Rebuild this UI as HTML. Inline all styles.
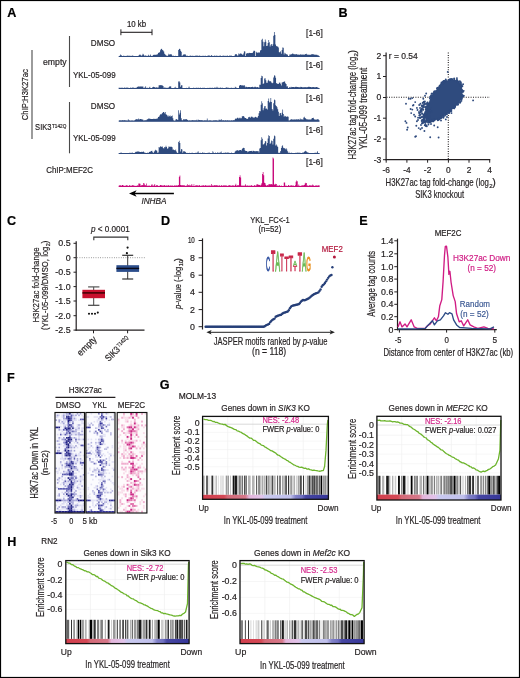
<!DOCTYPE html>
<html><head><meta charset="utf-8"><style>
html,body{margin:0;padding:0;background:#fff;}
svg{display:block;will-change:transform;font-family:"Liberation Sans", sans-serif;}
</style></head><body>
<svg width="520" height="678" viewBox="0 0 520 678" fill="#231f20">
<rect width="520" height="678" fill="#fff"/>
<text x="7.2" y="16.9" font-weight="bold" fill="#000" stroke="#000" stroke-width="0.2" font-size="12.6">A</text>
<text x="338.6" y="16.9" font-weight="bold" fill="#000" stroke="#000" stroke-width="0.2" font-size="12.6">B</text>
<text x="7" y="225.3" font-weight="bold" fill="#000" stroke="#000" stroke-width="0.2" font-size="12.6">C</text>
<text x="161" y="225.3" font-weight="bold" fill="#000" stroke="#000" stroke-width="0.2" font-size="12.6">D</text>
<text x="359.2" y="225.4" font-weight="bold" fill="#000" stroke="#000" stroke-width="0.2" font-size="12.6">E</text>
<text x="7" y="381.9" font-weight="bold" fill="#000" stroke="#000" stroke-width="0.2" font-size="12.6">F</text>
<text x="159.8" y="389.2" font-weight="bold" fill="#000" stroke="#000" stroke-width="0.2" font-size="12.6">G</text>
<text x="7.3" y="546.2" font-weight="bold" fill="#000" stroke="#000" stroke-width="0.2" font-size="12.6">H</text>
<text x="126.9" y="26.7" stroke="#231f20" stroke-width="0.2" textLength="19.2" lengthAdjust="spacingAndGlyphs" font-size="8.4">10 kb</text>
<line x1="120.9" y1="32.3" x2="152" y2="32.3" stroke="#231f20" stroke-width="1.1" />
<line x1="120.9" y1="29.3" x2="120.9" y2="35.2" stroke="#231f20" stroke-width="1" />
<line x1="152" y1="29.3" x2="152" y2="35.2" stroke="#231f20" stroke-width="1" />
<text x="90.8" y="45.8" stroke="#231f20" stroke-width="0.2" textLength="24.4" lengthAdjust="spacingAndGlyphs" font-size="9.3">DMSO</text>
<text x="43" y="64.5" stroke="#231f20" stroke-width="0.2" textLength="23.7" lengthAdjust="spacingAndGlyphs" font-size="9.4">empty</text>
<text x="72.9" y="77.5" stroke="#231f20" stroke-width="0.2" textLength="42.8" lengthAdjust="spacingAndGlyphs" font-size="9.4">YKL-05-099</text>
<text x="90.8" y="109.3" stroke="#231f20" stroke-width="0.2" textLength="24.4" lengthAdjust="spacingAndGlyphs" font-size="9.3">DMSO</text>
<text x="35.1" y="130.4" stroke="#231f20" stroke-width="0.2" textLength="16.4" lengthAdjust="spacingAndGlyphs" font-size="9.8">SIK3</text>
<text x="52" y="127.7" stroke="#231f20" stroke-width="0.2" textLength="14.3" lengthAdjust="spacingAndGlyphs" font-size="5.6">T142Q</text>
<text x="72.9" y="140.9" stroke="#231f20" stroke-width="0.2" textLength="42.8" lengthAdjust="spacingAndGlyphs" font-size="9.4">YKL-05-099</text>
<text transform="translate(27.6 120.2) rotate(-90)" stroke="#231f20" stroke-width="0.2" textLength="51" lengthAdjust="spacingAndGlyphs" font-size="9.6">ChIP:H3K27ac</text>
<text x="46.2" y="172.9" stroke="#231f20" stroke-width="0.2" textLength="46.8" lengthAdjust="spacingAndGlyphs" font-size="9.6">ChIP:MEF2C</text>
<text x="141.4" y="203.8" font-style="italic" stroke="#231f20" stroke-width="0.2" textLength="25.1" lengthAdjust="spacingAndGlyphs" font-size="9.2">INHBA</text>
<text x="306.1" y="36.1" stroke="#231f20" stroke-width="0.2" textLength="16.6" lengthAdjust="spacingAndGlyphs" font-size="8.4">[1-6]</text>
<text x="306.1" y="68.4" stroke="#231f20" stroke-width="0.2" textLength="16.6" lengthAdjust="spacingAndGlyphs" font-size="8.4">[1-6]</text>
<text x="306.1" y="101" stroke="#231f20" stroke-width="0.2" textLength="16.6" lengthAdjust="spacingAndGlyphs" font-size="8.4">[1-6]</text>
<text x="306.1" y="133.3" stroke="#231f20" stroke-width="0.2" textLength="16.6" lengthAdjust="spacingAndGlyphs" font-size="8.4">[1-6]</text>
<text x="306.1" y="165.3" stroke="#231f20" stroke-width="0.2" textLength="16.6" lengthAdjust="spacingAndGlyphs" font-size="8.4">[1-6]</text>
<line x1="32" y1="50" x2="32" y2="138.9" stroke="#4a4a4a" stroke-width="1.1" />
<line x1="69.5" y1="36" x2="69.5" y2="87" stroke="#4a4a4a" stroke-width="1.1" />
<line x1="69.5" y1="102" x2="69.5" y2="153.3" stroke="#4a4a4a" stroke-width="1.1" />
<line x1="134" y1="193.5" x2="173.9" y2="193.5" stroke="#000" stroke-width="1.3" />
<path d="M129 193.5 L136.6 190.2 L134.6 193.5 L136.6 196.8Z" fill="#000" stroke="none" stroke-width="1" />
<path d="M118.8 57 L118.8 56.19 L119.5 56.19 L119.5 55.78 L120.2 55.78 L120.2 54.61 L120.9 54.61 L120.9 55.07 L121.6 55.07 L121.6 56.28 L122.29 56.28 L122.29 56.12 L122.99 56.12 L122.99 55.79 L123.69 55.79 L123.69 55.72 L124.39 55.72 L124.39 56.06 L125.09 56.06 L125.09 56.27 L125.79 56.27 L125.79 55.74 L126.49 55.74 L126.49 55.88 L127.19 55.88 L127.19 55.51 L127.89 55.51 L127.89 55.68 L128.59 55.68 L128.59 55.84 L129.28 55.84 L129.28 55.67 L129.98 55.67 L129.98 55.85 L130.68 55.85 L130.68 55.9 L131.38 55.9 L131.38 55.81 L132.08 55.81 L132.08 55.61 L132.78 55.61 L132.78 55.76 L133.48 55.76 L133.48 56.21 L134.18 56.21 L134.18 56.17 L134.88 56.17 L134.88 56.28 L135.57 56.28 L135.57 55.89 L136.27 55.89 L136.27 56.18 L136.97 56.18 L136.97 56.12 L137.67 56.12 L137.67 55.98 L138.37 55.98 L138.37 55.53 L139.07 55.53 L139.07 54.86 L139.77 54.86 L139.77 54.5 L140.47 54.5 L140.47 55.32 L141.17 55.32 L141.17 55.77 L141.87 55.77 L141.87 55.19 L142.56 55.19 L142.56 53.83 L143.26 53.83 L143.26 54.6 L143.96 54.6 L143.96 55.69 L144.66 55.69 L144.66 55.61 L145.36 55.61 L145.36 55.62 L146.06 55.62 L146.06 55.81 L146.76 55.81 L146.76 56.09 L147.46 56.09 L147.46 55.67 L148.16 55.67 L148.16 54.78 L148.86 54.78 L148.86 56.11 L149.55 56.11 L149.55 55.57 L150.25 55.57 L150.25 54.49 L150.95 54.49 L150.95 56.25 L151.65 56.25 L151.65 55.81 L152.35 55.81 L152.35 55.87 L153.05 55.87 L153.05 55.03 L153.75 55.03 L153.75 54.41 L154.45 54.41 L154.45 55.03 L155.15 55.03 L155.15 54.84 L155.84 54.84 L155.84 54.83 L156.54 54.83 L156.54 54.52 L157.24 54.52 L157.24 54.36 L157.94 54.36 L157.94 53.01 L158.64 53.01 L158.64 52.49 L159.34 52.49 L159.34 52.19 L160.04 52.19 L160.04 50.23 L160.74 50.23 L160.74 48.95 L161.44 48.95 L161.44 48.72 L162.14 48.72 L162.14 50 L162.83 50 L162.83 50.41 L163.53 50.41 L163.53 51.61 L164.23 51.61 L164.23 53.84 L164.93 53.84 L164.93 54.53 L165.63 54.53 L165.63 55.16 L166.33 55.16 L166.33 55.77 L167.03 55.77 L167.03 55.89 L167.73 55.89 L167.73 55.16 L168.43 55.16 L168.43 53.84 L169.12 53.84 L169.12 54.54 L169.82 54.54 L169.82 54.39 L170.52 54.39 L170.52 54.1 L171.22 54.1 L171.22 54.61 L171.92 54.61 L171.92 55.65 L172.62 55.65 L172.62 55.84 L173.32 55.84 L173.32 55.7 L174.02 55.7 L174.02 55.9 L174.72 55.9 L174.72 56.3 L175.42 56.3 L175.42 55.75 L176.11 55.75 L176.11 56.08 L176.81 56.08 L176.81 55.93 L177.51 55.93 L177.51 56.16 L178.21 56.16 L178.21 49.92 L178.91 49.92 L178.91 48.64 L179.61 48.64 L179.61 49.04 L180.31 49.04 L180.31 50.69 L181.01 50.69 L181.01 51.8 L181.71 51.8 L181.71 56.26 L182.4 56.26 L182.4 55.33 L183.1 55.33 L183.1 54.41 L183.8 54.41 L183.8 54.5 L184.5 54.5 L184.5 54.16 L185.2 54.16 L185.2 54.48 L185.9 54.48 L185.9 55.8 L186.6 55.8 L186.6 55.8 L187.3 55.8 L187.3 55.81 L188 55.81 L188 56.01 L188.7 56.01 L188.7 56.21 L189.39 56.21 L189.39 55.82 L190.09 55.82 L190.09 55.53 L190.79 55.53 L190.79 56.22 L191.49 56.22 L191.49 55.64 L192.19 55.64 L192.19 55.83 L192.89 55.83 L192.89 56.04 L193.59 56.04 L193.59 55.69 L194.29 55.69 L194.29 56.25 L194.99 56.25 L194.99 56.27 L195.69 56.27 L195.69 54.9 L196.38 54.9 L196.38 55.99 L197.08 55.99 L197.08 55.55 L197.78 55.55 L197.78 56.25 L198.48 56.25 L198.48 55.77 L199.18 55.77 L199.18 55.52 L199.88 55.52 L199.88 56.23 L200.58 56.23 L200.58 55.87 L201.28 55.87 L201.28 56.28 L201.98 56.28 L201.98 55.99 L202.67 55.99 L202.67 55.62 L203.37 55.62 L203.37 56.03 L204.07 56.03 L204.07 55.94 L204.77 55.94 L204.77 55.58 L205.47 55.58 L205.47 56.22 L206.17 56.22 L206.17 56.05 L206.87 56.05 L206.87 55.88 L207.57 55.88 L207.57 55.52 L208.27 55.52 L208.27 55.56 L208.97 55.56 L208.97 55.51 L209.66 55.51 L209.66 55.79 L210.36 55.79 L210.36 56.18 L211.06 56.18 L211.06 55.09 L211.76 55.09 L211.76 55.79 L212.46 55.79 L212.46 56.16 L213.16 56.16 L213.16 56.07 L213.86 56.07 L213.86 55.76 L214.56 55.76 L214.56 55.5 L215.26 55.5 L215.26 55.91 L215.95 55.91 L215.95 55.62 L216.65 55.62 L216.65 56.2 L217.35 56.2 L217.35 55.84 L218.05 55.84 L218.05 55.97 L218.75 55.97 L218.75 55.86 L219.45 55.86 L219.45 55.85 L220.15 55.85 L220.15 55.58 L220.85 55.58 L220.85 56 L221.55 56 L221.55 56.02 L222.25 56.02 L222.25 55.83 L222.94 55.83 L222.94 55.75 L223.64 55.75 L223.64 55.52 L224.34 55.52 L224.34 56.28 L225.04 56.28 L225.04 55.63 L225.74 55.63 L225.74 56.02 L226.44 56.02 L226.44 55.76 L227.14 55.76 L227.14 55.61 L227.84 55.61 L227.84 56.06 L228.54 56.06 L228.54 55.99 L229.23 55.99 L229.23 55.51 L229.93 55.51 L229.93 55.69 L230.63 55.69 L230.63 55.56 L231.33 55.56 L231.33 55.63 L232.03 55.63 L232.03 56.14 L232.73 56.14 L232.73 56.18 L233.43 56.18 L233.43 56.01 L234.13 56.01 L234.13 55.74 L234.83 55.74 L234.83 54.51 L235.53 54.51 L235.53 54.08 L236.22 54.08 L236.22 54.36 L236.92 54.36 L236.92 55.4 L237.62 55.4 L237.62 55.51 L238.32 55.51 L238.32 53.54 L239.02 53.54 L239.02 54.21 L239.72 54.21 L239.72 53.54 L240.42 53.54 L240.42 53.58 L241.12 53.58 L241.12 53.7 L241.82 53.7 L241.82 54.2 L242.51 54.2 L242.51 55.12 L243.21 55.12 L243.21 53.52 L243.91 53.52 L243.91 51.34 L244.61 51.34 L244.61 51.51 L245.31 51.51 L245.31 55.99 L246.01 55.99 L246.01 53.68 L246.71 53.68 L246.71 52.91 L247.41 52.91 L247.41 53.29 L248.11 53.29 L248.11 53.24 L248.81 53.24 L248.81 52.86 L249.5 52.86 L249.5 52.91 L250.2 52.91 L250.2 52.92 L250.9 52.92 L250.9 53.01 L251.6 53.01 L251.6 53.08 L252.3 53.08 L252.3 52.84 L253 52.84 L253 51.58 L253.7 51.58 L253.7 50.53 L254.4 50.53 L254.4 51.12 L255.1 51.12 L255.1 56.24 L255.8 56.24 L255.8 51.65 L256.49 51.65 L256.49 52.47 L257.19 52.47 L257.19 52.71 L257.89 52.71 L257.89 52.41 L258.59 52.41 L258.59 52.6 L259.29 52.6 L259.29 52.61 L259.99 52.61 L259.99 50.45 L260.69 50.45 L260.69 50.03 L261.39 50.03 L261.39 39.7 L262.09 39.7 L262.09 38.66 L262.78 38.66 L262.78 41.83 L263.48 41.83 L263.48 46.36 L264.18 46.36 L264.18 42.3 L264.88 42.3 L264.88 39.39 L265.58 39.39 L265.58 41.73 L266.28 41.73 L266.28 46.09 L266.98 46.09 L266.98 45.64 L267.68 45.64 L267.68 42.89 L268.38 42.89 L268.38 40.1 L269.08 40.1 L269.08 42.3 L269.77 42.3 L269.77 46.56 L270.47 46.56 L270.47 44.72 L271.17 44.72 L271.17 43.91 L271.87 43.91 L271.87 45.93 L272.57 45.93 L272.57 44.31 L273.27 44.31 L273.27 35.85 L273.97 35.85 L273.97 32.05 L274.67 32.05 L274.67 34.95 L275.37 34.95 L275.37 44.51 L276.06 44.51 L276.06 45.94 L276.76 45.94 L276.76 46.41 L277.46 46.41 L277.46 46.59 L278.16 46.59 L278.16 47.58 L278.86 47.58 L278.86 52.18 L279.56 52.18 L279.56 52.32 L280.26 52.32 L280.26 51.3 L280.96 51.3 L280.96 53.7 L281.66 53.7 L281.66 50.04 L282.36 50.04 L282.36 47.4 L283.05 47.4 L283.05 47.81 L283.75 47.81 L283.75 54.46 L284.45 54.46 L284.45 52.84 L285.15 52.84 L285.15 53.41 L285.85 53.41 L285.85 54.36 L286.55 54.36 L286.55 54.31 L287.25 54.31 L287.25 54.77 L287.95 54.77 L287.95 56.22 L288.65 56.22 L288.65 56.03 L289.34 56.03 L289.34 54.44 L290.04 54.44 L290.04 54.45 L290.74 54.45 L290.74 54.53 L291.44 54.53 L291.44 53.94 L292.14 53.94 L292.14 53.39 L292.84 53.39 L292.84 53.76 L293.54 53.76 L293.54 54.35 L294.24 54.35 L294.24 54.29 L294.94 54.29 L294.94 54.53 L295.64 54.53 L295.64 54.11 L296.33 54.11 L296.33 54.2 L297.03 54.2 L297.03 54.6 L297.73 54.6 L297.73 54.66 L298.43 54.66 L298.43 54.5 L299.13 54.5 L299.13 54.71 L299.83 54.71 L299.83 54.83 L300.53 54.83 L300.53 53.96 L301.23 53.96 L301.23 54.64 L301.93 54.64 L301.93 54.63 L302.63 54.63 L302.63 54.18 L303.32 54.18 L303.32 54.85 L304.02 54.85 L304.02 54.79 L304.72 54.79 L304.72 54.27 L305.42 54.27 L305.42 54.06 L306.12 54.06 L306.12 53.64 L306.82 53.64 L306.82 54.77 L307.52 54.77 L307.52 54.6 L308.22 54.6 L308.22 54.75 L308.92 54.75 L308.92 54.78 L309.61 54.78 L309.61 54.64 L310.31 54.64 L310.31 54.83 L311.01 54.83 L311.01 54.14 L311.71 54.14 L311.71 54.55 L312.41 54.55 L312.41 53.89 L313.11 53.89 L313.11 54.15 L313.81 54.15 L313.81 54.71 L314.51 54.71 L314.51 54.55 L315.21 54.55 L315.21 54.83 L315.91 54.83 L315.91 54.85 L316.6 54.85 L316.6 54.73 L317.3 54.73 L317.3 55.15 L318 55.15 L318 55.35 L318.7 55.35 L318.7 56.04 L319.4 56.04 L319.4 57Z" fill="#2e4a7e" stroke="none" stroke-width="1" />
<rect x="118.8" y="56" width="200.6" height="1" fill="#2e4a7e" />
<path d="M118.8 89 L118.8 87.54 L119.5 87.54 L119.5 88.25 L120.2 88.25 L120.2 87.63 L120.9 87.63 L120.9 87.76 L121.6 87.76 L121.6 87.82 L122.29 87.82 L122.29 87.84 L122.99 87.84 L122.99 87.96 L123.69 87.96 L123.69 87.72 L124.39 87.72 L124.39 87.54 L125.09 87.54 L125.09 87.94 L125.79 87.94 L125.79 87.17 L126.49 87.17 L126.49 88.05 L127.19 88.05 L127.19 87.59 L127.89 87.59 L127.89 87.85 L128.59 87.85 L128.59 88.28 L129.28 88.28 L129.28 88.19 L129.98 88.19 L129.98 87.5 L130.68 87.5 L130.68 88.15 L131.38 88.15 L131.38 87.66 L132.08 87.66 L132.08 87.57 L132.78 87.57 L132.78 87.67 L133.48 87.67 L133.48 87.52 L134.18 87.52 L134.18 88.17 L134.88 88.17 L134.88 87.73 L135.57 87.73 L135.57 87.88 L136.27 87.88 L136.27 87.56 L136.97 87.56 L136.97 86.95 L137.67 86.95 L137.67 86.54 L138.37 86.54 L138.37 86.6 L139.07 86.6 L139.07 86.44 L139.77 86.44 L139.77 86.76 L140.47 86.76 L140.47 86.25 L141.17 86.25 L141.17 86.58 L141.87 86.58 L141.87 86.73 L142.56 86.73 L142.56 86.27 L143.26 86.27 L143.26 87.8 L143.96 87.8 L143.96 87.64 L144.66 87.64 L144.66 87.57 L145.36 87.57 L145.36 86.36 L146.06 86.36 L146.06 88.08 L146.76 88.08 L146.76 87.6 L147.46 87.6 L147.46 87.88 L148.16 87.88 L148.16 88.1 L148.86 88.1 L148.86 87.6 L149.55 87.6 L149.55 86.76 L150.25 86.76 L150.25 88.16 L150.95 88.16 L150.95 88.23 L151.65 88.23 L151.65 87.89 L152.35 87.89 L152.35 86.93 L153.05 86.93 L153.05 86.77 L153.75 86.77 L153.75 86.93 L154.45 86.93 L154.45 87.36 L155.15 87.36 L155.15 87.71 L155.84 87.71 L155.84 86.95 L156.54 86.95 L156.54 87.69 L157.24 87.69 L157.24 87.58 L157.94 87.58 L157.94 87.61 L158.64 87.61 L158.64 85.17 L159.34 85.17 L159.34 85.22 L160.04 85.22 L160.04 85.05 L160.74 85.05 L160.74 85.61 L161.44 85.61 L161.44 85.02 L162.14 85.02 L162.14 85.61 L162.83 85.61 L162.83 86.02 L163.53 86.02 L163.53 87.79 L164.23 87.79 L164.23 87.51 L164.93 87.51 L164.93 87.5 L165.63 87.5 L165.63 87.94 L166.33 87.94 L166.33 87.83 L167.03 87.83 L167.03 87.66 L167.73 87.66 L167.73 88.09 L168.43 88.09 L168.43 87.33 L169.12 87.33 L169.12 86.41 L169.82 86.41 L169.82 86.2 L170.52 86.2 L170.52 86.62 L171.22 86.62 L171.22 88.11 L171.92 88.11 L171.92 87.88 L172.62 87.88 L172.62 88.05 L173.32 88.05 L173.32 88.13 L174.02 88.13 L174.02 87.53 L174.72 87.53 L174.72 87.95 L175.42 87.95 L175.42 86.79 L176.11 86.79 L176.11 87.88 L176.81 87.88 L176.81 88.22 L177.51 88.22 L177.51 88.01 L178.21 88.01 L178.21 81.62 L178.91 81.62 L178.91 81.28 L179.61 81.28 L179.61 82.58 L180.31 82.58 L180.31 86.73 L181.01 86.73 L181.01 85.36 L181.71 85.36 L181.71 85.19 L182.4 85.19 L182.4 88.24 L183.1 88.24 L183.1 88 L183.8 88 L183.8 88.24 L184.5 88.24 L184.5 88.15 L185.2 88.15 L185.2 87.99 L185.9 87.99 L185.9 87.7 L186.6 87.7 L186.6 88.2 L187.3 88.2 L187.3 88.24 L188 88.24 L188 87.79 L188.7 87.79 L188.7 86.39 L189.39 86.39 L189.39 87.68 L190.09 87.68 L190.09 87.9 L190.79 87.9 L190.79 87.93 L191.49 87.93 L191.49 88.08 L192.19 88.08 L192.19 87.92 L192.89 87.92 L192.89 87.66 L193.59 87.66 L193.59 87.63 L194.29 87.63 L194.29 88.11 L194.99 88.11 L194.99 88.09 L195.69 88.09 L195.69 87.76 L196.38 87.76 L196.38 87.83 L197.08 87.83 L197.08 88.22 L197.78 88.22 L197.78 87.5 L198.48 87.5 L198.48 87.97 L199.18 87.97 L199.18 88.23 L199.88 88.23 L199.88 87.51 L200.58 87.51 L200.58 88.2 L201.28 88.2 L201.28 88.11 L201.98 88.11 L201.98 87.76 L202.67 87.76 L202.67 87.88 L203.37 87.88 L203.37 87.87 L204.07 87.87 L204.07 87.7 L204.77 87.7 L204.77 87.89 L205.47 87.89 L205.47 88.09 L206.17 88.09 L206.17 87.93 L206.87 87.93 L206.87 87.98 L207.57 87.98 L207.57 87.67 L208.27 87.67 L208.27 88.18 L208.97 88.18 L208.97 88.28 L209.66 88.28 L209.66 87.59 L210.36 87.59 L210.36 87.89 L211.06 87.89 L211.06 87.98 L211.76 87.98 L211.76 87.55 L212.46 87.55 L212.46 87.92 L213.16 87.92 L213.16 88.04 L213.86 88.04 L213.86 87.77 L214.56 87.77 L214.56 87.62 L215.26 87.62 L215.26 87.8 L215.95 87.8 L215.95 87.77 L216.65 87.77 L216.65 86.69 L217.35 86.69 L217.35 87.73 L218.05 87.73 L218.05 87.78 L218.75 87.78 L218.75 88.29 L219.45 88.29 L219.45 87.72 L220.15 87.72 L220.15 87.58 L220.85 87.58 L220.85 88.22 L221.55 88.22 L221.55 87.69 L222.25 87.69 L222.25 87.7 L222.94 87.7 L222.94 88.15 L223.64 88.15 L223.64 88.19 L224.34 88.19 L224.34 87.95 L225.04 87.95 L225.04 87.85 L225.74 87.85 L225.74 88.14 L226.44 88.14 L226.44 87.11 L227.14 87.11 L227.14 87.63 L227.84 87.63 L227.84 87.7 L228.54 87.7 L228.54 87.76 L229.23 87.76 L229.23 88.09 L229.93 88.09 L229.93 88.28 L230.63 88.28 L230.63 87.7 L231.33 87.7 L231.33 87.7 L232.03 87.7 L232.03 87.98 L232.73 87.98 L232.73 87.67 L233.43 87.67 L233.43 88.19 L234.13 88.19 L234.13 87.99 L234.83 87.99 L234.83 86.84 L235.53 86.84 L235.53 87.53 L236.22 87.53 L236.22 87.87 L236.92 87.87 L236.92 87.95 L237.62 87.95 L237.62 88.05 L238.32 88.05 L238.32 87.91 L239.02 87.91 L239.02 85.84 L239.72 85.84 L239.72 85 L240.42 85 L240.42 84.94 L241.12 84.94 L241.12 85.48 L241.82 85.48 L241.82 84.99 L242.51 84.99 L242.51 85.67 L243.21 85.67 L243.21 85.62 L243.91 85.62 L243.91 84.97 L244.61 84.97 L244.61 86.13 L245.31 86.13 L245.31 87.26 L246.01 87.26 L246.01 86.85 L246.71 86.85 L246.71 86.99 L247.41 86.99 L247.41 87.3 L248.11 87.3 L248.11 86.97 L248.81 86.97 L248.81 86.9 L249.5 86.9 L249.5 87 L250.2 87 L250.2 87.16 L250.9 87.16 L250.9 87.07 L251.6 87.07 L251.6 86.93 L252.3 86.93 L252.3 86.83 L253 86.83 L253 87.19 L253.7 87.19 L253.7 87.15 L254.4 87.15 L254.4 86.81 L255.1 86.81 L255.1 86.85 L255.8 86.85 L255.8 87.28 L256.49 87.28 L256.49 87.15 L257.19 87.15 L257.19 86.92 L257.89 86.92 L257.89 87.22 L258.59 87.22 L258.59 87.63 L259.29 87.63 L259.29 84.66 L259.99 84.66 L259.99 84.86 L260.69 84.86 L260.69 78.04 L261.39 78.04 L261.39 75.76 L262.09 75.76 L262.09 76.32 L262.78 76.32 L262.78 83.95 L263.48 83.95 L263.48 83.2 L264.18 83.2 L264.18 78.38 L264.88 78.38 L264.88 78.28 L265.58 78.28 L265.58 80.15 L266.28 80.15 L266.28 82.81 L266.98 82.81 L266.98 82.86 L267.68 82.86 L267.68 80.74 L268.38 80.74 L268.38 79.77 L269.08 79.77 L269.08 81.29 L269.77 81.29 L269.77 81.32 L270.47 81.32 L270.47 81.21 L271.17 81.21 L271.17 82.45 L271.87 82.45 L271.87 83.36 L272.57 83.36 L272.57 82.71 L273.27 82.71 L273.27 77.43 L273.97 77.43 L273.97 75.27 L274.67 75.27 L274.67 75.69 L275.37 75.69 L275.37 77.84 L276.06 77.84 L276.06 83.01 L276.76 83.01 L276.76 83.79 L277.46 83.79 L277.46 83.84 L278.16 83.84 L278.16 83.97 L278.86 83.97 L278.86 82.8 L279.56 82.8 L279.56 82.61 L280.26 82.61 L280.26 83.74 L280.96 83.74 L280.96 85.5 L281.66 85.5 L281.66 82.58 L282.36 82.58 L282.36 82.34 L283.05 82.34 L283.05 81.95 L283.75 81.95 L283.75 81.46 L284.45 81.46 L284.45 81.61 L285.15 81.61 L285.15 83.22 L285.85 83.22 L285.85 84.08 L286.55 84.08 L286.55 86.5 L287.25 86.5 L287.25 86.37 L287.95 86.37 L287.95 88.26 L288.65 88.26 L288.65 87.64 L289.34 87.64 L289.34 87.07 L290.04 87.07 L290.04 87.39 L290.74 87.39 L290.74 86.8 L291.44 86.8 L291.44 87.19 L292.14 87.19 L292.14 86.96 L292.84 86.96 L292.84 87.03 L293.54 87.03 L293.54 86.95 L294.24 86.95 L294.24 87.28 L294.94 87.28 L294.94 86.84 L295.64 86.84 L295.64 87.05 L296.33 87.05 L296.33 86.83 L297.03 86.83 L297.03 86.96 L297.73 86.96 L297.73 87.1 L298.43 87.1 L298.43 87.21 L299.13 87.21 L299.13 87.24 L299.83 87.24 L299.83 87.18 L300.53 87.18 L300.53 86.87 L301.23 86.87 L301.23 86.98 L301.93 86.98 L301.93 87.18 L302.63 87.18 L302.63 87.18 L303.32 87.18 L303.32 87.24 L304.02 87.24 L304.02 87.21 L304.72 87.21 L304.72 87.1 L305.42 87.1 L305.42 87.34 L306.12 87.34 L306.12 87.27 L306.82 87.27 L306.82 87.32 L307.52 87.32 L307.52 86.99 L308.22 86.99 L308.22 86.84 L308.92 86.84 L308.92 86.81 L309.61 86.81 L309.61 86.96 L310.31 86.96 L310.31 86.96 L311.01 86.96 L311.01 87.23 L311.71 87.23 L311.71 87.27 L312.41 87.27 L312.41 87.11 L313.11 87.11 L313.11 87.08 L313.81 87.08 L313.81 87.23 L314.51 87.23 L314.51 87.3 L315.21 87.3 L315.21 87.32 L315.91 87.32 L315.91 87.06 L316.6 87.06 L316.6 87.06 L317.3 87.06 L317.3 87.38 L318 87.38 L318 87.71 L318.7 87.71 L318.7 88.28 L319.4 88.28 L319.4 89Z" fill="#2e4a7e" stroke="none" stroke-width="1" />
<rect x="118.8" y="88" width="200.6" height="1" fill="#2e4a7e" />
<path d="M118.8 121.6 L118.8 120.71 L119.5 120.71 L119.5 120.23 L120.2 120.23 L120.2 120.39 L120.9 120.39 L120.9 120.85 L121.6 120.85 L121.6 120.32 L122.29 120.32 L122.29 120.15 L122.99 120.15 L122.99 120.4 L123.69 120.4 L123.69 120.18 L124.39 120.18 L124.39 120.21 L125.09 120.21 L125.09 120.44 L125.79 120.44 L125.79 120.57 L126.49 120.57 L126.49 120.86 L127.19 120.86 L127.19 120.65 L127.89 120.65 L127.89 119.15 L128.59 119.15 L128.59 120.48 L129.28 120.48 L129.28 120.56 L129.98 120.56 L129.98 120.89 L130.68 120.89 L130.68 120.4 L131.38 120.4 L131.38 120.85 L132.08 120.85 L132.08 120.61 L132.78 120.61 L132.78 120.88 L133.48 120.88 L133.48 120.75 L134.18 120.75 L134.18 120.55 L134.88 120.55 L134.88 119.97 L135.57 119.97 L135.57 119.07 L136.27 119.07 L136.27 119.34 L136.97 119.34 L136.97 119.33 L137.67 119.33 L137.67 119.44 L138.37 119.44 L138.37 118.58 L139.07 118.58 L139.07 119.43 L139.77 119.43 L139.77 119.03 L140.47 119.03 L140.47 119.08 L141.17 119.08 L141.17 119.36 L141.87 119.36 L141.87 119.55 L142.56 119.55 L142.56 119.39 L143.26 119.39 L143.26 120.8 L143.96 120.8 L143.96 120.42 L144.66 120.42 L144.66 120.5 L145.36 120.5 L145.36 120.34 L146.06 120.34 L146.06 120.18 L146.76 120.18 L146.76 119.2 L147.46 119.2 L147.46 119.21 L148.16 119.21 L148.16 118.51 L148.86 118.51 L148.86 118.8 L149.55 118.8 L149.55 118.52 L150.25 118.52 L150.25 118.9 L150.95 118.9 L150.95 119.11 L151.65 119.11 L151.65 119.12 L152.35 119.12 L152.35 119.01 L153.05 119.01 L153.05 118.63 L153.75 118.63 L153.75 118.91 L154.45 118.91 L154.45 118.72 L155.15 118.72 L155.15 118.9 L155.84 118.9 L155.84 118.41 L156.54 118.41 L156.54 119.04 L157.24 119.04 L157.24 118.14 L157.94 118.14 L157.94 116.93 L158.64 116.93 L158.64 116.76 L159.34 116.76 L159.34 115.39 L160.04 115.39 L160.04 114.32 L160.74 114.32 L160.74 114.44 L161.44 114.44 L161.44 113.72 L162.14 113.72 L162.14 113 L162.83 113 L162.83 111.99 L163.53 111.99 L163.53 111.94 L164.23 111.94 L164.23 113.25 L164.93 113.25 L164.93 112 L165.63 112 L165.63 114.35 L166.33 114.35 L166.33 114.63 L167.03 114.63 L167.03 115.57 L167.73 115.57 L167.73 116.84 L168.43 116.84 L168.43 115.38 L169.12 115.38 L169.12 116.28 L169.82 116.28 L169.82 115.48 L170.52 115.48 L170.52 116.7 L171.22 116.7 L171.22 116.09 L171.92 116.09 L171.92 115.52 L172.62 115.52 L172.62 118.27 L173.32 118.27 L173.32 120.58 L174.02 120.58 L174.02 120.88 L174.72 120.88 L174.72 120.88 L175.42 120.88 L175.42 119.46 L176.11 119.46 L176.11 119.07 L176.81 119.07 L176.81 119.62 L177.51 119.62 L177.51 119.93 L178.21 119.93 L178.21 110.17 L178.91 110.17 L178.91 114.56 L179.61 114.56 L179.61 112.77 L180.31 112.77 L180.31 110.25 L181.01 110.25 L181.01 118.23 L181.71 118.23 L181.71 120.2 L182.4 120.2 L182.4 120.39 L183.1 120.39 L183.1 119.23 L183.8 119.23 L183.8 119.21 L184.5 119.21 L184.5 119.62 L185.2 119.62 L185.2 119.21 L185.9 119.21 L185.9 119.05 L186.6 119.05 L186.6 119.4 L187.3 119.4 L187.3 119.93 L188 119.93 L188 120.83 L188.7 120.83 L188.7 120.41 L189.39 120.41 L189.39 120.51 L190.09 120.51 L190.09 120.75 L190.79 120.75 L190.79 120.3 L191.49 120.3 L191.49 120.82 L192.19 120.82 L192.19 120.12 L192.89 120.12 L192.89 120.48 L193.59 120.48 L193.59 120.25 L194.29 120.25 L194.29 120.47 L194.99 120.47 L194.99 120.27 L195.69 120.27 L195.69 120.86 L196.38 120.86 L196.38 119.63 L197.08 119.63 L197.08 120.79 L197.78 120.79 L197.78 119.43 L198.48 119.43 L198.48 120.25 L199.18 120.25 L199.18 120.11 L199.88 120.11 L199.88 120.13 L200.58 120.13 L200.58 120.15 L201.28 120.15 L201.28 120.33 L201.98 120.33 L201.98 120.13 L202.67 120.13 L202.67 120.65 L203.37 120.65 L203.37 120.79 L204.07 120.79 L204.07 120.48 L204.77 120.48 L204.77 120.13 L205.47 120.13 L205.47 120.71 L206.17 120.71 L206.17 120.38 L206.87 120.38 L206.87 118.45 L207.57 118.45 L207.57 120.68 L208.27 120.68 L208.27 120.75 L208.97 120.75 L208.97 120.51 L209.66 120.51 L209.66 120.44 L210.36 120.44 L210.36 120.42 L211.06 120.42 L211.06 120.69 L211.76 120.69 L211.76 120.89 L212.46 120.89 L212.46 120.83 L213.16 120.83 L213.16 120.6 L213.86 120.6 L213.86 120.23 L214.56 120.23 L214.56 120.63 L215.26 120.63 L215.26 120.2 L215.95 120.2 L215.95 120.22 L216.65 120.22 L216.65 120.73 L217.35 120.73 L217.35 120.66 L218.05 120.66 L218.05 120.78 L218.75 120.78 L218.75 119.47 L219.45 119.47 L219.45 120.17 L220.15 120.17 L220.15 120.19 L220.85 120.19 L220.85 119.04 L221.55 119.04 L221.55 120.4 L222.25 120.4 L222.25 120.55 L222.94 120.55 L222.94 120.18 L223.64 120.18 L223.64 120.59 L224.34 120.59 L224.34 120.83 L225.04 120.83 L225.04 120.37 L225.74 120.37 L225.74 120.4 L226.44 120.4 L226.44 120.85 L227.14 120.85 L227.14 120.15 L227.84 120.15 L227.84 120.5 L228.54 120.5 L228.54 120.76 L229.23 120.76 L229.23 120.55 L229.93 120.55 L229.93 120.76 L230.63 120.76 L230.63 120.86 L231.33 120.86 L231.33 120.35 L232.03 120.35 L232.03 120.76 L232.73 120.76 L232.73 120.22 L233.43 120.22 L233.43 120.24 L234.13 120.24 L234.13 120.19 L234.83 120.19 L234.83 118.88 L235.53 118.88 L235.53 118.34 L236.22 118.34 L236.22 118.64 L236.92 118.64 L236.92 117.73 L237.62 117.73 L237.62 117.64 L238.32 117.64 L238.32 118.48 L239.02 118.48 L239.02 117.86 L239.72 117.86 L239.72 118.4 L240.42 118.4 L240.42 117.8 L241.12 117.8 L241.12 118.13 L241.82 118.13 L241.82 116.34 L242.51 116.34 L242.51 116.19 L243.21 116.19 L243.21 116.08 L243.91 116.08 L243.91 116.75 L244.61 116.75 L244.61 118.12 L245.31 118.12 L245.31 117.95 L246.01 117.95 L246.01 118.6 L246.71 118.6 L246.71 118.98 L247.41 118.98 L247.41 118.72 L248.11 118.72 L248.11 117.28 L248.81 117.28 L248.81 117.21 L249.5 117.21 L249.5 116.64 L250.2 116.64 L250.2 117.73 L250.9 117.73 L250.9 116.82 L251.6 116.82 L251.6 116.5 L252.3 116.5 L252.3 117.35 L253 117.35 L253 117.54 L253.7 117.54 L253.7 117.84 L254.4 117.84 L254.4 117.18 L255.1 117.18 L255.1 116.81 L255.8 116.81 L255.8 116.97 L256.49 116.97 L256.49 117.63 L257.19 117.63 L257.19 117.6 L257.89 117.6 L257.89 116.02 L258.59 116.02 L258.59 113.18 L259.29 113.18 L259.29 111.09 L259.99 111.09 L259.99 111.33 L260.69 111.33 L260.69 104.75 L261.39 104.75 L261.39 101.31 L262.09 101.31 L262.09 103.14 L262.78 103.14 L262.78 110.33 L263.48 110.33 L263.48 108.13 L264.18 108.13 L264.18 106.15 L264.88 106.15 L264.88 106 L265.58 106 L265.58 108.75 L266.28 108.75 L266.28 108.61 L266.98 108.61 L266.98 109.61 L267.68 109.61 L267.68 101.08 L268.38 101.08 L268.38 98.6 L269.08 98.6 L269.08 102.48 L269.77 102.48 L269.77 101.65 L270.47 101.65 L270.47 98.03 L271.17 98.03 L271.17 101.91 L271.87 101.91 L271.87 109 L272.57 109 L272.57 110.48 L273.27 110.48 L273.27 103.35 L273.97 103.35 L273.97 99.47 L274.67 99.47 L274.67 100.21 L275.37 100.21 L275.37 105.35 L276.06 105.35 L276.06 105.88 L276.76 105.88 L276.76 107.13 L277.46 107.13 L277.46 109.22 L278.16 109.22 L278.16 111.67 L278.86 111.67 L278.86 115.98 L279.56 115.98 L279.56 113.33 L280.26 113.33 L280.26 112.99 L280.96 112.99 L280.96 115.2 L281.66 115.2 L281.66 112.77 L282.36 112.77 L282.36 109.42 L283.05 109.42 L283.05 114.12 L283.75 114.12 L283.75 116.69 L284.45 116.69 L284.45 115.83 L285.15 115.83 L285.15 116.29 L285.85 116.29 L285.85 116.53 L286.55 116.53 L286.55 116.96 L287.25 116.96 L287.25 116.26 L287.95 116.26 L287.95 116.8 L288.65 116.8 L288.65 120.87 L289.34 120.87 L289.34 120.48 L290.04 120.48 L290.04 119.87 L290.74 119.87 L290.74 119.28 L291.44 119.28 L291.44 119.31 L292.14 119.31 L292.14 119.43 L292.84 119.43 L292.84 119.65 L293.54 119.65 L293.54 119.23 L294.24 119.23 L294.24 119.44 L294.94 119.44 L294.94 119.48 L295.64 119.48 L295.64 119.4 L296.33 119.4 L296.33 119.3 L297.03 119.3 L297.03 119.53 L297.73 119.53 L297.73 119.33 L298.43 119.33 L298.43 119.23 L299.13 119.23 L299.13 119.74 L299.83 119.74 L299.83 118.4 L300.53 118.4 L300.53 119.6 L301.23 119.6 L301.23 119.25 L301.93 119.25 L301.93 119.33 L302.63 119.33 L302.63 119.65 L303.32 119.65 L303.32 117.55 L304.02 117.55 L304.02 116.79 L304.72 116.79 L304.72 117.95 L305.42 117.95 L305.42 118.5 L306.12 118.5 L306.12 119.18 L306.82 119.18 L306.82 119.25 L307.52 119.25 L307.52 119.43 L308.22 119.43 L308.22 119.47 L308.92 119.47 L308.92 119.54 L309.61 119.54 L309.61 119.38 L310.31 119.38 L310.31 119.42 L311.01 119.42 L311.01 119.17 L311.71 119.17 L311.71 118.08 L312.41 118.08 L312.41 118.02 L313.11 118.02 L313.11 117.79 L313.81 117.79 L313.81 118.98 L314.51 118.98 L314.51 119.68 L315.21 119.68 L315.21 119.54 L315.91 119.54 L315.91 119.69 L316.6 119.69 L316.6 119.17 L317.3 119.17 L317.3 119.21 L318 119.21 L318 119.18 L318.7 119.18 L318.7 120.22 L319.4 120.22 L319.4 121.6Z" fill="#2e4a7e" stroke="none" stroke-width="1" />
<rect x="118.8" y="120.6" width="200.6" height="1" fill="#2e4a7e" />
<path d="M118.8 154 L118.8 153.11 L119.5 153.11 L119.5 152.98 L120.2 152.98 L120.2 152.87 L120.9 152.87 L120.9 152.56 L121.6 152.56 L121.6 153.05 L122.29 153.05 L122.29 153.23 L122.99 153.23 L122.99 152.92 L123.69 152.92 L123.69 153.06 L124.39 153.06 L124.39 152.89 L125.09 152.89 L125.09 153.06 L125.79 153.06 L125.79 153.08 L126.49 153.08 L126.49 153.14 L127.19 153.14 L127.19 153.02 L127.89 153.02 L127.89 153.22 L128.59 153.22 L128.59 153.11 L129.28 153.11 L129.28 152.74 L129.98 152.74 L129.98 153.29 L130.68 153.29 L130.68 152.55 L131.38 152.55 L131.38 152.94 L132.08 152.94 L132.08 152.57 L132.78 152.57 L132.78 153.22 L133.48 153.22 L133.48 153.26 L134.18 153.26 L134.18 152.91 L134.88 152.91 L134.88 152.16 L135.57 152.16 L135.57 151.86 L136.27 151.86 L136.27 151.87 L136.97 151.87 L136.97 151.48 L137.67 151.48 L137.67 151.52 L138.37 151.52 L138.37 151.39 L139.07 151.39 L139.07 151.67 L139.77 151.67 L139.77 151.99 L140.47 151.99 L140.47 151.95 L141.17 151.95 L141.17 151.64 L141.87 151.64 L141.87 152.03 L142.56 152.03 L142.56 151.65 L143.26 151.65 L143.26 151.5 L143.96 151.5 L143.96 152.29 L144.66 152.29 L144.66 153.01 L145.36 153.01 L145.36 152.64 L146.06 152.64 L146.06 153.05 L146.76 153.05 L146.76 153.21 L147.46 153.21 L147.46 152.61 L148.16 152.61 L148.16 153.06 L148.86 153.06 L148.86 151.96 L149.55 151.96 L149.55 151.65 L150.25 151.65 L150.25 151.58 L150.95 151.58 L150.95 151.1 L151.65 151.1 L151.65 150.85 L152.35 150.85 L152.35 152.15 L153.05 152.15 L153.05 153.19 L153.75 153.19 L153.75 151.77 L154.45 151.77 L154.45 150.65 L155.15 150.65 L155.15 149.85 L155.84 149.85 L155.84 150.26 L156.54 150.26 L156.54 150.81 L157.24 150.81 L157.24 152.63 L157.94 152.63 L157.94 152.58 L158.64 152.58 L158.64 147.1 L159.34 147.1 L159.34 147.55 L160.04 147.55 L160.04 146.3 L160.74 146.3 L160.74 146.65 L161.44 146.65 L161.44 146.63 L162.14 146.63 L162.14 146.58 L162.83 146.58 L162.83 148.1 L163.53 148.1 L163.53 148.42 L164.23 148.42 L164.23 147.06 L164.93 147.06 L164.93 147.14 L165.63 147.14 L165.63 145.84 L166.33 145.84 L166.33 147.06 L167.03 147.06 L167.03 148.64 L167.73 148.64 L167.73 148.17 L168.43 148.17 L168.43 146.48 L169.12 146.48 L169.12 146.84 L169.82 146.84 L169.82 146.7 L170.52 146.7 L170.52 146.78 L171.22 146.78 L171.22 146.84 L171.92 146.84 L171.92 147.35 L172.62 147.35 L172.62 149.73 L173.32 149.73 L173.32 149.59 L174.02 149.59 L174.02 149.95 L174.72 149.95 L174.72 150.59 L175.42 150.59 L175.42 149.54 L176.11 149.54 L176.11 151.55 L176.81 151.55 L176.81 152.75 L177.51 152.75 L177.51 153.29 L178.21 153.29 L178.21 142.01 L178.91 142.01 L178.91 140.81 L179.61 140.81 L179.61 143.02 L180.31 143.02 L180.31 151.47 L181.01 151.47 L181.01 149.1 L181.71 149.1 L181.71 149.55 L182.4 149.55 L182.4 152.77 L183.1 152.77 L183.1 151.23 L183.8 151.23 L183.8 151.61 L184.5 151.61 L184.5 151.37 L185.2 151.37 L185.2 151.93 L185.9 151.93 L185.9 153.19 L186.6 153.19 L186.6 152.71 L187.3 152.71 L187.3 153.12 L188 153.12 L188 153.02 L188.7 153.02 L188.7 153.02 L189.39 153.02 L189.39 152.64 L190.09 152.64 L190.09 153.06 L190.79 153.06 L190.79 152.93 L191.49 152.93 L191.49 152.67 L192.19 152.67 L192.19 152.85 L192.89 152.85 L192.89 153.16 L193.59 153.16 L193.59 153.28 L194.29 153.28 L194.29 153.15 L194.99 153.15 L194.99 153.16 L195.69 153.16 L195.69 152.55 L196.38 152.55 L196.38 153.01 L197.08 153.01 L197.08 152.59 L197.78 152.59 L197.78 151.26 L198.48 151.26 L198.48 152.67 L199.18 152.67 L199.18 152.92 L199.88 152.92 L199.88 152.75 L200.58 152.75 L200.58 153.3 L201.28 153.3 L201.28 152.95 L201.98 152.95 L201.98 152.62 L202.67 152.62 L202.67 152.56 L203.37 152.56 L203.37 152.89 L204.07 152.89 L204.07 152.8 L204.77 152.8 L204.77 152.95 L205.47 152.95 L205.47 153.03 L206.17 153.03 L206.17 153.24 L206.87 153.24 L206.87 152.96 L207.57 152.96 L207.57 152.87 L208.27 152.87 L208.27 152.78 L208.97 152.78 L208.97 152.53 L209.66 152.53 L209.66 153.03 L210.36 153.03 L210.36 153.13 L211.06 153.13 L211.06 153.05 L211.76 153.05 L211.76 153.16 L212.46 153.16 L212.46 151.25 L213.16 151.25 L213.16 152.53 L213.86 152.53 L213.86 153.07 L214.56 153.07 L214.56 153.3 L215.26 153.3 L215.26 152.52 L215.95 152.52 L215.95 153.01 L216.65 153.01 L216.65 152.95 L217.35 152.95 L217.35 152.26 L218.05 152.26 L218.05 152.69 L218.75 152.69 L218.75 152.98 L219.45 152.98 L219.45 152.52 L220.15 152.52 L220.15 152.6 L220.85 152.6 L220.85 151.39 L221.55 151.39 L221.55 153.15 L222.25 153.15 L222.25 152.97 L222.94 152.97 L222.94 152.74 L223.64 152.74 L223.64 153.19 L224.34 153.19 L224.34 152.77 L225.04 152.77 L225.04 152.56 L225.74 152.56 L225.74 152.67 L226.44 152.67 L226.44 152.8 L227.14 152.8 L227.14 152.54 L227.84 152.54 L227.84 152.68 L228.54 152.68 L228.54 152.5 L229.23 152.5 L229.23 153.12 L229.93 153.12 L229.93 153.3 L230.63 153.3 L230.63 152.91 L231.33 152.91 L231.33 152.57 L232.03 152.57 L232.03 153.22 L232.73 153.22 L232.73 152.99 L233.43 152.99 L233.43 153.24 L234.13 153.24 L234.13 152.72 L234.83 152.72 L234.83 151.57 L235.53 151.57 L235.53 150.69 L236.22 150.69 L236.22 150.47 L236.92 150.47 L236.92 150.23 L237.62 150.23 L237.62 150.37 L238.32 150.37 L238.32 150.76 L239.02 150.76 L239.02 150.17 L239.72 150.17 L239.72 150.08 L240.42 150.08 L240.42 150.11 L241.12 150.11 L241.12 150.52 L241.82 150.52 L241.82 149.08 L242.51 149.08 L242.51 147.99 L243.21 147.99 L243.21 147.77 L243.91 147.77 L243.91 148.04 L244.61 148.04 L244.61 150.32 L245.31 150.32 L245.31 150.91 L246.01 150.91 L246.01 150.91 L246.71 150.91 L246.71 150.92 L247.41 150.92 L247.41 152.28 L248.11 152.28 L248.11 151.6 L248.81 151.6 L248.81 151.14 L249.5 151.14 L249.5 151.02 L250.2 151.02 L250.2 150.98 L250.9 150.98 L250.9 151.06 L251.6 151.06 L251.6 150.79 L252.3 150.79 L252.3 151.62 L253 151.62 L253 150.84 L253.7 150.84 L253.7 151.02 L254.4 151.02 L254.4 151.31 L255.1 151.31 L255.1 151.14 L255.8 151.14 L255.8 151.31 L256.49 151.31 L256.49 150.9 L257.19 150.9 L257.19 151.26 L257.89 151.26 L257.89 151.06 L258.59 151.06 L258.59 152.48 L259.29 152.48 L259.29 148.54 L259.99 148.54 L259.99 147.97 L260.69 147.97 L260.69 140.17 L261.39 140.17 L261.39 137.36 L262.09 137.36 L262.09 138.85 L262.78 138.85 L262.78 144.62 L263.48 144.62 L263.48 144.33 L264.18 144.33 L264.18 143.21 L264.88 143.21 L264.88 140.97 L265.58 140.97 L265.58 141.48 L266.28 141.48 L266.28 145.39 L266.98 145.39 L266.98 143.1 L267.68 143.1 L267.68 138.47 L268.38 138.47 L268.38 135.19 L269.08 135.19 L269.08 135.89 L269.77 135.89 L269.77 144.05 L270.47 144.05 L270.47 142.86 L271.17 142.86 L271.17 140.53 L271.87 140.53 L271.87 141 L272.57 141 L272.57 144.5 L273.27 144.5 L273.27 138.81 L273.97 138.81 L273.97 135.6 L274.67 135.6 L274.67 136.21 L275.37 136.21 L275.37 145.59 L276.06 145.59 L276.06 144.58 L276.76 144.58 L276.76 145.64 L277.46 145.64 L277.46 147.1 L278.16 147.1 L278.16 152.65 L278.86 152.65 L278.86 152.94 L279.56 152.94 L279.56 152.52 L280.26 152.52 L280.26 151.11 L280.96 151.11 L280.96 148.01 L281.66 148.01 L281.66 146.29 L282.36 146.29 L282.36 145.28 L283.05 145.28 L283.05 147.82 L283.75 147.82 L283.75 148.23 L284.45 148.23 L284.45 148.33 L285.15 148.33 L285.15 149.33 L285.85 149.33 L285.85 148.22 L286.55 148.22 L286.55 149.49 L287.25 149.49 L287.25 151.33 L287.95 151.33 L287.95 153.25 L288.65 153.25 L288.65 151.72 L289.34 151.72 L289.34 153.12 L290.04 153.12 L290.04 152.95 L290.74 152.95 L290.74 152.8 L291.44 152.8 L291.44 152.64 L292.14 152.64 L292.14 153.12 L292.84 153.12 L292.84 153.24 L293.54 153.24 L293.54 153.19 L294.24 153.19 L294.24 153.29 L294.94 153.29 L294.94 152.72 L295.64 152.72 L295.64 153 L296.33 153 L296.33 152.85 L297.03 152.85 L297.03 152.5 L297.73 152.5 L297.73 153.12 L298.43 153.12 L298.43 152.58 L299.13 152.58 L299.13 152.84 L299.83 152.84 L299.83 152.77 L300.53 152.77 L300.53 152.88 L301.23 152.88 L301.23 152.94 L301.93 152.94 L301.93 152.7 L302.63 152.7 L302.63 152.61 L303.32 152.61 L303.32 152.57 L304.02 152.57 L304.02 151.85 L304.72 151.85 L304.72 151.13 L305.42 151.13 L305.42 150.87 L306.12 150.87 L306.12 151.57 L306.82 151.57 L306.82 152.13 L307.52 152.13 L307.52 152.59 L308.22 152.59 L308.22 152.69 L308.92 152.69 L308.92 152.88 L309.61 152.88 L309.61 152.88 L310.31 152.88 L310.31 153.07 L311.01 153.07 L311.01 153.06 L311.71 153.06 L311.71 153.28 L312.41 153.28 L312.41 152.88 L313.11 152.88 L313.11 153.26 L313.81 153.26 L313.81 152.9 L314.51 152.9 L314.51 152.75 L315.21 152.75 L315.21 152.76 L315.91 152.76 L315.91 152.9 L316.6 152.9 L316.6 152.62 L317.3 152.62 L317.3 151.34 L318 151.34 L318 153.02 L318.7 153.02 L318.7 152.91 L319.4 152.91 L319.4 154Z" fill="#2e4a7e" stroke="none" stroke-width="1" />
<rect x="118.8" y="153" width="200.6" height="1" fill="#2e4a7e" />
<path d="M118.8 187 L118.8 185.38 L119.5 185.38 L119.5 185.2 L120.2 185.2 L120.2 185.26 L120.9 185.26 L120.9 185.97 L121.6 185.97 L121.6 185.06 L122.29 185.06 L122.29 185.1 L122.99 185.1 L122.99 185.53 L123.69 185.53 L123.69 185.46 L124.39 185.46 L124.39 185.99 L125.09 185.99 L125.09 185.72 L125.79 185.72 L125.79 185.23 L126.49 185.23 L126.49 185.2 L127.19 185.2 L127.19 185.38 L127.89 185.38 L127.89 186 L128.59 186 L128.59 185.79 L129.28 185.79 L129.28 185.02 L129.98 185.02 L129.98 185.71 L130.68 185.71 L130.68 185.46 L131.38 185.46 L131.38 185.8 L132.08 185.8 L132.08 185.31 L132.78 185.31 L132.78 185.11 L133.48 185.11 L133.48 185.64 L134.18 185.64 L134.18 185.85 L134.88 185.85 L134.88 185.7 L135.57 185.7 L135.57 186 L136.27 186 L136.27 185.66 L136.97 185.66 L136.97 185.18 L137.67 185.18 L137.67 185.68 L138.37 185.68 L138.37 183.39 L139.07 183.39 L139.07 183.53 L139.77 183.53 L139.77 183.63 L140.47 183.63 L140.47 185.63 L141.17 185.63 L141.17 185.26 L141.87 185.26 L141.87 185.04 L142.56 185.04 L142.56 185.24 L143.26 185.24 L143.26 183.1 L143.96 183.1 L143.96 183.46 L144.66 183.46 L144.66 185.22 L145.36 185.22 L145.36 185.25 L146.06 185.25 L146.06 183.41 L146.76 183.41 L146.76 185.91 L147.46 185.91 L147.46 185.39 L148.16 185.39 L148.16 185.66 L148.86 185.66 L148.86 185.45 L149.55 185.45 L149.55 185.68 L150.25 185.68 L150.25 185.92 L150.95 185.92 L150.95 185.31 L151.65 185.31 L151.65 184.06 L152.35 184.06 L152.35 185.47 L153.05 185.47 L153.05 185.76 L153.75 185.76 L153.75 185.17 L154.45 185.17 L154.45 183.89 L155.15 183.89 L155.15 185.97 L155.84 185.97 L155.84 185.16 L156.54 185.16 L156.54 185.27 L157.24 185.27 L157.24 185.37 L157.94 185.37 L157.94 185.89 L158.64 185.89 L158.64 185.85 L159.34 185.85 L159.34 185.71 L160.04 185.71 L160.04 185 L160.74 185 L160.74 185.02 L161.44 185.02 L161.44 185.51 L162.14 185.51 L162.14 185.52 L162.83 185.52 L162.83 185.6 L163.53 185.6 L163.53 185.62 L164.23 185.62 L164.23 185.04 L164.93 185.04 L164.93 185.5 L165.63 185.5 L165.63 185.91 L166.33 185.91 L166.33 185.22 L167.03 185.22 L167.03 185.64 L167.73 185.64 L167.73 185.23 L168.43 185.23 L168.43 185.34 L169.12 185.34 L169.12 185.64 L169.82 185.64 L169.82 185.72 L170.52 185.72 L170.52 185.23 L171.22 185.23 L171.22 185.71 L171.92 185.71 L171.92 185.35 L172.62 185.35 L172.62 185.99 L173.32 185.99 L173.32 185.75 L174.02 185.75 L174.02 185.54 L174.72 185.54 L174.72 185.35 L175.42 185.35 L175.42 185.65 L176.11 185.65 L176.11 185.26 L176.81 185.26 L176.81 185.65 L177.51 185.65 L177.51 185.13 L178.21 185.13 L178.21 185.02 L178.91 185.02 L178.91 176.76 L179.61 176.76 L179.61 175.45 L180.31 175.45 L180.31 185.06 L181.01 185.06 L181.01 185.31 L181.71 185.31 L181.71 185.27 L182.4 185.27 L182.4 185.22 L183.1 185.22 L183.1 185.33 L183.8 185.33 L183.8 185.38 L184.5 185.38 L184.5 185.36 L185.2 185.36 L185.2 185.97 L185.9 185.97 L185.9 185.56 L186.6 185.56 L186.6 185.78 L187.3 185.78 L187.3 184.26 L188 184.26 L188 185.1 L188.7 185.1 L188.7 185.68 L189.39 185.68 L189.39 184.7 L190.09 184.7 L190.09 185.62 L190.79 185.62 L190.79 185.41 L191.49 185.41 L191.49 184.07 L192.19 184.07 L192.19 185.72 L192.89 185.72 L192.89 185.88 L193.59 185.88 L193.59 184.33 L194.29 184.33 L194.29 185.91 L194.99 185.91 L194.99 185.66 L195.69 185.66 L195.69 185.04 L196.38 185.04 L196.38 185.58 L197.08 185.58 L197.08 185.36 L197.78 185.36 L197.78 185.86 L198.48 185.86 L198.48 185.44 L199.18 185.44 L199.18 185.03 L199.88 185.03 L199.88 185.65 L200.58 185.65 L200.58 186 L201.28 186 L201.28 185.43 L201.98 185.43 L201.98 185.86 L202.67 185.86 L202.67 185.11 L203.37 185.11 L203.37 185.57 L204.07 185.57 L204.07 185.71 L204.77 185.71 L204.77 185.62 L205.47 185.62 L205.47 185.09 L206.17 185.09 L206.17 185.74 L206.87 185.74 L206.87 185.5 L207.57 185.5 L207.57 185.68 L208.27 185.68 L208.27 185.51 L208.97 185.51 L208.97 185.52 L209.66 185.52 L209.66 185.38 L210.36 185.38 L210.36 185.71 L211.06 185.71 L211.06 183.98 L211.76 183.98 L211.76 185.73 L212.46 185.73 L212.46 185.22 L213.16 185.22 L213.16 185.73 L213.86 185.73 L213.86 185.01 L214.56 185.01 L214.56 185.39 L215.26 185.39 L215.26 185.36 L215.95 185.36 L215.95 185.26 L216.65 185.26 L216.65 185.24 L217.35 185.24 L217.35 185.47 L218.05 185.47 L218.05 185.7 L218.75 185.7 L218.75 185.54 L219.45 185.54 L219.45 185.25 L220.15 185.25 L220.15 185.96 L220.85 185.96 L220.85 185.54 L221.55 185.54 L221.55 185.11 L222.25 185.11 L222.25 185.99 L222.94 185.99 L222.94 185.57 L223.64 185.57 L223.64 185.29 L224.34 185.29 L224.34 185.52 L225.04 185.52 L225.04 185.61 L225.74 185.61 L225.74 185.15 L226.44 185.15 L226.44 185.7 L227.14 185.7 L227.14 185.93 L227.84 185.93 L227.84 185.31 L228.54 185.31 L228.54 185.71 L229.23 185.71 L229.23 185.09 L229.93 185.09 L229.93 185.52 L230.63 185.52 L230.63 185.5 L231.33 185.5 L231.33 185.85 L232.03 185.85 L232.03 185.19 L232.73 185.19 L232.73 185.77 L233.43 185.77 L233.43 185.21 L234.13 185.21 L234.13 185.97 L234.83 185.97 L234.83 185.02 L235.53 185.02 L235.53 183.7 L236.22 183.7 L236.22 185.78 L236.92 185.78 L236.92 185.05 L237.62 185.05 L237.62 185.87 L238.32 185.87 L238.32 185.08 L239.02 185.08 L239.02 177.07 L239.72 177.07 L239.72 175.14 L240.42 175.14 L240.42 177.54 L241.12 177.54 L241.12 185.62 L241.82 185.62 L241.82 185.94 L242.51 185.94 L242.51 185.26 L243.21 185.26 L243.21 185.87 L243.91 185.87 L243.91 185.69 L244.61 185.69 L244.61 185.51 L245.31 185.51 L245.31 184.22 L246.01 184.22 L246.01 185.85 L246.71 185.85 L246.71 185.49 L247.41 185.49 L247.41 185.45 L248.11 185.45 L248.11 185.74 L248.81 185.74 L248.81 185.75 L249.5 185.75 L249.5 185.48 L250.2 185.48 L250.2 185.77 L250.9 185.77 L250.9 185.26 L251.6 185.26 L251.6 185.29 L252.3 185.29 L252.3 185.91 L253 185.91 L253 185.91 L253.7 185.91 L253.7 185.41 L254.4 185.41 L254.4 185.12 L255.1 185.12 L255.1 185.68 L255.8 185.68 L255.8 185.6 L256.49 185.6 L256.49 184.36 L257.19 184.36 L257.19 184.13 L257.89 184.13 L257.89 184.78 L258.59 184.78 L258.59 184.7 L259.29 184.7 L259.29 185.11 L259.99 185.11 L259.99 185.61 L260.69 185.61 L260.69 184.81 L261.39 184.81 L261.39 183.23 L262.09 183.23 L262.09 173.93 L262.78 173.93 L262.78 172 L263.48 172 L263.48 175.13 L264.18 175.13 L264.18 182.77 L264.88 182.77 L264.88 183.3 L265.58 183.3 L265.58 185.11 L266.28 185.11 L266.28 185.63 L266.98 185.63 L266.98 185.12 L267.68 185.12 L267.68 185.61 L268.38 185.61 L268.38 184.23 L269.08 184.23 L269.08 184.33 L269.77 184.33 L269.77 184.06 L270.47 184.06 L270.47 184.55 L271.17 184.55 L271.17 184.06 L271.87 184.06 L271.87 184.47 L272.57 184.47 L272.57 157.43 L273.27 157.43 L273.27 158.57 L273.97 158.57 L273.97 184.4 L274.67 184.4 L274.67 184.51 L275.37 184.51 L275.37 183.82 L276.06 183.82 L276.06 183.97 L276.76 183.97 L276.76 185.99 L277.46 185.99 L277.46 185.22 L278.16 185.22 L278.16 185.96 L278.86 185.96 L278.86 185.01 L279.56 185.01 L279.56 185.65 L280.26 185.65 L280.26 185.93 L280.96 185.93 L280.96 185.51 L281.66 185.51 L281.66 185.95 L282.36 185.95 L282.36 185.95 L283.05 185.95 L283.05 185.94 L283.75 185.94 L283.75 182.57 L284.45 182.57 L284.45 182.46 L285.15 182.46 L285.15 185.82 L285.85 185.82 L285.85 185.6 L286.55 185.6 L286.55 185.92 L287.25 185.92 L287.25 185.89 L287.95 185.89 L287.95 185.08 L288.65 185.08 L288.65 185.14 L289.34 185.14 L289.34 185.98 L290.04 185.98 L290.04 185.51 L290.74 185.51 L290.74 185.62 L291.44 185.62 L291.44 185.27 L292.14 185.27 L292.14 185.69 L292.84 185.69 L292.84 185.17 L293.54 185.17 L293.54 185.88 L294.24 185.88 L294.24 185.91 L294.94 185.91 L294.94 185.18 L295.64 185.18 L295.64 181.65 L296.33 181.65 L296.33 180.49 L297.03 180.49 L297.03 181.27 L297.73 181.27 L297.73 185.75 L298.43 185.75 L298.43 184.54 L299.13 184.54 L299.13 185.71 L299.83 185.71 L299.83 185.9 L300.53 185.9 L300.53 185.69 L301.23 185.69 L301.23 185.44 L301.93 185.44 L301.93 185.35 L302.63 185.35 L302.63 185.43 L303.32 185.43 L303.32 185.18 L304.02 185.18 L304.02 185.05 L304.72 185.05 L304.72 183.43 L305.42 183.43 L305.42 182.65 L306.12 182.65 L306.12 182.92 L306.82 182.92 L306.82 185.83 L307.52 185.83 L307.52 185.32 L308.22 185.32 L308.22 185.94 L308.92 185.94 L308.92 184.88 L309.61 184.88 L309.61 185.87 L310.31 185.87 L310.31 185.14 L311.01 185.14 L311.01 185.39 L311.71 185.39 L311.71 185.57 L312.41 185.57 L312.41 184.41 L313.11 184.41 L313.11 185.17 L313.81 185.17 L313.81 185.9 L314.51 185.9 L314.51 185.83 L315.21 185.83 L315.21 185.55 L315.91 185.55 L315.91 185.21 L316.6 185.21 L316.6 185.68 L317.3 185.68 L317.3 185.54 L318 185.54 L318 185.56 L318.7 185.56 L318.7 185.06 L319.4 185.06 L319.4 187Z" fill="#c8077a" stroke="none" stroke-width="1" />
<rect x="118.8" y="186" width="200.6" height="1" fill="#c8077a" />
<line x1="386.6" y1="97.3" x2="490" y2="97.3" stroke="#231f20" stroke-width="1.1" stroke-dasharray="1 1.4"/>
<line x1="448.3" y1="52.5" x2="448.3" y2="159.5" stroke="#231f20" stroke-width="1.1" stroke-dasharray="1 1.4"/>
<path d="M443.85 81.95 Q446.2 80.4 450 79.9 Q453.8 79.4 456.5 80.5 Q459.2 81.6 460.75 84.05 Q462.3 86.5 462.55 91.15 Q462.8 95.8 461.8 98.5 Q460.8 101.2 458.1 103.85 Q455.4 106.5 452.3 109.2 Q449.2 111.9 446.35 113.65 Q443.5 115.4 440.6 117.45 Q437.7 119.5 433.85 120.25 Q430 121 427.75 121.25 Q425.5 121.5 425 117.75 Q424.5 114 426.5 109 Q428.5 104 429.75 99.75 Q431 95.5 433.95 92.55 Q436.9 89.6 439.2 86.55 Q441.5 83.5 443.85 81.95Z" fill="#2f4b7e"/>
<g fill="#2f4b7e"><circle cx="425.78" cy="121.42" r="0.95"/><circle cx="454.34" cy="79.27" r="0.95"/><circle cx="423.79" cy="118.14" r="0.95"/><circle cx="455.19" cy="106.72" r="0.95"/><circle cx="460.2" cy="82.5" r="0.95"/><circle cx="457.76" cy="81.88" r="0.95"/><circle cx="445.64" cy="114.39" r="0.95"/><circle cx="456.89" cy="80.72" r="0.95"/><circle cx="449.2" cy="112.7" r="0.95"/><circle cx="434.33" cy="120.43" r="0.95"/><circle cx="433.05" cy="120.99" r="0.95"/><circle cx="463.09" cy="91.69" r="0.95"/><circle cx="424.74" cy="121.51" r="0.95"/><circle cx="457.27" cy="80.58" r="0.95"/><circle cx="430.36" cy="97.38" r="0.95"/><circle cx="433.35" cy="93.5" r="0.95"/><circle cx="456.76" cy="104.8" r="0.95"/><circle cx="433.09" cy="121.4" r="0.95"/><circle cx="431.93" cy="93.38" r="0.95"/><circle cx="462" cy="91.52" r="0.95"/><circle cx="429.19" cy="121.26" r="0.95"/><circle cx="458.38" cy="82.27" r="0.95"/><circle cx="428.59" cy="121" r="0.95"/><circle cx="439.55" cy="86" r="0.95"/><circle cx="462.25" cy="86.13" r="0.95"/><circle cx="459.91" cy="81.28" r="0.95"/><circle cx="432.72" cy="93.84" r="0.95"/><circle cx="425.38" cy="121.45" r="0.95"/><circle cx="457.63" cy="104.48" r="0.95"/><circle cx="450.41" cy="110.28" r="0.95"/><circle cx="447.11" cy="114.09" r="0.95"/><circle cx="437.24" cy="89.07" r="0.95"/><circle cx="438.1" cy="119.94" r="0.95"/><circle cx="439.09" cy="119.55" r="0.95"/><circle cx="428.83" cy="104.28" r="0.95"/><circle cx="460.45" cy="102.06" r="0.95"/><circle cx="450.01" cy="79.5" r="0.95"/><circle cx="441.93" cy="116.02" r="0.95"/><circle cx="425.12" cy="116.73" r="0.95"/><circle cx="461.63" cy="99.52" r="0.95"/><circle cx="456.93" cy="79.34" r="0.95"/><circle cx="426.14" cy="109.99" r="0.95"/><circle cx="440" cy="86.34" r="0.95"/><circle cx="462.3" cy="86.39" r="0.95"/><circle cx="461.66" cy="90.11" r="0.95"/><circle cx="450.6" cy="79.54" r="0.95"/><circle cx="425.68" cy="116.19" r="0.95"/><circle cx="451.35" cy="109.5" r="0.95"/><circle cx="437.82" cy="119.75" r="0.95"/><circle cx="437.13" cy="88.27" r="0.95"/><circle cx="433.96" cy="92.76" r="0.95"/><circle cx="462.43" cy="96.38" r="0.95"/><circle cx="440.62" cy="117.94" r="0.95"/><circle cx="441.46" cy="82.37" r="0.95"/><circle cx="443.17" cy="81.8" r="0.95"/><circle cx="451.85" cy="79.93" r="0.95"/><circle cx="461.03" cy="85.29" r="0.95"/><circle cx="424.73" cy="114.58" r="0.95"/><circle cx="446.26" cy="114.36" r="0.95"/><circle cx="426.74" cy="121.82" r="0.95"/><circle cx="450.71" cy="111.38" r="0.95"/><circle cx="448.1" cy="112.71" r="0.95"/><circle cx="454.16" cy="78.49" r="0.95"/><circle cx="437.9" cy="87.62" r="0.95"/><circle cx="423.87" cy="119.28" r="0.95"/><circle cx="424.67" cy="114.25" r="0.95"/><circle cx="448.65" cy="112.34" r="0.95"/><circle cx="428.71" cy="121.63" r="0.95"/><circle cx="450.01" cy="79.35" r="0.95"/><circle cx="461.15" cy="86.2" r="0.95"/><circle cx="426.97" cy="106.42" r="0.95"/><circle cx="440.98" cy="84.14" r="0.95"/><circle cx="428.7" cy="122.38" r="0.95"/><circle cx="425.66" cy="109.74" r="0.95"/><circle cx="460.93" cy="85.59" r="0.95"/><circle cx="463.14" cy="95.86" r="0.95"/><circle cx="436.03" cy="91.04" r="0.95"/><circle cx="439.96" cy="85.71" r="0.95"/><circle cx="463.62" cy="95.73" r="0.95"/><circle cx="463.71" cy="90.86" r="0.95"/><circle cx="431.31" cy="95.73" r="0.95"/><circle cx="454.95" cy="106.49" r="0.95"/><circle cx="442.6" cy="82.4" r="0.95"/><circle cx="440.16" cy="118.52" r="0.95"/><circle cx="458.6" cy="81.54" r="0.95"/><circle cx="434.47" cy="91.19" r="0.95"/><circle cx="443.45" cy="81.13" r="0.95"/><circle cx="442.17" cy="83.63" r="0.95"/><circle cx="441.58" cy="83.4" r="0.95"/><circle cx="458.1" cy="104.62" r="0.95"/><circle cx="462.58" cy="96.71" r="0.95"/><circle cx="462.38" cy="91.77" r="0.95"/><circle cx="443.99" cy="81.71" r="0.95"/><circle cx="461.93" cy="94.94" r="0.95"/><circle cx="454.1" cy="108.34" r="0.95"/><circle cx="443.64" cy="82.93" r="0.95"/><circle cx="460.96" cy="83.39" r="0.95"/><circle cx="444.34" cy="82.1" r="0.95"/><circle cx="440.83" cy="117.5" r="0.95"/><circle cx="439.33" cy="86.78" r="0.95"/><circle cx="445.72" cy="79.57" r="0.95"/><circle cx="437.81" cy="120.28" r="0.95"/><circle cx="449.98" cy="110.67" r="0.95"/><circle cx="462.27" cy="90.27" r="0.95"/><circle cx="446.69" cy="113.07" r="0.95"/><circle cx="430.95" cy="121.87" r="0.95"/><circle cx="461.38" cy="100.9" r="0.95"/><circle cx="424.31" cy="121.57" r="0.95"/><circle cx="431.54" cy="93.83" r="0.95"/><circle cx="428.53" cy="104.99" r="0.95"/><circle cx="448.29" cy="112.49" r="0.95"/><circle cx="443.4" cy="82.24" r="0.95"/><circle cx="424.49" cy="119.81" r="0.95"/><circle cx="448.79" cy="79.96" r="0.95"/><circle cx="449.18" cy="79.77" r="0.95"/><circle cx="434.19" cy="119.41" r="0.95"/><circle cx="443.67" cy="114.73" r="0.95"/><circle cx="441.8" cy="117.48" r="0.95"/><circle cx="458.81" cy="102.54" r="0.95"/><circle cx="430.21" cy="96.68" r="0.95"/><circle cx="441.1" cy="117.31" r="0.95"/><circle cx="444.19" cy="81.11" r="0.95"/><circle cx="460.8" cy="82.18" r="0.95"/><circle cx="457.9" cy="103.31" r="0.95"/><circle cx="451.35" cy="78.83" r="0.95"/><circle cx="460.69" cy="84.94" r="0.95"/><circle cx="438.47" cy="119.02" r="0.95"/><circle cx="425.52" cy="121.5" r="0.95"/><circle cx="440.08" cy="117.14" r="0.95"/><circle cx="443.84" cy="116.19" r="0.95"/><circle cx="443.23" cy="115.2" r="0.95"/><circle cx="432.71" cy="120.72" r="0.95"/><circle cx="453.7" cy="108.15" r="0.95"/><circle cx="460.05" cy="102.76" r="0.95"/><circle cx="443.32" cy="114.81" r="0.95"/><circle cx="444.09" cy="82.29" r="0.95"/><circle cx="438.01" cy="88.06" r="0.95"/><circle cx="429.93" cy="98.4" r="0.95"/><circle cx="428.59" cy="104.24" r="0.95"/><circle cx="449.26" cy="111.7" r="0.95"/><circle cx="461.84" cy="98" r="0.95"/><circle cx="457.63" cy="82.15" r="0.95"/><circle cx="441.13" cy="116.42" r="0.95"/><circle cx="427.49" cy="105.46" r="0.95"/><circle cx="432.73" cy="121.07" r="0.95"/><circle cx="455.9" cy="81.02" r="0.95"/><circle cx="431.1" cy="95.51" r="0.95"/><circle cx="425.34" cy="121.82" r="0.95"/><circle cx="449.28" cy="112.69" r="0.95"/><circle cx="452.73" cy="108.01" r="0.95"/><circle cx="425.15" cy="112.94" r="0.95"/><circle cx="454.29" cy="108.18" r="0.95"/><circle cx="459.39" cy="83.57" r="0.95"/><circle cx="426.89" cy="108.11" r="0.95"/><circle cx="435.55" cy="119.52" r="0.95"/><circle cx="445.46" cy="81.46" r="0.95"/><circle cx="426.96" cy="106.59" r="0.95"/><circle cx="437.35" cy="88.27" r="0.95"/><circle cx="463.65" cy="95.84" r="0.95"/><circle cx="444.47" cy="80.85" r="0.95"/><circle cx="442.13" cy="82.85" r="0.95"/><circle cx="444.18" cy="80.87" r="0.95"/><circle cx="452.65" cy="79.16" r="0.95"/><circle cx="448.5" cy="111.65" r="0.95"/><circle cx="424.63" cy="114.23" r="0.95"/><circle cx="434.05" cy="92.01" r="0.95"/><circle cx="446.29" cy="112.94" r="0.95"/><circle cx="461.7" cy="85.11" r="0.95"/><circle cx="460.52" cy="85.47" r="0.95"/><circle cx="438.3" cy="88.55" r="0.95"/><circle cx="442.06" cy="117.03" r="0.95"/><circle cx="445.05" cy="115.46" r="0.95"/><circle cx="440.92" cy="85.08" r="0.95"/><circle cx="431.5" cy="121.15" r="0.95"/><circle cx="454.57" cy="106.69" r="0.95"/><circle cx="439.58" cy="118.67" r="0.95"/><circle cx="461.97" cy="96.04" r="0.95"/><circle cx="438.09" cy="118.65" r="0.95"/><circle cx="451.1" cy="110" r="0.95"/><circle cx="442.84" cy="82.51" r="0.95"/><circle cx="463.1" cy="95.67" r="0.95"/><circle cx="429.31" cy="122.27" r="0.95"/><circle cx="448.22" cy="80.92" r="0.95"/><circle cx="446.06" cy="80.42" r="0.95"/><circle cx="441.09" cy="118.01" r="0.95"/><circle cx="454.51" cy="106.63" r="0.95"/><circle cx="442.74" cy="82.81" r="0.95"/><circle cx="442.86" cy="83.27" r="0.95"/><circle cx="424.19" cy="120.91" r="0.95"/><circle cx="438.88" cy="87.59" r="0.95"/><circle cx="440.04" cy="85.46" r="0.95"/><circle cx="461.88" cy="98.06" r="0.95"/><circle cx="461.79" cy="94.6" r="0.95"/><circle cx="426.86" cy="120.66" r="0.95"/><circle cx="451.39" cy="110.95" r="0.95"/><circle cx="436.1" cy="119.04" r="0.95"/><circle cx="428.17" cy="104.1" r="0.95"/><circle cx="423.78" cy="115.15" r="0.95"/><circle cx="454.82" cy="80.89" r="0.95"/><circle cx="433.17" cy="119.8" r="0.95"/><circle cx="431.59" cy="111.09" r="0.95"/><circle cx="428.82" cy="121.55" r="0.95"/><circle cx="420.39" cy="110.45" r="0.95"/><circle cx="423.69" cy="105.16" r="0.95"/><circle cx="423.98" cy="114.43" r="0.95"/><circle cx="420.45" cy="114.68" r="0.95"/><circle cx="423.16" cy="122.28" r="0.95"/><circle cx="423.36" cy="120.38" r="0.95"/><circle cx="421.78" cy="120.56" r="0.95"/><circle cx="423.38" cy="117.37" r="0.95"/><circle cx="425.39" cy="112.04" r="0.95"/><circle cx="428.96" cy="104.71" r="0.95"/><circle cx="419.76" cy="115.08" r="0.95"/><circle cx="426.77" cy="113.85" r="0.95"/><circle cx="422.43" cy="123.18" r="0.95"/><circle cx="425.37" cy="114.41" r="0.95"/><circle cx="423.77" cy="117.49" r="0.95"/><circle cx="421.19" cy="110.73" r="0.95"/><circle cx="423.07" cy="109.89" r="0.95"/><circle cx="422.09" cy="123.35" r="0.95"/><circle cx="420.72" cy="111.95" r="0.95"/><circle cx="424.79" cy="125.31" r="0.95"/><circle cx="426.33" cy="125.66" r="0.95"/><circle cx="423.82" cy="119.3" r="0.95"/><circle cx="424.29" cy="119.36" r="0.95"/><circle cx="427.13" cy="113.74" r="0.95"/><circle cx="423.32" cy="121.06" r="0.95"/><circle cx="427.87" cy="103.87" r="0.95"/><circle cx="424.64" cy="116.95" r="0.95"/><circle cx="426.76" cy="110.14" r="0.95"/><circle cx="424.5" cy="122.1" r="0.95"/><circle cx="426.48" cy="108.89" r="0.95"/><circle cx="419.86" cy="112.9" r="0.95"/><circle cx="427.69" cy="102.54" r="0.95"/><circle cx="426.34" cy="113.36" r="0.95"/><circle cx="424.74" cy="114.34" r="0.95"/><circle cx="428.63" cy="121.39" r="0.95"/><circle cx="421.91" cy="106.03" r="0.95"/><circle cx="421.64" cy="111.18" r="0.95"/><circle cx="421.52" cy="105.38" r="0.95"/><circle cx="421.24" cy="111.45" r="0.95"/><circle cx="426.92" cy="119.29" r="0.95"/><circle cx="429.46" cy="110.27" r="0.95"/><circle cx="427.3" cy="102.64" r="0.95"/><circle cx="427.14" cy="109.93" r="0.95"/><circle cx="428.43" cy="124.51" r="0.95"/><circle cx="429.23" cy="117.33" r="0.95"/><circle cx="424.08" cy="102.7" r="0.95"/><circle cx="419.27" cy="115.33" r="0.95"/><circle cx="430.98" cy="120.12" r="0.95"/><circle cx="422.87" cy="102.85" r="0.95"/><circle cx="422.22" cy="123.12" r="0.95"/><circle cx="426.61" cy="103.88" r="0.95"/><circle cx="427.41" cy="118.04" r="0.95"/><circle cx="428.89" cy="117.47" r="0.95"/><circle cx="421.49" cy="109.68" r="0.95"/><circle cx="425.05" cy="103.36" r="0.95"/><circle cx="429.71" cy="122.32" r="0.95"/><circle cx="423.11" cy="122.07" r="0.95"/><circle cx="422.39" cy="119.61" r="0.95"/><circle cx="427.61" cy="119.63" r="0.95"/><circle cx="429.66" cy="116.31" r="0.95"/><circle cx="421.32" cy="109.17" r="0.95"/><circle cx="423.65" cy="117.1" r="0.95"/><circle cx="421.7" cy="121.05" r="0.95"/><circle cx="423.2" cy="109.27" r="0.95"/><circle cx="420.05" cy="107.92" r="0.95"/><circle cx="422.15" cy="113.48" r="0.95"/><circle cx="428.26" cy="120.41" r="0.95"/><circle cx="422.07" cy="116.77" r="0.95"/><circle cx="424.84" cy="116.38" r="0.95"/><circle cx="422.25" cy="113.69" r="0.95"/><circle cx="423.79" cy="107.03" r="0.95"/><circle cx="423.13" cy="122.85" r="0.95"/><circle cx="427.9" cy="111.53" r="0.95"/><circle cx="420.03" cy="117.96" r="0.95"/><circle cx="426.43" cy="113.53" r="0.95"/><circle cx="426.58" cy="117.7" r="0.95"/><circle cx="428.14" cy="112.34" r="0.95"/><circle cx="421.66" cy="117.32" r="0.95"/><circle cx="419.2" cy="113.22" r="0.95"/><circle cx="423.44" cy="116.04" r="0.95"/><circle cx="425.51" cy="112.16" r="0.95"/><circle cx="430.39" cy="121.68" r="0.95"/><circle cx="426.19" cy="114.96" r="0.95"/><circle cx="419.94" cy="117.31" r="0.95"/><circle cx="429.99" cy="120.85" r="0.95"/><circle cx="423.37" cy="105.4" r="0.95"/><circle cx="430.76" cy="120.61" r="0.95"/><circle cx="428.52" cy="116.97" r="0.95"/><circle cx="427.05" cy="106.83" r="0.95"/><circle cx="426.43" cy="112.28" r="0.95"/><circle cx="428.44" cy="121.67" r="0.95"/><circle cx="426.04" cy="106.61" r="0.95"/><circle cx="425.21" cy="115.34" r="0.95"/><circle cx="423.21" cy="107.09" r="0.95"/><circle cx="426.83" cy="126.32" r="0.95"/><circle cx="425.3" cy="124.04" r="0.95"/><circle cx="425.75" cy="107.7" r="0.95"/><circle cx="427.65" cy="105.72" r="0.95"/><circle cx="426.44" cy="108.46" r="0.95"/><circle cx="420.3" cy="117.74" r="0.95"/><circle cx="422.23" cy="106.92" r="0.95"/><circle cx="429.96" cy="111.1" r="0.95"/><circle cx="426.98" cy="115.51" r="0.95"/><circle cx="423.6" cy="119.38" r="0.95"/><circle cx="429.89" cy="112.48" r="0.95"/><circle cx="424.39" cy="104.15" r="0.95"/><circle cx="421.53" cy="109.46" r="0.95"/><circle cx="431.45" cy="111.86" r="0.95"/><circle cx="428.09" cy="122.44" r="0.95"/><circle cx="424.57" cy="121.51" r="0.95"/><circle cx="427.2" cy="104.29" r="0.95"/><circle cx="424.33" cy="121.55" r="0.95"/><circle cx="425.68" cy="117.1" r="0.95"/><circle cx="424.92" cy="104.39" r="0.95"/><circle cx="429.75" cy="118.14" r="0.95"/><circle cx="424.63" cy="114.72" r="0.95"/><circle cx="430.68" cy="119.01" r="0.95"/><circle cx="424.97" cy="106.9" r="0.95"/><circle cx="427.46" cy="103.42" r="0.95"/><circle cx="423.82" cy="101.81" r="0.95"/><circle cx="425.76" cy="125.37" r="0.95"/><circle cx="422.79" cy="105.55" r="0.95"/><circle cx="422.05" cy="108.66" r="0.95"/><circle cx="430.22" cy="108.34" r="0.95"/><circle cx="424.89" cy="101.54" r="0.95"/><circle cx="424.65" cy="120.98" r="0.95"/><circle cx="425.01" cy="114.31" r="0.95"/><circle cx="430.17" cy="110.65" r="0.95"/><circle cx="426.1" cy="125.41" r="0.95"/><circle cx="423.9" cy="118.87" r="0.95"/><circle cx="406" cy="103.8" r="0.95"/><circle cx="408.8" cy="98.7" r="0.95"/><circle cx="410.6" cy="98.7" r="0.95"/><circle cx="412.3" cy="98.1" r="0.95"/><circle cx="415.2" cy="102.1" r="0.95"/><circle cx="412.9" cy="105.6" r="0.95"/><circle cx="413.5" cy="105" r="0.95"/><circle cx="416.9" cy="107.9" r="0.95"/><circle cx="410.6" cy="109" r="0.95"/><circle cx="412.3" cy="109.6" r="0.95"/><circle cx="411.2" cy="113.1" r="0.95"/><circle cx="414" cy="114.8" r="0.95"/><circle cx="415.2" cy="116.5" r="0.95"/><circle cx="418.1" cy="117.7" r="0.95"/><circle cx="405.4" cy="121.2" r="0.95"/><circle cx="406.5" cy="122.9" r="0.95"/><circle cx="407.7" cy="127.5" r="0.95"/><circle cx="407.1" cy="129.8" r="0.95"/><circle cx="416.9" cy="121.2" r="0.95"/><circle cx="416.3" cy="125.8" r="0.95"/><circle cx="418.7" cy="128.1" r="0.95"/><circle cx="420.4" cy="129.2" r="0.95"/><circle cx="424.4" cy="131" r="0.95"/><circle cx="434.2" cy="125.5" r="0.95"/><circle cx="437.7" cy="127.2" r="0.95"/><circle cx="415.2" cy="136.7" r="0.95"/><circle cx="416" cy="136.2" r="0.95"/><circle cx="430.2" cy="137.3" r="0.95"/><circle cx="438.6" cy="137.5" r="0.95"/><circle cx="443.5" cy="117.7" r="0.95"/><circle cx="445.8" cy="119.4" r="0.95"/><circle cx="451.5" cy="113.1" r="0.95"/><circle cx="422.7" cy="102.7" r="0.95"/><circle cx="419.2" cy="105" r="0.95"/><circle cx="420.4" cy="103.8" r="0.95"/><circle cx="426.2" cy="93.5" r="0.95"/><circle cx="425" cy="95.8" r="0.95"/><circle cx="423.3" cy="98.7" r="0.95"/><circle cx="473.1" cy="100.4" r="0.95"/><circle cx="447.7" cy="71.9" r="0.95"/><circle cx="456.9" cy="78.1" r="0.95"/><circle cx="463.1" cy="84.2" r="0.95"/><circle cx="419" cy="112" r="0.95"/><circle cx="418" cy="120" r="0.95"/><circle cx="421" cy="125" r="0.95"/><circle cx="426" cy="126" r="0.95"/><circle cx="431" cy="124" r="0.95"/><circle cx="422" cy="128" r="0.95"/><circle cx="441" cy="120.5" r="0.95"/><circle cx="447" cy="117" r="0.95"/><circle cx="417.5" cy="110" r="0.95"/></g>
<line x1="386.1" y1="52.4" x2="386.1" y2="160.2" stroke="#231f20" stroke-width="1.2" />
<line x1="385.5" y1="159.7" x2="490.3" y2="159.7" stroke="#231f20" stroke-width="1.2" />
<line x1="383" y1="55.7" x2="386.1" y2="55.7" stroke="#231f20" stroke-width="1" />
<text x="381.4" y="58.65" text-anchor="end" stroke="#231f20" stroke-width="0.2" font-size="8.6">2</text>
<line x1="383" y1="76.5" x2="386.1" y2="76.5" stroke="#231f20" stroke-width="1" />
<text x="381.4" y="79.45" text-anchor="end" stroke="#231f20" stroke-width="0.2" font-size="8.6">1</text>
<line x1="383" y1="97.5" x2="386.1" y2="97.5" stroke="#231f20" stroke-width="1" />
<text x="381.4" y="100.45" text-anchor="end" stroke="#231f20" stroke-width="0.2" font-size="8.6">0</text>
<line x1="383" y1="118.2" x2="386.1" y2="118.2" stroke="#231f20" stroke-width="1" />
<text x="381.4" y="121.15" text-anchor="end" stroke="#231f20" stroke-width="0.2" font-size="8.6">-1</text>
<line x1="383" y1="139" x2="386.1" y2="139" stroke="#231f20" stroke-width="1" />
<text x="381.4" y="141.95" text-anchor="end" stroke="#231f20" stroke-width="0.2" font-size="8.6">-2</text>
<line x1="383" y1="159.7" x2="386.1" y2="159.7" stroke="#231f20" stroke-width="1" />
<text x="381.4" y="162.65" text-anchor="end" stroke="#231f20" stroke-width="0.2" font-size="8.6">-3</text>
<line x1="386.2" y1="159.7" x2="386.2" y2="162.7" stroke="#231f20" stroke-width="1" />
<text x="386.2" y="172.5" text-anchor="middle" stroke="#231f20" stroke-width="0.2" font-size="8.4">-6</text>
<line x1="406.9" y1="159.7" x2="406.9" y2="162.7" stroke="#231f20" stroke-width="1" />
<text x="406.9" y="172.5" text-anchor="middle" stroke="#231f20" stroke-width="0.2" font-size="8.4">-4</text>
<line x1="427.6" y1="159.7" x2="427.6" y2="162.7" stroke="#231f20" stroke-width="1" />
<text x="427.6" y="172.5" text-anchor="middle" stroke="#231f20" stroke-width="0.2" font-size="8.4">-2</text>
<line x1="448.4" y1="159.7" x2="448.4" y2="162.7" stroke="#231f20" stroke-width="1" />
<text x="448.4" y="172.5" text-anchor="middle" stroke="#231f20" stroke-width="0.2" font-size="8.4">0</text>
<line x1="469" y1="159.7" x2="469" y2="162.7" stroke="#231f20" stroke-width="1" />
<text x="469" y="172.5" text-anchor="middle" stroke="#231f20" stroke-width="0.2" font-size="8.4">2</text>
<line x1="489.7" y1="159.7" x2="489.7" y2="162.7" stroke="#231f20" stroke-width="1" />
<text x="489.7" y="172.5" text-anchor="middle" stroke="#231f20" stroke-width="0.2" font-size="8.4">4</text>
<text x="388.8" y="58.6" stroke="#231f20" stroke-width="0.2" textLength="29" lengthAdjust="spacingAndGlyphs" font-size="9">r = 0.54</text>
<text x="385.5" y="186" stroke="#231f20" stroke-width="0.2" textLength="103.4" lengthAdjust="spacingAndGlyphs" font-size="10.6">H3K27ac tag fold-change (log</text>
<text x="489.2" y="188.2" stroke="#231f20" stroke-width="0.2" font-size="6">2</text>
<text x="492.3" y="186" stroke="#231f20" stroke-width="0.2" font-size="10.6">)</text>
<text x="415.2" y="198" stroke="#231f20" stroke-width="0.2" textLength="49" lengthAdjust="spacingAndGlyphs" font-size="10.6">SIK3 knockout</text>
<text transform="translate(355.6 159.4) rotate(-90)" stroke="#231f20" stroke-width="0.2" textLength="102.6" lengthAdjust="spacingAndGlyphs" font-size="10.6">H3K27ac tag fold-change (log</text>
<text transform="translate(357.8 56.4) rotate(-90)" stroke="#231f20" stroke-width="0.2" font-size="6">2</text>
<text transform="translate(355.6 53.6) rotate(-90)" stroke="#231f20" stroke-width="0.2" font-size="10.6">)</text>
<text transform="translate(366.8 149.6) rotate(-90)" stroke="#231f20" stroke-width="0.2" textLength="82" lengthAdjust="spacingAndGlyphs" font-size="10.6">YKL-05-099 treatment</text>
<line x1="77.2" y1="257.7" x2="145" y2="257.7" stroke="#666" stroke-width="0.8" stroke-dasharray="0.8 1.5"/>
<line x1="76.2" y1="241.2" x2="76.2" y2="330.7" stroke="#231f20" stroke-width="1.2" />
<line x1="75.6" y1="330.1" x2="144.5" y2="330.1" stroke="#231f20" stroke-width="1.2" />
<line x1="73.5" y1="243.3" x2="76.2" y2="243.3" stroke="#231f20" stroke-width="1" />
<text x="70.6" y="246.25" text-anchor="end" stroke="#231f20" stroke-width="0.2" font-size="8.9">0.5</text>
<line x1="73.5" y1="257.7" x2="76.2" y2="257.7" stroke="#231f20" stroke-width="1" />
<text x="70.6" y="260.65" text-anchor="end" stroke="#231f20" stroke-width="0.2" font-size="8.9">0</text>
<line x1="73.5" y1="272.2" x2="76.2" y2="272.2" stroke="#231f20" stroke-width="1" />
<text x="70.6" y="275.15" text-anchor="end" stroke="#231f20" stroke-width="0.2" font-size="8.9">-0.5</text>
<line x1="73.5" y1="286.6" x2="76.2" y2="286.6" stroke="#231f20" stroke-width="1" />
<text x="70.6" y="289.55" text-anchor="end" stroke="#231f20" stroke-width="0.2" font-size="8.9">-1.0</text>
<line x1="73.5" y1="301" x2="76.2" y2="301" stroke="#231f20" stroke-width="1" />
<text x="70.6" y="303.95" text-anchor="end" stroke="#231f20" stroke-width="0.2" font-size="8.9">-1.5</text>
<line x1="73.5" y1="315.7" x2="76.2" y2="315.7" stroke="#231f20" stroke-width="1" />
<text x="70.6" y="318.65" text-anchor="end" stroke="#231f20" stroke-width="0.2" font-size="8.9">-2.0</text>
<line x1="73.5" y1="330.1" x2="76.2" y2="330.1" stroke="#231f20" stroke-width="1" />
<text x="70.6" y="333.05" text-anchor="end" stroke="#231f20" stroke-width="0.2" font-size="8.9">-2.5</text>
<line x1="93.5" y1="330.1" x2="93.5" y2="333.3" stroke="#231f20" stroke-width="1" />
<line x1="127.6" y1="330.1" x2="127.6" y2="333.3" stroke="#231f20" stroke-width="1" />
<path d="M93.8 240.3 L93.8 237.1 L127.8 237.1 L127.8 240.3" fill="none" stroke="#333" stroke-width="1.1" />
<text x="91" y="232" stroke="#231f20" stroke-width="0.2" textLength="38.7" lengthAdjust="spacingAndGlyphs" font-size="9"><tspan font-style="italic">p</tspan> &lt; 0.0001</text>
<line x1="93.7" y1="286.9" x2="93.7" y2="305.3" stroke="#444" stroke-width="1" />
<line x1="88.1" y1="286.9" x2="99.4" y2="286.9" stroke="#555" stroke-width="1.2" />
<line x1="88.1" y1="305.3" x2="99.4" y2="305.3" stroke="#444" stroke-width="1.2" />
<rect x="82.4" y="289.8" width="22.6" height="8.4" fill="#c8102e" />
<line x1="82.4" y1="292.9" x2="105" y2="292.9" stroke="#300" stroke-width="1.4" />
<circle cx="89" cy="313.8" r="1.05" fill="#111"/>
<circle cx="92" cy="313.8" r="1.05" fill="#111"/>
<circle cx="95" cy="313.8" r="1.05" fill="#111"/>
<circle cx="97.8" cy="312.6" r="1.05" fill="#111"/>
<line x1="127.7" y1="255.3" x2="127.7" y2="279" stroke="#333" stroke-width="1" />
<line x1="122.2" y1="255.3" x2="133.2" y2="255.3" stroke="#333" stroke-width="1.2" />
<line x1="122.2" y1="279" x2="133.2" y2="279" stroke="#333" stroke-width="1.2" />
<rect x="116.4" y="265.2" width="22.7" height="6.7" fill="#2c4e8c" />
<line x1="116.4" y1="268.4" x2="139.1" y2="268.4" stroke="#0a0a1a" stroke-width="1.4" />
<circle cx="127.6" cy="247.6" r="1.1" fill="#111"/>
<circle cx="126.9" cy="253.2" r="1.1" fill="#111"/>
<text transform="translate(39.3 322.6) rotate(-90)" stroke="#231f20" stroke-width="0.2" textLength="75.1" lengthAdjust="spacingAndGlyphs" font-size="9.6">H3K27ac fold-change</text>
<text transform="translate(47.7 330) rotate(-90)" stroke="#231f20" stroke-width="0.2" textLength="83.4" lengthAdjust="spacingAndGlyphs" font-size="8.9">(YKL-05-099/DMSO, log</text>
<text transform="translate(49.5 246.2) rotate(-90)" stroke="#231f20" stroke-width="0.2" font-size="5.4">2</text>
<text transform="translate(47.7 243.6) rotate(-90)" stroke="#231f20" stroke-width="0.2" font-size="8.9">)</text>
<text transform="translate(97.4 339.9) rotate(-45)" text-anchor="end" stroke="#231f20" stroke-width="0.2" textLength="23.5" lengthAdjust="spacingAndGlyphs" font-size="9.5">empty</text>
<text transform="translate(120.7 350.1) rotate(-45)" text-anchor="end" stroke="#231f20" stroke-width="0.2" textLength="17" lengthAdjust="spacingAndGlyphs" font-size="9.5">SIK3</text>
<text transform="translate(118.9 347.4) rotate(-45)" stroke="#231f20" stroke-width="0.2" textLength="13.5" lengthAdjust="spacingAndGlyphs" font-size="5.5">T142Q</text>
<line x1="202.5" y1="238.4" x2="202.5" y2="329.5" stroke="#231f20" stroke-width="1.2" />
<line x1="198.6" y1="240.5" x2="202.5" y2="240.5" stroke="#231f20" stroke-width="1" />
<text x="194.8" y="243.45" text-anchor="end" stroke="#231f20" stroke-width="0.2" textLength="6.9" lengthAdjust="spacingAndGlyphs" font-size="8.8">10</text>
<line x1="198.6" y1="257.8" x2="202.5" y2="257.8" stroke="#231f20" stroke-width="1" />
<text x="194.8" y="260.75" text-anchor="end" stroke="#231f20" stroke-width="0.2" font-size="8.8">8</text>
<line x1="198.6" y1="275.2" x2="202.5" y2="275.2" stroke="#231f20" stroke-width="1" />
<text x="194.8" y="278.15" text-anchor="end" stroke="#231f20" stroke-width="0.2" font-size="8.8">6</text>
<line x1="198.6" y1="292.3" x2="202.5" y2="292.3" stroke="#231f20" stroke-width="1" />
<text x="194.8" y="295.25" text-anchor="end" stroke="#231f20" stroke-width="0.2" font-size="8.8">4</text>
<line x1="198.6" y1="309.6" x2="202.5" y2="309.6" stroke="#231f20" stroke-width="1" />
<text x="194.8" y="312.55" text-anchor="end" stroke="#231f20" stroke-width="0.2" font-size="8.8">2</text>
<line x1="198.6" y1="326.7" x2="202.5" y2="326.7" stroke="#231f20" stroke-width="1" />
<text x="194.8" y="329.65" text-anchor="end" stroke="#231f20" stroke-width="0.2" font-size="8.8">0</text>
<line x1="209" y1="332.3" x2="332.5" y2="332.3" stroke="#222" stroke-width="1" />
<path d="M206.4 332.3 L211.6 330 L210.4 332.3 L211.6 334.6Z" fill="#222" stroke="none" stroke-width="1" />
<path d="M334.9 332.3 L329.7 330 L330.9 332.3 L329.7 334.6Z" fill="#222" stroke="none" stroke-width="1" />
<g fill="#263f78"><circle cx="205.6" cy="326.7" r="1.2"/><circle cx="206.69" cy="326.7" r="1.2"/><circle cx="207.79" cy="326.7" r="1.2"/><circle cx="208.88" cy="326.7" r="1.2"/><circle cx="209.98" cy="326.7" r="1.2"/><circle cx="211.07" cy="326.7" r="1.2"/><circle cx="212.17" cy="326.7" r="1.2"/><circle cx="213.26" cy="326.7" r="1.2"/><circle cx="214.36" cy="326.7" r="1.2"/><circle cx="215.45" cy="326.7" r="1.2"/><circle cx="216.55" cy="326.7" r="1.2"/><circle cx="217.64" cy="326.7" r="1.2"/><circle cx="218.74" cy="326.7" r="1.2"/><circle cx="219.83" cy="326.7" r="1.2"/><circle cx="220.93" cy="326.7" r="1.2"/><circle cx="222.02" cy="326.7" r="1.2"/><circle cx="223.12" cy="326.7" r="1.2"/><circle cx="224.21" cy="326.7" r="1.2"/><circle cx="225.31" cy="326.7" r="1.2"/><circle cx="226.4" cy="326.7" r="1.2"/><circle cx="227.5" cy="326.7" r="1.2"/><circle cx="228.59" cy="326.7" r="1.2"/><circle cx="229.69" cy="326.7" r="1.2"/><circle cx="230.78" cy="326.7" r="1.2"/><circle cx="231.87" cy="326.7" r="1.2"/><circle cx="232.97" cy="326.7" r="1.2"/><circle cx="234.06" cy="326.7" r="1.2"/><circle cx="235.16" cy="326.7" r="1.2"/><circle cx="236.25" cy="326.7" r="1.2"/><circle cx="237.35" cy="326.7" r="1.2"/><circle cx="238.44" cy="326.7" r="1.2"/><circle cx="239.54" cy="326.7" r="1.2"/><circle cx="240.63" cy="326.7" r="1.2"/><circle cx="241.73" cy="326.7" r="1.2"/><circle cx="242.82" cy="326.7" r="1.2"/><circle cx="243.92" cy="326.7" r="1.2"/><circle cx="245.01" cy="326.7" r="1.2"/><circle cx="246.11" cy="326.7" r="1.2"/><circle cx="247.2" cy="326.7" r="1.2"/><circle cx="248.3" cy="326.7" r="1.2"/><circle cx="249.39" cy="326.7" r="1.2"/><circle cx="250.49" cy="326.7" r="1.2"/><circle cx="251.58" cy="326.7" r="1.2"/><circle cx="252.68" cy="326.7" r="1.2"/><circle cx="253.77" cy="326.7" r="1.2"/><circle cx="254.87" cy="326.7" r="1.2"/><circle cx="255.96" cy="326.7" r="1.2"/><circle cx="257.05" cy="326.7" r="1.2"/><circle cx="258.15" cy="326.7" r="1.2"/><circle cx="259.24" cy="326.7" r="1.2"/><circle cx="260.34" cy="326.7" r="1.2"/><circle cx="261.43" cy="326.7" r="1.2"/><circle cx="262.53" cy="326.7" r="1.2"/><circle cx="263.62" cy="326.7" r="1.2"/><circle cx="264.72" cy="326.26" r="1.2"/><circle cx="265.81" cy="325.49" r="1.2"/><circle cx="266.91" cy="324.86" r="1.2"/><circle cx="268" cy="324.5" r="1.2"/><circle cx="269.1" cy="323.88" r="1.2"/><circle cx="270.19" cy="322.13" r="1.2"/><circle cx="271.29" cy="320.91" r="1.2"/><circle cx="272.38" cy="319.85" r="1.2"/><circle cx="273.48" cy="319.21" r="1.2"/><circle cx="274.57" cy="318.58" r="1.2"/><circle cx="275.67" cy="316.76" r="1.2"/><circle cx="276.76" cy="316.21" r="1.2"/><circle cx="277.86" cy="315.71" r="1.2"/><circle cx="278.95" cy="315.37" r="1.2"/><circle cx="280.05" cy="315.06" r="1.2"/><circle cx="281.14" cy="314.68" r="1.2"/><circle cx="282.23" cy="313.76" r="1.2"/><circle cx="283.33" cy="313.05" r="1.2"/><circle cx="284.42" cy="312.67" r="1.2"/><circle cx="285.52" cy="312.3" r="1.2"/><circle cx="286.61" cy="311.89" r="1.2"/><circle cx="287.71" cy="311.48" r="1.2"/><circle cx="288.8" cy="310.22" r="1.2"/><circle cx="289.9" cy="308.26" r="1.2"/><circle cx="290.99" cy="306.69" r="1.2"/><circle cx="292.09" cy="305.84" r="1.2"/><circle cx="293.18" cy="305.54" r="1.2"/><circle cx="294.28" cy="305.23" r="1.2"/><circle cx="295.37" cy="304.97" r="1.2"/><circle cx="296.47" cy="304.7" r="1.2"/><circle cx="297.56" cy="304.43" r="1.2"/><circle cx="298.66" cy="304.14" r="1.2"/><circle cx="299.75" cy="303.23" r="1.2"/><circle cx="300.85" cy="301.7" r="1.2"/><circle cx="301.94" cy="300.74" r="1.2"/><circle cx="303.04" cy="300.05" r="1.2"/><circle cx="304.13" cy="300.23" r="1.2"/><circle cx="305.23" cy="300.09" r="1.2"/><circle cx="306.32" cy="299.54" r="1.2"/><circle cx="307.41" cy="298.99" r="1.2"/><circle cx="308.51" cy="298.45" r="1.2"/><circle cx="309.6" cy="297.63" r="1.2"/><circle cx="310.7" cy="296.72" r="1.2"/><circle cx="311.79" cy="295.81" r="1.2"/><circle cx="312.89" cy="295.05" r="1.2"/><circle cx="313.98" cy="294.29" r="1.2"/><circle cx="315.08" cy="293.66" r="1.2"/><circle cx="316.17" cy="293.24" r="1.2"/><circle cx="317.27" cy="292.83" r="1.2"/><circle cx="318.36" cy="292.41" r="1.2"/><circle cx="319.46" cy="290.96" r="1.2"/><circle cx="320.55" cy="289.47" r="1.2"/><circle cx="321.65" cy="286.82" r="1.2"/><circle cx="322.74" cy="285.2" r="1.2"/><circle cx="323.84" cy="284.36" r="1.2"/><circle cx="324.93" cy="283.02" r="1.2"/><circle cx="326.03" cy="281.33" r="1.2"/><circle cx="327.12" cy="279.6" r="1.2"/><circle cx="328.22" cy="277.84" r="1.2"/><circle cx="329.31" cy="276.35" r="1.2"/><circle cx="330.41" cy="275.35" r="1.2"/><circle cx="331.5" cy="275.05" r="1.2"/><circle cx="332.4" cy="267.3" r="1.2"/></g>
<circle cx="334.4" cy="257" r="1.5" fill="#b3173c"/>
<text x="321.8" y="252.1" fill="#b3173c" stroke="#b3173c" stroke-width="0.2" textLength="21" lengthAdjust="spacingAndGlyphs" font-size="9.2">MEF2</text>
<text x="250.2" y="222.6" stroke="#231f20" stroke-width="0.2" textLength="39.6" lengthAdjust="spacingAndGlyphs" font-size="9.3">YKL_FC&lt;-1</text>
<text x="258.5" y="232.3" stroke="#231f20" stroke-width="0.2" textLength="22.8" lengthAdjust="spacingAndGlyphs" font-size="8.9">(n=52)</text>
<text x="213.8" y="344.5" stroke="#231f20" stroke-width="0.2" textLength="113.7" lengthAdjust="spacingAndGlyphs" font-size="10.6">JASPER motifs ranked by <tspan font-style="italic">p</tspan>-value</text>
<text x="252" y="355.3" stroke="#231f20" stroke-width="0.2" textLength="34.2" lengthAdjust="spacingAndGlyphs" font-size="10">(n = 118)</text>
<text transform="translate(181.4 308.9) rotate(-90)" stroke="#231f20" stroke-width="0.2" textLength="42" lengthAdjust="spacingAndGlyphs" font-size="9.4"><tspan font-style="italic">p</tspan>-value (-log</text>
<text transform="translate(183.2 266.3) rotate(-90)" stroke="#231f20" stroke-width="0.2" font-size="5.6">10</text>
<text transform="translate(181.4 261.2) rotate(-90)" stroke="#231f20" stroke-width="0.2" font-size="9.4">)</text>
<text transform="translate(266.1 270.5) scale(0.57 2.01)" font-size="10" fill="#3050a0" stroke="#3050a0" stroke-width="0.5">C</text>
<text transform="translate(271 270.5) scale(0.7 2.97)" font-size="10" fill="#c8284a" stroke="#c8284a" stroke-width="0.5">T</text>
<text transform="translate(275.3 270.5) scale(0.72 2.75)" font-size="10" fill="#6cba56" stroke="#6cba56" stroke-width="0.5">A</text>
<text transform="translate(280.1 270.5) scale(0.62 2.46)" font-size="10" fill="#c8284a" stroke="#c8284a" stroke-width="0.5">T</text>
<text transform="translate(284.4 270.5) scale(0.7 2.08)" font-size="10" fill="#c8284a" stroke="#c8284a" stroke-width="0.5">T</text>
<text transform="translate(288.7 270.5) scale(0.72 2.22)" font-size="10" fill="#c8284a" stroke="#c8284a" stroke-width="0.5">T</text>
<text transform="translate(297.7 270.5) scale(0.7 2.67)" font-size="10" fill="#c8284a" stroke="#c8284a" stroke-width="0.5">T</text>
<text transform="translate(302 270.5) scale(0.64 2.67)" font-size="10" fill="#6cba56" stroke="#6cba56" stroke-width="0.5">A</text>
<text transform="translate(306.3 270.5) scale(0.59 1.93)" font-size="10" fill="#e89020" stroke="#e89020" stroke-width="0.5">G</text>
<text transform="translate(293.1 265.9) scale(0.61 0.81)" font-size="10" fill="#6cba56" stroke="#6cba56" stroke-width="0.5">A</text>
<text transform="translate(293.1 270.5) scale(0.67 0.67)" font-size="10" fill="#c8284a" stroke="#c8284a" stroke-width="0.5">T</text>
<line x1="397.5" y1="238.6" x2="397.5" y2="330.2" stroke="#231f20" stroke-width="1.2" />
<line x1="396.9" y1="329.6" x2="496.8" y2="329.6" stroke="#231f20" stroke-width="1.2" />
<line x1="394.3" y1="240.8" x2="397.5" y2="240.8" stroke="#231f20" stroke-width="1" />
<text x="393.3" y="243.75" text-anchor="end" stroke="#231f20" stroke-width="0.2" font-size="8.8">1.4</text>
<line x1="394.3" y1="253.8" x2="397.5" y2="253.8" stroke="#231f20" stroke-width="1" />
<text x="393.3" y="256.75" text-anchor="end" stroke="#231f20" stroke-width="0.2" font-size="8.8">1.2</text>
<line x1="394.3" y1="266.7" x2="397.5" y2="266.7" stroke="#231f20" stroke-width="1" />
<text x="393.3" y="269.65" text-anchor="end" stroke="#231f20" stroke-width="0.2" font-size="8.8">1.0</text>
<line x1="394.3" y1="279.1" x2="397.5" y2="279.1" stroke="#231f20" stroke-width="1" />
<text x="393.3" y="282.05" text-anchor="end" stroke="#231f20" stroke-width="0.2" font-size="8.8">0.8</text>
<line x1="394.3" y1="291.9" x2="397.5" y2="291.9" stroke="#231f20" stroke-width="1" />
<text x="393.3" y="294.85" text-anchor="end" stroke="#231f20" stroke-width="0.2" font-size="8.8">0.6</text>
<line x1="394.3" y1="304.3" x2="397.5" y2="304.3" stroke="#231f20" stroke-width="1" />
<text x="393.3" y="307.25" text-anchor="end" stroke="#231f20" stroke-width="0.2" font-size="8.8">0.4</text>
<line x1="394.3" y1="316.7" x2="397.5" y2="316.7" stroke="#231f20" stroke-width="1" />
<text x="393.3" y="319.65" text-anchor="end" stroke="#231f20" stroke-width="0.2" font-size="8.8">0.2</text>
<line x1="394.3" y1="329.6" x2="397.5" y2="329.6" stroke="#231f20" stroke-width="1" />
<text x="393.3" y="332.55" text-anchor="end" stroke="#231f20" stroke-width="0.2" font-size="8.8">0</text>
<line x1="399.4" y1="329.6" x2="399.4" y2="332.6" stroke="#231f20" stroke-width="1" />
<line x1="446.6" y1="329.6" x2="446.6" y2="332.6" stroke="#231f20" stroke-width="1" />
<line x1="494.8" y1="329.6" x2="494.8" y2="332.6" stroke="#231f20" stroke-width="1" />
<text x="394.8" y="343" stroke="#231f20" stroke-width="0.2" textLength="6.7" lengthAdjust="spacingAndGlyphs" font-size="8.6">-5</text>
<text x="444.6" y="343" stroke="#231f20" stroke-width="0.2" textLength="4.4" lengthAdjust="spacingAndGlyphs" font-size="8.6">0</text>
<text x="492.5" y="343" stroke="#231f20" stroke-width="0.2" textLength="4.6" lengthAdjust="spacingAndGlyphs" font-size="8.6">5</text>
<text x="434.7" y="236.1" stroke="#231f20" stroke-width="0.2" textLength="26.8" lengthAdjust="spacingAndGlyphs" font-size="8.8">MEF2C</text>
<text x="383.4" y="356.4" stroke="#231f20" stroke-width="0.2" textLength="129.8" lengthAdjust="spacingAndGlyphs" font-size="10.6">Distance from center of H3K27ac (kb)</text>
<text transform="translate(375.4 316.7) rotate(-90)" stroke="#231f20" stroke-width="0.2" textLength="65.8" lengthAdjust="spacingAndGlyphs" font-size="10.4">Average tag counts</text>
<text x="453.1" y="261.3" fill="#d01c84" stroke="#d01c84" stroke-width="0.2" textLength="57.2" lengthAdjust="spacingAndGlyphs" font-size="9.5">H3K27ac Down</text>
<text x="467.5" y="271" fill="#d01c84" stroke="#d01c84" stroke-width="0.2" textLength="28.5" lengthAdjust="spacingAndGlyphs" font-size="9.3">(n = 52)</text>
<text x="459.8" y="306.9" fill="#3d5a94" stroke="#3d5a94" stroke-width="0.2" textLength="30.2" lengthAdjust="spacingAndGlyphs" font-size="9.5">Random</text>
<text x="460.3" y="316.8" fill="#3d5a94" stroke="#3d5a94" stroke-width="0.2" textLength="28.5" lengthAdjust="spacingAndGlyphs" font-size="9.3">(n = 52)</text>
<path d="M398 326.9 L400 321.8 L402 326.9 L405 323.9 L407 326.9 L411.2 319.8 L414.2 326.9 L417.2 328.3 L425.3 328.3 L427.3 325.9 L430.3 323.9 L434.4 317.8 L436.4 320.8 L438.4 316.8 L439.8 305.7 L441.8 299.6 L443.1 281.4 L444.5 255.2 L445.3 246.5 L446.5 246.1 L447.9 257.2 L448.9 274.4 L449.9 271.3 L451.1 282.5 L453.2 295.6 L455.2 301.6 L456.6 313.8 L459.2 321.8 L461.2 320.8 L463.7 325.9 L467.7 319.8 L470.1 324.9 L473.8 326.9 L477.8 328.3 L483.9 326.9 L487.9 328.3 L494 328.9" fill="none" stroke="#d01c84" stroke-width="1.35" stroke-linejoin="round"/>
<path d="M398 328.9 L415.2 328.9 L425.3 328.3 L429.3 323.9 L432.4 320.8 L434.4 324.9 L437.4 320.8 L440.4 319.8 L443.5 315.8 L445.5 312.7 L447.9 314.2 L449.5 312.7 L452 313.8 L453.6 319.8 L456.6 324.9 L459.6 327.5 L471.7 328.3 L489.9 328.9 L494 326.9" fill="none" stroke="#2d4b86" stroke-width="1.35" stroke-linejoin="round"/>
<text x="68.8" y="392.6" stroke="#231f20" stroke-width="0.2" textLength="33.1" lengthAdjust="spacingAndGlyphs" font-size="9.2">H3K27ac</text>
<line x1="55.4" y1="397.4" x2="115.4" y2="397.4" stroke="#231f20" stroke-width="1.1" />
<text x="55.8" y="408" stroke="#231f20" stroke-width="0.2" textLength="25" lengthAdjust="spacingAndGlyphs" font-size="9.6">DMSO</text>
<text x="92.3" y="408" stroke="#231f20" stroke-width="0.2" textLength="14.4" lengthAdjust="spacingAndGlyphs" font-size="9.6">YKL</text>
<text x="117.7" y="408" stroke="#231f20" stroke-width="0.2" textLength="27.5" lengthAdjust="spacingAndGlyphs" font-size="9.6">MEF2C</text>
<text x="51" y="523.5" stroke="#231f20" stroke-width="0.2" textLength="6.1" lengthAdjust="spacingAndGlyphs" font-size="9.2">-5</text>
<text x="69.2" y="523.5" stroke="#231f20" stroke-width="0.2" textLength="4.1" lengthAdjust="spacingAndGlyphs" font-size="9.2">0</text>
<text x="82.5" y="523.5" stroke="#231f20" stroke-width="0.2" textLength="15" lengthAdjust="spacingAndGlyphs" font-size="9.2">5 kb</text>
<text transform="translate(38.2 498.5) rotate(-90)" stroke="#231f20" stroke-width="0.2" textLength="71.5" lengthAdjust="spacingAndGlyphs" font-size="10.4">H3K7ac Down in YKL</text>
<text transform="translate(48.2 475.6) rotate(-90)" stroke="#231f20" stroke-width="0.2" textLength="25.6" lengthAdjust="spacingAndGlyphs" font-size="9">(n=52)</text>
<rect x="55.4" y="412.9" width="28.9" height="99.7" fill="#f7f7fc" />
<g fill="#dcdcf2"><rect x="63.01" y="412.9" width="1.57" height="1.66"/><rect x="64.53" y="412.9" width="1.57" height="1.66"/><rect x="70.61" y="412.9" width="1.57" height="1.66"/><rect x="72.13" y="412.9" width="1.57" height="1.66"/><rect x="55.4" y="414.51" width="1.57" height="1.66"/><rect x="58.44" y="414.51" width="1.57" height="1.66"/><rect x="61.48" y="414.51" width="1.57" height="1.66"/><rect x="64.53" y="414.51" width="1.57" height="1.66"/><rect x="69.09" y="414.51" width="1.57" height="1.66"/><rect x="73.65" y="414.51" width="1.57" height="1.66"/><rect x="81.26" y="414.51" width="1.57" height="1.66"/><rect x="55.4" y="416.12" width="1.57" height="1.66"/><rect x="56.92" y="416.12" width="1.57" height="1.66"/><rect x="61.48" y="416.12" width="1.57" height="1.66"/><rect x="72.13" y="416.12" width="1.57" height="1.66"/><rect x="73.65" y="416.12" width="1.57" height="1.66"/><rect x="82.78" y="416.12" width="1.57" height="1.66"/><rect x="72.13" y="417.72" width="1.57" height="1.66"/><rect x="75.17" y="417.72" width="1.57" height="1.66"/><rect x="59.96" y="419.33" width="1.57" height="1.66"/><rect x="63.01" y="419.33" width="1.57" height="1.66"/><rect x="64.53" y="419.33" width="1.57" height="1.66"/><rect x="66.05" y="419.33" width="1.57" height="1.66"/><rect x="72.13" y="419.33" width="1.57" height="1.66"/><rect x="73.65" y="419.33" width="1.57" height="1.66"/><rect x="75.17" y="419.33" width="1.57" height="1.66"/><rect x="78.22" y="419.33" width="1.57" height="1.66"/><rect x="63.01" y="420.94" width="1.57" height="1.66"/><rect x="64.53" y="420.94" width="1.57" height="1.66"/><rect x="70.61" y="420.94" width="1.57" height="1.66"/><rect x="81.26" y="420.94" width="1.57" height="1.66"/><rect x="59.96" y="422.55" width="1.57" height="1.66"/><rect x="61.48" y="422.55" width="1.57" height="1.66"/><rect x="69.09" y="422.55" width="1.57" height="1.66"/><rect x="81.26" y="422.55" width="1.57" height="1.66"/><rect x="82.78" y="422.55" width="1.57" height="1.66"/><rect x="63.01" y="424.16" width="1.57" height="1.66"/><rect x="64.53" y="424.16" width="1.57" height="1.66"/><rect x="66.05" y="424.16" width="1.57" height="1.66"/><rect x="72.13" y="424.16" width="1.57" height="1.66"/><rect x="76.69" y="424.16" width="1.57" height="1.66"/><rect x="79.74" y="424.16" width="1.57" height="1.66"/><rect x="59.96" y="425.76" width="1.57" height="1.66"/><rect x="63.01" y="425.76" width="1.57" height="1.66"/><rect x="76.69" y="425.76" width="1.57" height="1.66"/><rect x="78.22" y="425.76" width="1.57" height="1.66"/><rect x="63.01" y="427.37" width="1.57" height="1.66"/><rect x="70.61" y="427.37" width="1.57" height="1.66"/><rect x="73.65" y="427.37" width="1.57" height="1.66"/><rect x="75.17" y="427.37" width="1.57" height="1.66"/><rect x="76.69" y="427.37" width="1.57" height="1.66"/><rect x="81.26" y="427.37" width="1.57" height="1.66"/><rect x="82.78" y="427.37" width="1.57" height="1.66"/><rect x="59.96" y="428.98" width="1.57" height="1.66"/><rect x="61.48" y="428.98" width="1.57" height="1.66"/><rect x="72.13" y="428.98" width="1.57" height="1.66"/><rect x="76.69" y="428.98" width="1.57" height="1.66"/><rect x="78.22" y="428.98" width="1.57" height="1.66"/><rect x="81.26" y="428.98" width="1.57" height="1.66"/><rect x="61.48" y="430.59" width="1.57" height="1.66"/><rect x="59.96" y="432.2" width="1.57" height="1.66"/><rect x="63.01" y="432.2" width="1.57" height="1.66"/><rect x="64.53" y="432.2" width="1.57" height="1.66"/><rect x="70.61" y="432.2" width="1.57" height="1.66"/><rect x="72.13" y="432.2" width="1.57" height="1.66"/><rect x="73.65" y="432.2" width="1.57" height="1.66"/><rect x="75.17" y="432.2" width="1.57" height="1.66"/><rect x="76.69" y="432.2" width="1.57" height="1.66"/><rect x="56.92" y="433.8" width="1.57" height="1.66"/><rect x="61.48" y="433.8" width="1.57" height="1.66"/><rect x="63.01" y="433.8" width="1.57" height="1.66"/><rect x="67.57" y="433.8" width="1.57" height="1.66"/><rect x="72.13" y="433.8" width="1.57" height="1.66"/><rect x="73.65" y="433.8" width="1.57" height="1.66"/><rect x="76.69" y="433.8" width="1.57" height="1.66"/><rect x="82.78" y="433.8" width="1.57" height="1.66"/><rect x="67.57" y="435.41" width="1.57" height="1.66"/><rect x="78.22" y="435.41" width="1.57" height="1.66"/><rect x="59.96" y="437.02" width="1.57" height="1.66"/><rect x="72.13" y="437.02" width="1.57" height="1.66"/><rect x="75.17" y="437.02" width="1.57" height="1.66"/><rect x="78.22" y="437.02" width="1.57" height="1.66"/><rect x="58.44" y="438.63" width="1.57" height="1.66"/><rect x="66.05" y="438.63" width="1.57" height="1.66"/><rect x="76.69" y="438.63" width="1.57" height="1.66"/><rect x="79.74" y="438.63" width="1.57" height="1.66"/><rect x="81.26" y="438.63" width="1.57" height="1.66"/><rect x="55.4" y="440.24" width="1.57" height="1.66"/><rect x="58.44" y="440.24" width="1.57" height="1.66"/><rect x="63.01" y="440.24" width="1.57" height="1.66"/><rect x="72.13" y="440.24" width="1.57" height="1.66"/><rect x="67.57" y="441.85" width="1.57" height="1.66"/><rect x="73.65" y="441.85" width="1.57" height="1.66"/><rect x="56.92" y="443.45" width="1.57" height="1.66"/><rect x="59.96" y="443.45" width="1.57" height="1.66"/><rect x="69.09" y="443.45" width="1.57" height="1.66"/><rect x="70.61" y="443.45" width="1.57" height="1.66"/><rect x="78.22" y="443.45" width="1.57" height="1.66"/><rect x="63.01" y="445.06" width="1.57" height="1.66"/><rect x="64.53" y="445.06" width="1.57" height="1.66"/><rect x="70.61" y="445.06" width="1.57" height="1.66"/><rect x="72.13" y="445.06" width="1.57" height="1.66"/><rect x="82.78" y="445.06" width="1.57" height="1.66"/><rect x="55.4" y="446.67" width="1.57" height="1.66"/><rect x="64.53" y="446.67" width="1.57" height="1.66"/><rect x="72.13" y="446.67" width="1.57" height="1.66"/><rect x="76.69" y="446.67" width="1.57" height="1.66"/><rect x="67.57" y="448.28" width="1.57" height="1.66"/><rect x="70.61" y="448.28" width="1.57" height="1.66"/><rect x="63.01" y="449.89" width="1.57" height="1.66"/><rect x="61.48" y="451.49" width="1.57" height="1.66"/><rect x="64.53" y="451.49" width="1.57" height="1.66"/><rect x="70.61" y="451.49" width="1.57" height="1.66"/><rect x="61.48" y="453.1" width="1.57" height="1.66"/><rect x="72.13" y="453.1" width="1.57" height="1.66"/><rect x="75.17" y="453.1" width="1.57" height="1.66"/><rect x="78.22" y="453.1" width="1.57" height="1.66"/><rect x="61.48" y="454.71" width="1.57" height="1.66"/><rect x="70.61" y="454.71" width="1.57" height="1.66"/><rect x="72.13" y="454.71" width="1.57" height="1.66"/><rect x="73.65" y="454.71" width="1.57" height="1.66"/><rect x="76.69" y="454.71" width="1.57" height="1.66"/><rect x="78.22" y="454.71" width="1.57" height="1.66"/><rect x="79.74" y="454.71" width="1.57" height="1.66"/><rect x="82.78" y="454.71" width="1.57" height="1.66"/><rect x="61.48" y="456.32" width="1.57" height="1.66"/><rect x="64.53" y="456.32" width="1.57" height="1.66"/><rect x="66.05" y="456.32" width="1.57" height="1.66"/><rect x="67.57" y="456.32" width="1.57" height="1.66"/><rect x="72.13" y="456.32" width="1.57" height="1.66"/><rect x="59.96" y="457.93" width="1.57" height="1.66"/><rect x="61.48" y="457.93" width="1.57" height="1.66"/><rect x="63.01" y="457.93" width="1.57" height="1.66"/><rect x="66.05" y="457.93" width="1.57" height="1.66"/><rect x="63.01" y="459.53" width="1.57" height="1.66"/><rect x="67.57" y="459.53" width="1.57" height="1.66"/><rect x="73.65" y="459.53" width="1.57" height="1.66"/><rect x="79.74" y="459.53" width="1.57" height="1.66"/><rect x="81.26" y="459.53" width="1.57" height="1.66"/><rect x="67.57" y="461.14" width="1.57" height="1.66"/><rect x="73.65" y="461.14" width="1.57" height="1.66"/><rect x="75.17" y="461.14" width="1.57" height="1.66"/><rect x="76.69" y="461.14" width="1.57" height="1.66"/><rect x="82.78" y="461.14" width="1.57" height="1.66"/><rect x="59.96" y="462.75" width="1.57" height="1.66"/><rect x="73.65" y="462.75" width="1.57" height="1.66"/><rect x="82.78" y="462.75" width="1.57" height="1.66"/><rect x="64.53" y="464.36" width="1.57" height="1.66"/><rect x="61.48" y="465.97" width="1.57" height="1.66"/><rect x="58.44" y="467.57" width="1.57" height="1.66"/><rect x="61.48" y="467.57" width="1.57" height="1.66"/><rect x="64.53" y="467.57" width="1.57" height="1.66"/><rect x="67.57" y="467.57" width="1.57" height="1.66"/><rect x="69.09" y="467.57" width="1.57" height="1.66"/><rect x="76.69" y="467.57" width="1.57" height="1.66"/><rect x="81.26" y="467.57" width="1.57" height="1.66"/><rect x="58.44" y="469.18" width="1.57" height="1.66"/><rect x="72.13" y="469.18" width="1.57" height="1.66"/><rect x="73.65" y="469.18" width="1.57" height="1.66"/><rect x="75.17" y="469.18" width="1.57" height="1.66"/><rect x="55.4" y="470.79" width="1.57" height="1.66"/><rect x="56.92" y="470.79" width="1.57" height="1.66"/><rect x="64.53" y="470.79" width="1.57" height="1.66"/><rect x="66.05" y="470.79" width="1.57" height="1.66"/><rect x="70.61" y="470.79" width="1.57" height="1.66"/><rect x="78.22" y="470.79" width="1.57" height="1.66"/><rect x="56.92" y="472.4" width="1.57" height="1.66"/><rect x="59.96" y="472.4" width="1.57" height="1.66"/><rect x="64.53" y="472.4" width="1.57" height="1.66"/><rect x="73.65" y="472.4" width="1.57" height="1.66"/><rect x="75.17" y="472.4" width="1.57" height="1.66"/><rect x="66.05" y="474.01" width="1.57" height="1.66"/><rect x="67.57" y="474.01" width="1.57" height="1.66"/><rect x="69.09" y="475.61" width="1.57" height="1.66"/><rect x="81.26" y="475.61" width="1.57" height="1.66"/><rect x="59.96" y="477.22" width="1.57" height="1.66"/><rect x="64.53" y="477.22" width="1.57" height="1.66"/><rect x="76.69" y="477.22" width="1.57" height="1.66"/><rect x="79.74" y="477.22" width="1.57" height="1.66"/><rect x="81.26" y="477.22" width="1.57" height="1.66"/><rect x="58.44" y="478.83" width="1.57" height="1.66"/><rect x="61.48" y="478.83" width="1.57" height="1.66"/><rect x="64.53" y="478.83" width="1.57" height="1.66"/><rect x="67.57" y="478.83" width="1.57" height="1.66"/><rect x="75.17" y="478.83" width="1.57" height="1.66"/><rect x="78.22" y="478.83" width="1.57" height="1.66"/><rect x="79.74" y="478.83" width="1.57" height="1.66"/><rect x="81.26" y="478.83" width="1.57" height="1.66"/><rect x="82.78" y="478.83" width="1.57" height="1.66"/><rect x="58.44" y="480.44" width="1.57" height="1.66"/><rect x="63.01" y="480.44" width="1.57" height="1.66"/><rect x="66.05" y="480.44" width="1.57" height="1.66"/><rect x="69.09" y="480.44" width="1.57" height="1.66"/><rect x="75.17" y="480.44" width="1.57" height="1.66"/><rect x="61.48" y="482.05" width="1.57" height="1.66"/><rect x="64.53" y="482.05" width="1.57" height="1.66"/><rect x="66.05" y="482.05" width="1.57" height="1.66"/><rect x="67.57" y="482.05" width="1.57" height="1.66"/><rect x="69.09" y="482.05" width="1.57" height="1.66"/><rect x="75.17" y="482.05" width="1.57" height="1.66"/><rect x="79.74" y="482.05" width="1.57" height="1.66"/><rect x="59.96" y="483.65" width="1.57" height="1.66"/><rect x="66.05" y="483.65" width="1.57" height="1.66"/><rect x="67.57" y="483.65" width="1.57" height="1.66"/><rect x="73.65" y="483.65" width="1.57" height="1.66"/><rect x="78.22" y="483.65" width="1.57" height="1.66"/><rect x="79.74" y="483.65" width="1.57" height="1.66"/><rect x="66.05" y="485.26" width="1.57" height="1.66"/><rect x="73.65" y="485.26" width="1.57" height="1.66"/><rect x="76.69" y="485.26" width="1.57" height="1.66"/><rect x="55.4" y="486.87" width="1.57" height="1.66"/><rect x="56.92" y="486.87" width="1.57" height="1.66"/><rect x="63.01" y="486.87" width="1.57" height="1.66"/><rect x="66.05" y="486.87" width="1.57" height="1.66"/><rect x="78.22" y="486.87" width="1.57" height="1.66"/><rect x="58.44" y="488.48" width="1.57" height="1.66"/><rect x="63.01" y="488.48" width="1.57" height="1.66"/><rect x="72.13" y="488.48" width="1.57" height="1.66"/><rect x="73.65" y="488.48" width="1.57" height="1.66"/><rect x="78.22" y="488.48" width="1.57" height="1.66"/><rect x="79.74" y="488.48" width="1.57" height="1.66"/><rect x="82.78" y="488.48" width="1.57" height="1.66"/><rect x="61.48" y="491.7" width="1.57" height="1.66"/><rect x="66.05" y="491.7" width="1.57" height="1.66"/><rect x="69.09" y="491.7" width="1.57" height="1.66"/><rect x="79.74" y="491.7" width="1.57" height="1.66"/><rect x="56.92" y="494.91" width="1.57" height="1.66"/><rect x="64.53" y="494.91" width="1.57" height="1.66"/><rect x="66.05" y="494.91" width="1.57" height="1.66"/><rect x="72.13" y="494.91" width="1.57" height="1.66"/><rect x="76.69" y="494.91" width="1.57" height="1.66"/><rect x="78.22" y="494.91" width="1.57" height="1.66"/><rect x="81.26" y="494.91" width="1.57" height="1.66"/><rect x="63.01" y="496.52" width="1.57" height="1.66"/><rect x="67.57" y="496.52" width="1.57" height="1.66"/><rect x="56.92" y="498.13" width="1.57" height="1.66"/><rect x="58.44" y="498.13" width="1.57" height="1.66"/><rect x="59.96" y="498.13" width="1.57" height="1.66"/><rect x="72.13" y="498.13" width="1.57" height="1.66"/><rect x="75.17" y="498.13" width="1.57" height="1.66"/><rect x="56.92" y="499.74" width="1.57" height="1.66"/><rect x="64.53" y="499.74" width="1.57" height="1.66"/><rect x="76.69" y="499.74" width="1.57" height="1.66"/><rect x="82.78" y="499.74" width="1.57" height="1.66"/><rect x="56.92" y="501.34" width="1.57" height="1.66"/><rect x="63.01" y="501.34" width="1.57" height="1.66"/><rect x="64.53" y="501.34" width="1.57" height="1.66"/><rect x="78.22" y="501.34" width="1.57" height="1.66"/><rect x="61.48" y="502.95" width="1.57" height="1.66"/><rect x="63.01" y="502.95" width="1.57" height="1.66"/><rect x="66.05" y="502.95" width="1.57" height="1.66"/><rect x="70.61" y="502.95" width="1.57" height="1.66"/><rect x="76.69" y="502.95" width="1.57" height="1.66"/><rect x="82.78" y="502.95" width="1.57" height="1.66"/><rect x="55.4" y="504.56" width="1.57" height="1.66"/><rect x="59.96" y="504.56" width="1.57" height="1.66"/><rect x="66.05" y="504.56" width="1.57" height="1.66"/><rect x="72.13" y="504.56" width="1.57" height="1.66"/><rect x="73.65" y="504.56" width="1.57" height="1.66"/><rect x="78.22" y="504.56" width="1.57" height="1.66"/><rect x="79.74" y="504.56" width="1.57" height="1.66"/><rect x="81.26" y="504.56" width="1.57" height="1.66"/><rect x="82.78" y="504.56" width="1.57" height="1.66"/><rect x="73.65" y="506.17" width="1.57" height="1.66"/><rect x="81.26" y="506.17" width="1.57" height="1.66"/><rect x="61.48" y="507.78" width="1.57" height="1.66"/><rect x="63.01" y="507.78" width="1.57" height="1.66"/><rect x="64.53" y="507.78" width="1.57" height="1.66"/><rect x="72.13" y="507.78" width="1.57" height="1.66"/><rect x="73.65" y="507.78" width="1.57" height="1.66"/><rect x="81.26" y="507.78" width="1.57" height="1.66"/><rect x="58.44" y="509.38" width="1.57" height="1.66"/><rect x="59.96" y="509.38" width="1.57" height="1.66"/><rect x="75.17" y="509.38" width="1.57" height="1.66"/><rect x="76.69" y="509.38" width="1.57" height="1.66"/><rect x="79.74" y="509.38" width="1.57" height="1.66"/><rect x="55.4" y="510.99" width="1.57" height="1.66"/><rect x="58.44" y="510.99" width="1.57" height="1.66"/><rect x="66.05" y="510.99" width="1.57" height="1.66"/><rect x="73.65" y="510.99" width="1.57" height="1.66"/><rect x="79.74" y="510.99" width="1.57" height="1.66"/></g>
<g fill="#a4a4d6"><rect x="66.05" y="412.9" width="1.57" height="1.66"/><rect x="67.57" y="412.9" width="1.57" height="1.66"/><rect x="76.69" y="412.9" width="1.57" height="1.66"/><rect x="79.74" y="412.9" width="1.57" height="1.66"/><rect x="56.92" y="414.51" width="1.57" height="1.66"/><rect x="63.01" y="414.51" width="1.57" height="1.66"/><rect x="66.05" y="414.51" width="1.57" height="1.66"/><rect x="67.57" y="414.51" width="1.57" height="1.66"/><rect x="72.13" y="414.51" width="1.57" height="1.66"/><rect x="75.17" y="414.51" width="1.57" height="1.66"/><rect x="78.22" y="414.51" width="1.57" height="1.66"/><rect x="63.01" y="416.12" width="1.57" height="1.66"/><rect x="63.01" y="417.72" width="1.57" height="1.66"/><rect x="64.53" y="417.72" width="1.57" height="1.66"/><rect x="73.65" y="417.72" width="1.57" height="1.66"/><rect x="55.4" y="419.33" width="1.57" height="1.66"/><rect x="58.44" y="419.33" width="1.57" height="1.66"/><rect x="58.44" y="420.94" width="1.57" height="1.66"/><rect x="61.48" y="420.94" width="1.57" height="1.66"/><rect x="69.09" y="420.94" width="1.57" height="1.66"/><rect x="72.13" y="420.94" width="1.57" height="1.66"/><rect x="63.01" y="422.55" width="1.57" height="1.66"/><rect x="78.22" y="424.16" width="1.57" height="1.66"/><rect x="64.53" y="425.76" width="1.57" height="1.66"/><rect x="69.09" y="425.76" width="1.57" height="1.66"/><rect x="72.13" y="425.76" width="1.57" height="1.66"/><rect x="78.22" y="427.37" width="1.57" height="1.66"/><rect x="58.44" y="428.98" width="1.57" height="1.66"/><rect x="64.53" y="428.98" width="1.57" height="1.66"/><rect x="70.61" y="428.98" width="1.57" height="1.66"/><rect x="75.17" y="428.98" width="1.57" height="1.66"/><rect x="66.05" y="430.59" width="1.57" height="1.66"/><rect x="69.09" y="430.59" width="1.57" height="1.66"/><rect x="70.61" y="430.59" width="1.57" height="1.66"/><rect x="73.65" y="430.59" width="1.57" height="1.66"/><rect x="75.17" y="430.59" width="1.57" height="1.66"/><rect x="81.26" y="430.59" width="1.57" height="1.66"/><rect x="67.57" y="432.2" width="1.57" height="1.66"/><rect x="78.22" y="432.2" width="1.57" height="1.66"/><rect x="66.05" y="433.8" width="1.57" height="1.66"/><rect x="69.09" y="433.8" width="1.57" height="1.66"/><rect x="70.61" y="433.8" width="1.57" height="1.66"/><rect x="75.17" y="433.8" width="1.57" height="1.66"/><rect x="78.22" y="433.8" width="1.57" height="1.66"/><rect x="79.74" y="433.8" width="1.57" height="1.66"/><rect x="81.26" y="433.8" width="1.57" height="1.66"/><rect x="58.44" y="437.02" width="1.57" height="1.66"/><rect x="63.01" y="437.02" width="1.57" height="1.66"/><rect x="70.61" y="437.02" width="1.57" height="1.66"/><rect x="73.65" y="437.02" width="1.57" height="1.66"/><rect x="61.48" y="438.63" width="1.57" height="1.66"/><rect x="63.01" y="438.63" width="1.57" height="1.66"/><rect x="78.22" y="438.63" width="1.57" height="1.66"/><rect x="82.78" y="438.63" width="1.57" height="1.66"/><rect x="56.92" y="440.24" width="1.57" height="1.66"/><rect x="64.53" y="440.24" width="1.57" height="1.66"/><rect x="70.61" y="440.24" width="1.57" height="1.66"/><rect x="75.17" y="440.24" width="1.57" height="1.66"/><rect x="63.01" y="441.85" width="1.57" height="1.66"/><rect x="76.69" y="441.85" width="1.57" height="1.66"/><rect x="58.44" y="443.45" width="1.57" height="1.66"/><rect x="64.53" y="443.45" width="1.57" height="1.66"/><rect x="66.05" y="445.06" width="1.57" height="1.66"/><rect x="69.09" y="445.06" width="1.57" height="1.66"/><rect x="75.17" y="445.06" width="1.57" height="1.66"/><rect x="58.44" y="446.67" width="1.57" height="1.66"/><rect x="69.09" y="446.67" width="1.57" height="1.66"/><rect x="70.61" y="446.67" width="1.57" height="1.66"/><rect x="73.65" y="446.67" width="1.57" height="1.66"/><rect x="66.05" y="448.28" width="1.57" height="1.66"/><rect x="56.92" y="449.89" width="1.57" height="1.66"/><rect x="58.44" y="449.89" width="1.57" height="1.66"/><rect x="66.05" y="449.89" width="1.57" height="1.66"/><rect x="69.09" y="449.89" width="1.57" height="1.66"/><rect x="70.61" y="449.89" width="1.57" height="1.66"/><rect x="73.65" y="449.89" width="1.57" height="1.66"/><rect x="56.92" y="451.49" width="1.57" height="1.66"/><rect x="69.09" y="451.49" width="1.57" height="1.66"/><rect x="79.74" y="451.49" width="1.57" height="1.66"/><rect x="70.61" y="453.1" width="1.57" height="1.66"/><rect x="69.09" y="456.32" width="1.57" height="1.66"/><rect x="70.61" y="456.32" width="1.57" height="1.66"/><rect x="73.65" y="456.32" width="1.57" height="1.66"/><rect x="64.53" y="457.93" width="1.57" height="1.66"/><rect x="70.61" y="457.93" width="1.57" height="1.66"/><rect x="76.69" y="457.93" width="1.57" height="1.66"/><rect x="79.74" y="457.93" width="1.57" height="1.66"/><rect x="69.09" y="459.53" width="1.57" height="1.66"/><rect x="70.61" y="459.53" width="1.57" height="1.66"/><rect x="76.69" y="459.53" width="1.57" height="1.66"/><rect x="59.96" y="461.14" width="1.57" height="1.66"/><rect x="66.05" y="461.14" width="1.57" height="1.66"/><rect x="69.09" y="461.14" width="1.57" height="1.66"/><rect x="79.74" y="461.14" width="1.57" height="1.66"/><rect x="64.53" y="462.75" width="1.57" height="1.66"/><rect x="67.57" y="462.75" width="1.57" height="1.66"/><rect x="75.17" y="462.75" width="1.57" height="1.66"/><rect x="79.74" y="462.75" width="1.57" height="1.66"/><rect x="61.48" y="464.36" width="1.57" height="1.66"/><rect x="70.61" y="464.36" width="1.57" height="1.66"/><rect x="72.13" y="464.36" width="1.57" height="1.66"/><rect x="81.26" y="464.36" width="1.57" height="1.66"/><rect x="64.53" y="465.97" width="1.57" height="1.66"/><rect x="66.05" y="465.97" width="1.57" height="1.66"/><rect x="67.57" y="465.97" width="1.57" height="1.66"/><rect x="72.13" y="465.97" width="1.57" height="1.66"/><rect x="75.17" y="465.97" width="1.57" height="1.66"/><rect x="55.4" y="467.57" width="1.57" height="1.66"/><rect x="72.13" y="467.57" width="1.57" height="1.66"/><rect x="73.65" y="467.57" width="1.57" height="1.66"/><rect x="75.17" y="467.57" width="1.57" height="1.66"/><rect x="69.09" y="469.18" width="1.57" height="1.66"/><rect x="70.61" y="469.18" width="1.57" height="1.66"/><rect x="76.69" y="469.18" width="1.57" height="1.66"/><rect x="63.01" y="470.79" width="1.57" height="1.66"/><rect x="67.57" y="470.79" width="1.57" height="1.66"/><rect x="66.05" y="472.4" width="1.57" height="1.66"/><rect x="67.57" y="472.4" width="1.57" height="1.66"/><rect x="82.78" y="474.01" width="1.57" height="1.66"/><rect x="61.48" y="475.61" width="1.57" height="1.66"/><rect x="70.61" y="475.61" width="1.57" height="1.66"/><rect x="72.13" y="475.61" width="1.57" height="1.66"/><rect x="73.65" y="475.61" width="1.57" height="1.66"/><rect x="75.17" y="475.61" width="1.57" height="1.66"/><rect x="79.74" y="475.61" width="1.57" height="1.66"/><rect x="58.44" y="477.22" width="1.57" height="1.66"/><rect x="69.09" y="477.22" width="1.57" height="1.66"/><rect x="56.92" y="478.83" width="1.57" height="1.66"/><rect x="70.61" y="478.83" width="1.57" height="1.66"/><rect x="72.13" y="478.83" width="1.57" height="1.66"/><rect x="73.65" y="478.83" width="1.57" height="1.66"/><rect x="67.57" y="480.44" width="1.57" height="1.66"/><rect x="73.65" y="480.44" width="1.57" height="1.66"/><rect x="76.69" y="480.44" width="1.57" height="1.66"/><rect x="79.74" y="480.44" width="1.57" height="1.66"/><rect x="56.92" y="482.05" width="1.57" height="1.66"/><rect x="63.01" y="482.05" width="1.57" height="1.66"/><rect x="73.65" y="482.05" width="1.57" height="1.66"/><rect x="63.01" y="483.65" width="1.57" height="1.66"/><rect x="64.53" y="485.26" width="1.57" height="1.66"/><rect x="72.13" y="485.26" width="1.57" height="1.66"/><rect x="81.26" y="485.26" width="1.57" height="1.66"/><rect x="72.13" y="486.87" width="1.57" height="1.66"/><rect x="76.69" y="486.87" width="1.57" height="1.66"/><rect x="66.05" y="488.48" width="1.57" height="1.66"/><rect x="69.09" y="488.48" width="1.57" height="1.66"/><rect x="67.57" y="490.09" width="1.57" height="1.66"/><rect x="69.09" y="490.09" width="1.57" height="1.66"/><rect x="75.17" y="490.09" width="1.57" height="1.66"/><rect x="64.53" y="491.7" width="1.57" height="1.66"/><rect x="67.57" y="491.7" width="1.57" height="1.66"/><rect x="70.61" y="491.7" width="1.57" height="1.66"/><rect x="73.65" y="491.7" width="1.57" height="1.66"/><rect x="58.44" y="493.3" width="1.57" height="1.66"/><rect x="63.01" y="493.3" width="1.57" height="1.66"/><rect x="67.57" y="493.3" width="1.57" height="1.66"/><rect x="69.09" y="493.3" width="1.57" height="1.66"/><rect x="73.65" y="493.3" width="1.57" height="1.66"/><rect x="75.17" y="493.3" width="1.57" height="1.66"/><rect x="58.44" y="494.91" width="1.57" height="1.66"/><rect x="73.65" y="494.91" width="1.57" height="1.66"/><rect x="79.74" y="494.91" width="1.57" height="1.66"/><rect x="79.74" y="496.52" width="1.57" height="1.66"/><rect x="63.01" y="498.13" width="1.57" height="1.66"/><rect x="67.57" y="499.74" width="1.57" height="1.66"/><rect x="70.61" y="499.74" width="1.57" height="1.66"/><rect x="72.13" y="499.74" width="1.57" height="1.66"/><rect x="67.57" y="501.34" width="1.57" height="1.66"/><rect x="69.09" y="501.34" width="1.57" height="1.66"/><rect x="70.61" y="501.34" width="1.57" height="1.66"/><rect x="72.13" y="501.34" width="1.57" height="1.66"/><rect x="72.13" y="502.95" width="1.57" height="1.66"/><rect x="67.57" y="504.56" width="1.57" height="1.66"/><rect x="69.09" y="504.56" width="1.57" height="1.66"/><rect x="75.17" y="504.56" width="1.57" height="1.66"/><rect x="76.69" y="504.56" width="1.57" height="1.66"/><rect x="58.44" y="506.17" width="1.57" height="1.66"/><rect x="61.48" y="506.17" width="1.57" height="1.66"/><rect x="63.01" y="506.17" width="1.57" height="1.66"/><rect x="64.53" y="506.17" width="1.57" height="1.66"/><rect x="75.17" y="506.17" width="1.57" height="1.66"/><rect x="56.92" y="507.78" width="1.57" height="1.66"/><rect x="66.05" y="507.78" width="1.57" height="1.66"/><rect x="67.57" y="509.38" width="1.57" height="1.66"/><rect x="72.13" y="509.38" width="1.57" height="1.66"/><rect x="73.65" y="509.38" width="1.57" height="1.66"/><rect x="81.26" y="509.38" width="1.57" height="1.66"/><rect x="64.53" y="510.99" width="1.57" height="1.66"/><rect x="72.13" y="510.99" width="1.57" height="1.66"/><rect x="78.22" y="510.99" width="1.57" height="1.66"/><rect x="62" y="499.6" width="1.57" height="1.66"/><rect x="63.52" y="499.6" width="1.57" height="1.66"/><rect x="65.04" y="499.6" width="1.57" height="1.66"/><rect x="66.56" y="499.6" width="1.57" height="1.66"/><rect x="68.08" y="499.6" width="1.57" height="1.66"/><rect x="69.61" y="499.6" width="1.57" height="1.66"/><rect x="71.13" y="499.6" width="1.57" height="1.66"/><rect x="72.65" y="499.6" width="1.57" height="1.66"/><rect x="74.17" y="499.6" width="1.57" height="1.66"/><rect x="75.69" y="499.6" width="1.57" height="1.66"/><rect x="77.21" y="499.6" width="1.57" height="1.66"/></g>
<g fill="#5c5cb0"><rect x="70.61" y="414.51" width="1.57" height="1.66"/><rect x="69.09" y="416.12" width="1.57" height="1.66"/><rect x="70.61" y="416.12" width="1.57" height="1.66"/><rect x="66.05" y="417.72" width="1.57" height="1.66"/><rect x="70.61" y="417.72" width="1.57" height="1.66"/><rect x="70.61" y="419.33" width="1.57" height="1.66"/><rect x="67.57" y="422.55" width="1.57" height="1.66"/><rect x="72.13" y="422.55" width="1.57" height="1.66"/><rect x="67.57" y="424.16" width="1.57" height="1.66"/><rect x="70.61" y="424.16" width="1.57" height="1.66"/><rect x="67.57" y="425.76" width="1.57" height="1.66"/><rect x="70.61" y="425.76" width="1.57" height="1.66"/><rect x="66.05" y="427.37" width="1.57" height="1.66"/><rect x="63.01" y="428.98" width="1.57" height="1.66"/><rect x="67.57" y="428.98" width="1.57" height="1.66"/><rect x="69.09" y="428.98" width="1.57" height="1.66"/><rect x="67.57" y="430.59" width="1.57" height="1.66"/><rect x="72.13" y="430.59" width="1.57" height="1.66"/><rect x="66.05" y="432.2" width="1.57" height="1.66"/><rect x="59.96" y="433.8" width="1.57" height="1.66"/><rect x="64.53" y="433.8" width="1.57" height="1.66"/><rect x="69.09" y="435.41" width="1.57" height="1.66"/><rect x="64.53" y="438.63" width="1.57" height="1.66"/><rect x="75.17" y="438.63" width="1.57" height="1.66"/><rect x="69.09" y="440.24" width="1.57" height="1.66"/><rect x="64.53" y="441.85" width="1.57" height="1.66"/><rect x="66.05" y="446.67" width="1.57" height="1.66"/><rect x="64.53" y="448.28" width="1.57" height="1.66"/><rect x="67.57" y="451.49" width="1.57" height="1.66"/><rect x="64.53" y="453.1" width="1.57" height="1.66"/><rect x="66.05" y="453.1" width="1.57" height="1.66"/><rect x="64.53" y="454.71" width="1.57" height="1.66"/><rect x="67.57" y="454.71" width="1.57" height="1.66"/><rect x="75.17" y="454.71" width="1.57" height="1.66"/><rect x="67.57" y="457.93" width="1.57" height="1.66"/><rect x="69.09" y="457.93" width="1.57" height="1.66"/><rect x="73.65" y="457.93" width="1.57" height="1.66"/><rect x="72.13" y="461.14" width="1.57" height="1.66"/><rect x="66.05" y="462.75" width="1.57" height="1.66"/><rect x="69.09" y="462.75" width="1.57" height="1.66"/><rect x="70.61" y="462.75" width="1.57" height="1.66"/><rect x="66.05" y="464.36" width="1.57" height="1.66"/><rect x="69.09" y="465.97" width="1.57" height="1.66"/><rect x="70.61" y="465.97" width="1.57" height="1.66"/><rect x="73.65" y="465.97" width="1.57" height="1.66"/><rect x="67.57" y="469.18" width="1.57" height="1.66"/><rect x="69.09" y="470.79" width="1.57" height="1.66"/><rect x="72.13" y="472.4" width="1.57" height="1.66"/><rect x="72.13" y="474.01" width="1.57" height="1.66"/><rect x="70.61" y="477.22" width="1.57" height="1.66"/><rect x="72.13" y="477.22" width="1.57" height="1.66"/><rect x="75.17" y="477.22" width="1.57" height="1.66"/><rect x="64.53" y="480.44" width="1.57" height="1.66"/><rect x="72.13" y="482.05" width="1.57" height="1.66"/><rect x="70.61" y="483.65" width="1.57" height="1.66"/><rect x="67.57" y="485.26" width="1.57" height="1.66"/><rect x="69.09" y="485.26" width="1.57" height="1.66"/><rect x="67.57" y="486.87" width="1.57" height="1.66"/><rect x="69.09" y="486.87" width="1.57" height="1.66"/><rect x="67.57" y="488.48" width="1.57" height="1.66"/><rect x="66.05" y="490.09" width="1.57" height="1.66"/><rect x="72.13" y="493.3" width="1.57" height="1.66"/><rect x="69.09" y="494.91" width="1.57" height="1.66"/><rect x="69.09" y="496.52" width="1.57" height="1.66"/><rect x="70.61" y="496.52" width="1.57" height="1.66"/><rect x="67.57" y="498.13" width="1.57" height="1.66"/><rect x="69.09" y="498.13" width="1.57" height="1.66"/><rect x="70.61" y="498.13" width="1.57" height="1.66"/><rect x="76.69" y="498.13" width="1.57" height="1.66"/><rect x="67.57" y="506.17" width="1.57" height="1.66"/><rect x="69.09" y="506.17" width="1.57" height="1.66"/><rect x="72.13" y="506.17" width="1.57" height="1.66"/><rect x="69.09" y="507.78" width="1.57" height="1.66"/><rect x="80" y="418.6" width="1.57" height="1.66"/><rect x="81.52" y="418.6" width="1.57" height="1.66"/><rect x="83.04" y="418.6" width="1.57" height="1.66"/><rect x="80.5" y="444.6" width="1.57" height="1.66"/><rect x="82.02" y="444.6" width="1.57" height="1.66"/><rect x="62" y="473.6" width="1.57" height="1.66"/><rect x="63.52" y="473.6" width="1.57" height="1.66"/><rect x="65.04" y="473.6" width="1.57" height="1.66"/><rect x="66.56" y="473.6" width="1.57" height="1.66"/><rect x="68.08" y="473.6" width="1.57" height="1.66"/><rect x="69.61" y="473.6" width="1.57" height="1.66"/><rect x="71.13" y="473.6" width="1.57" height="1.66"/><rect x="58" y="488" width="1.57" height="1.66"/><rect x="59.52" y="488" width="1.57" height="1.66"/><rect x="61.04" y="488" width="1.57" height="1.66"/><rect x="62.56" y="488" width="1.57" height="1.66"/><rect x="64.08" y="488" width="1.57" height="1.66"/><rect x="65.61" y="488" width="1.57" height="1.66"/><rect x="67.13" y="488" width="1.57" height="1.66"/><rect x="68.65" y="488" width="1.57" height="1.66"/><rect x="80" y="462" width="1.57" height="1.66"/><rect x="81.52" y="462" width="1.57" height="1.66"/><rect x="83.04" y="462" width="1.57" height="1.66"/></g>
<g fill="#1e1e80"><rect x="69.09" y="412.9" width="1.57" height="1.66"/><rect x="66.05" y="416.12" width="1.57" height="1.66"/><rect x="67.57" y="416.12" width="1.57" height="1.66"/><rect x="67.57" y="417.72" width="1.57" height="1.66"/><rect x="69.09" y="417.72" width="1.57" height="1.66"/><rect x="67.57" y="419.33" width="1.57" height="1.66"/><rect x="69.09" y="419.33" width="1.57" height="1.66"/><rect x="67.57" y="420.94" width="1.57" height="1.66"/><rect x="69.09" y="424.16" width="1.57" height="1.66"/><rect x="64.53" y="427.37" width="1.57" height="1.66"/><rect x="67.57" y="427.37" width="1.57" height="1.66"/><rect x="69.09" y="427.37" width="1.57" height="1.66"/><rect x="72.13" y="427.37" width="1.57" height="1.66"/><rect x="66.05" y="428.98" width="1.57" height="1.66"/><rect x="69.09" y="432.2" width="1.57" height="1.66"/><rect x="66.05" y="437.02" width="1.57" height="1.66"/><rect x="67.57" y="437.02" width="1.57" height="1.66"/><rect x="69.09" y="437.02" width="1.57" height="1.66"/><rect x="67.57" y="438.63" width="1.57" height="1.66"/><rect x="69.09" y="438.63" width="1.57" height="1.66"/><rect x="70.61" y="438.63" width="1.57" height="1.66"/><rect x="66.05" y="440.24" width="1.57" height="1.66"/><rect x="67.57" y="440.24" width="1.57" height="1.66"/><rect x="66.05" y="441.85" width="1.57" height="1.66"/><rect x="69.09" y="441.85" width="1.57" height="1.66"/><rect x="66.05" y="443.45" width="1.57" height="1.66"/><rect x="67.57" y="443.45" width="1.57" height="1.66"/><rect x="67.57" y="445.06" width="1.57" height="1.66"/><rect x="67.57" y="446.67" width="1.57" height="1.66"/><rect x="64.53" y="449.89" width="1.57" height="1.66"/><rect x="67.57" y="449.89" width="1.57" height="1.66"/><rect x="66.05" y="451.49" width="1.57" height="1.66"/><rect x="67.57" y="453.1" width="1.57" height="1.66"/><rect x="69.09" y="453.1" width="1.57" height="1.66"/><rect x="66.05" y="454.71" width="1.57" height="1.66"/><rect x="69.09" y="454.71" width="1.57" height="1.66"/><rect x="70.61" y="461.14" width="1.57" height="1.66"/><rect x="72.13" y="462.75" width="1.57" height="1.66"/><rect x="67.57" y="464.36" width="1.57" height="1.66"/><rect x="69.09" y="464.36" width="1.57" height="1.66"/><rect x="70.61" y="467.57" width="1.57" height="1.66"/><rect x="72.13" y="470.79" width="1.57" height="1.66"/><rect x="69.09" y="472.4" width="1.57" height="1.66"/><rect x="70.61" y="472.4" width="1.57" height="1.66"/><rect x="69.09" y="474.01" width="1.57" height="1.66"/><rect x="70.61" y="474.01" width="1.57" height="1.66"/><rect x="67.57" y="477.22" width="1.57" height="1.66"/><rect x="69.09" y="478.83" width="1.57" height="1.66"/><rect x="70.61" y="480.44" width="1.57" height="1.66"/><rect x="70.61" y="482.05" width="1.57" height="1.66"/><rect x="69.09" y="483.65" width="1.57" height="1.66"/><rect x="72.13" y="483.65" width="1.57" height="1.66"/><rect x="70.61" y="485.26" width="1.57" height="1.66"/><rect x="70.61" y="486.87" width="1.57" height="1.66"/><rect x="70.61" y="488.48" width="1.57" height="1.66"/><rect x="70.61" y="490.09" width="1.57" height="1.66"/><rect x="66.05" y="493.3" width="1.57" height="1.66"/><rect x="70.61" y="493.3" width="1.57" height="1.66"/><rect x="67.57" y="494.91" width="1.57" height="1.66"/><rect x="70.61" y="494.91" width="1.57" height="1.66"/><rect x="72.13" y="496.52" width="1.57" height="1.66"/><rect x="69.09" y="499.74" width="1.57" height="1.66"/><rect x="69.09" y="502.95" width="1.57" height="1.66"/><rect x="70.61" y="504.56" width="1.57" height="1.66"/><rect x="70.61" y="506.17" width="1.57" height="1.66"/><rect x="67.57" y="507.78" width="1.57" height="1.66"/><rect x="70.61" y="507.78" width="1.57" height="1.66"/><rect x="69.09" y="509.38" width="1.57" height="1.66"/><rect x="70.61" y="509.38" width="1.57" height="1.66"/><rect x="67.57" y="510.99" width="1.57" height="1.66"/><rect x="69.09" y="510.99" width="1.57" height="1.66"/><rect x="70.61" y="510.99" width="1.57" height="1.66"/><rect x="55.4" y="426.6" width="1.57" height="1.66"/><rect x="56.92" y="426.6" width="1.57" height="1.66"/><rect x="58.44" y="426.6" width="1.57" height="1.66"/><rect x="55.4" y="452.4" width="1.57" height="1.66"/><rect x="56.92" y="452.4" width="1.57" height="1.66"/><rect x="58.44" y="452.4" width="1.57" height="1.66"/><rect x="59.96" y="452.4" width="1.57" height="1.66"/><rect x="55.4" y="499.6" width="1.57" height="1.66"/><rect x="56.92" y="499.6" width="1.57" height="1.66"/><rect x="58.44" y="499.6" width="1.57" height="1.66"/><rect x="59.96" y="499.6" width="1.57" height="1.66"/><rect x="78" y="499.6" width="1.57" height="1.66"/><rect x="79.52" y="499.6" width="1.57" height="1.66"/><rect x="81.04" y="499.6" width="1.57" height="1.66"/><rect x="82.56" y="499.6" width="1.57" height="1.66"/><rect x="55.4" y="511" width="1.57" height="1.66"/><rect x="56.92" y="511" width="1.57" height="1.66"/><rect x="58.44" y="511" width="1.57" height="1.66"/><rect x="59.96" y="511" width="1.57" height="1.66"/><rect x="61.48" y="511" width="1.57" height="1.66"/><rect x="63.01" y="511" width="1.57" height="1.66"/><rect x="64.53" y="511" width="1.57" height="1.66"/><rect x="66.05" y="511" width="1.57" height="1.66"/><rect x="67.57" y="511" width="1.57" height="1.66"/><rect x="69.09" y="511" width="1.57" height="1.66"/><rect x="70.61" y="511" width="1.57" height="1.66"/><rect x="72.13" y="511" width="1.57" height="1.66"/><rect x="73.65" y="511" width="1.57" height="1.66"/><rect x="75.17" y="511" width="1.57" height="1.66"/><rect x="76.69" y="511" width="1.57" height="1.66"/><rect x="78.22" y="511" width="1.57" height="1.66"/><rect x="79.74" y="511" width="1.57" height="1.66"/><rect x="81.26" y="511" width="1.57" height="1.66"/><rect x="82.78" y="511" width="1.57" height="1.66"/></g>
<rect x="86.1" y="412.9" width="28.5" height="99.7" fill="#fbfbfe" />
<g fill="#e2e2f4"><rect x="90.6" y="412.9" width="1.55" height="1.66"/><rect x="102.6" y="412.9" width="1.55" height="1.66"/><rect x="107.1" y="412.9" width="1.55" height="1.66"/><rect x="113.1" y="412.9" width="1.55" height="1.66"/><rect x="102.6" y="414.51" width="1.55" height="1.66"/><rect x="113.1" y="414.51" width="1.55" height="1.66"/><rect x="86.1" y="416.12" width="1.55" height="1.66"/><rect x="87.6" y="416.12" width="1.55" height="1.66"/><rect x="93.6" y="416.12" width="1.55" height="1.66"/><rect x="95.1" y="416.12" width="1.55" height="1.66"/><rect x="96.6" y="416.12" width="1.55" height="1.66"/><rect x="108.6" y="416.12" width="1.55" height="1.66"/><rect x="113.1" y="416.12" width="1.55" height="1.66"/><rect x="99.6" y="417.72" width="1.55" height="1.66"/><rect x="96.6" y="419.33" width="1.55" height="1.66"/><rect x="98.1" y="419.33" width="1.55" height="1.66"/><rect x="99.6" y="419.33" width="1.55" height="1.66"/><rect x="102.6" y="419.33" width="1.55" height="1.66"/><rect x="105.6" y="419.33" width="1.55" height="1.66"/><rect x="108.6" y="419.33" width="1.55" height="1.66"/><rect x="93.6" y="420.94" width="1.55" height="1.66"/><rect x="96.6" y="420.94" width="1.55" height="1.66"/><rect x="101.1" y="420.94" width="1.55" height="1.66"/><rect x="104.1" y="420.94" width="1.55" height="1.66"/><rect x="87.6" y="422.55" width="1.55" height="1.66"/><rect x="98.1" y="422.55" width="1.55" height="1.66"/><rect x="108.6" y="422.55" width="1.55" height="1.66"/><rect x="87.6" y="424.16" width="1.55" height="1.66"/><rect x="102.6" y="425.76" width="1.55" height="1.66"/><rect x="96.6" y="427.37" width="1.55" height="1.66"/><rect x="98.1" y="427.37" width="1.55" height="1.66"/><rect x="99.6" y="427.37" width="1.55" height="1.66"/><rect x="99.6" y="428.98" width="1.55" height="1.66"/><rect x="101.1" y="428.98" width="1.55" height="1.66"/><rect x="93.6" y="430.59" width="1.55" height="1.66"/><rect x="95.1" y="432.2" width="1.55" height="1.66"/><rect x="102.6" y="433.8" width="1.55" height="1.66"/><rect x="104.1" y="433.8" width="1.55" height="1.66"/><rect x="102.6" y="435.41" width="1.55" height="1.66"/><rect x="104.1" y="435.41" width="1.55" height="1.66"/><rect x="99.6" y="437.02" width="1.55" height="1.66"/><rect x="87.6" y="438.63" width="1.55" height="1.66"/><rect x="90.6" y="438.63" width="1.55" height="1.66"/><rect x="95.1" y="438.63" width="1.55" height="1.66"/><rect x="98.1" y="440.24" width="1.55" height="1.66"/><rect x="96.6" y="441.85" width="1.55" height="1.66"/><rect x="89.1" y="443.45" width="1.55" height="1.66"/><rect x="95.1" y="443.45" width="1.55" height="1.66"/><rect x="98.1" y="443.45" width="1.55" height="1.66"/><rect x="102.6" y="443.45" width="1.55" height="1.66"/><rect x="104.1" y="443.45" width="1.55" height="1.66"/><rect x="98.1" y="445.06" width="1.55" height="1.66"/><rect x="111.6" y="445.06" width="1.55" height="1.66"/><rect x="87.6" y="446.67" width="1.55" height="1.66"/><rect x="89.1" y="446.67" width="1.55" height="1.66"/><rect x="92.1" y="446.67" width="1.55" height="1.66"/><rect x="95.1" y="446.67" width="1.55" height="1.66"/><rect x="105.6" y="446.67" width="1.55" height="1.66"/><rect x="111.6" y="446.67" width="1.55" height="1.66"/><rect x="87.6" y="448.28" width="1.55" height="1.66"/><rect x="95.1" y="448.28" width="1.55" height="1.66"/><rect x="90.6" y="449.89" width="1.55" height="1.66"/><rect x="101.1" y="449.89" width="1.55" height="1.66"/><rect x="92.1" y="451.49" width="1.55" height="1.66"/><rect x="95.1" y="451.49" width="1.55" height="1.66"/><rect x="107.1" y="451.49" width="1.55" height="1.66"/><rect x="93.6" y="453.1" width="1.55" height="1.66"/><rect x="102.6" y="453.1" width="1.55" height="1.66"/><rect x="108.6" y="453.1" width="1.55" height="1.66"/><rect x="110.1" y="453.1" width="1.55" height="1.66"/><rect x="86.1" y="454.71" width="1.55" height="1.66"/><rect x="87.6" y="454.71" width="1.55" height="1.66"/><rect x="89.1" y="454.71" width="1.55" height="1.66"/><rect x="104.1" y="454.71" width="1.55" height="1.66"/><rect x="113.1" y="454.71" width="1.55" height="1.66"/><rect x="87.6" y="456.32" width="1.55" height="1.66"/><rect x="95.1" y="456.32" width="1.55" height="1.66"/><rect x="96.6" y="456.32" width="1.55" height="1.66"/><rect x="108.6" y="456.32" width="1.55" height="1.66"/><rect x="92.1" y="457.93" width="1.55" height="1.66"/><rect x="108.6" y="457.93" width="1.55" height="1.66"/><rect x="108.6" y="459.53" width="1.55" height="1.66"/><rect x="111.6" y="461.14" width="1.55" height="1.66"/><rect x="113.1" y="461.14" width="1.55" height="1.66"/><rect x="99.6" y="462.75" width="1.55" height="1.66"/><rect x="108.6" y="462.75" width="1.55" height="1.66"/><rect x="101.1" y="464.36" width="1.55" height="1.66"/><rect x="102.6" y="464.36" width="1.55" height="1.66"/><rect x="89.1" y="467.57" width="1.55" height="1.66"/><rect x="93.6" y="467.57" width="1.55" height="1.66"/><rect x="102.6" y="467.57" width="1.55" height="1.66"/><rect x="111.6" y="467.57" width="1.55" height="1.66"/><rect x="113.1" y="467.57" width="1.55" height="1.66"/><rect x="89.1" y="469.18" width="1.55" height="1.66"/><rect x="96.6" y="469.18" width="1.55" height="1.66"/><rect x="99.6" y="469.18" width="1.55" height="1.66"/><rect x="105.6" y="469.18" width="1.55" height="1.66"/><rect x="107.1" y="469.18" width="1.55" height="1.66"/><rect x="93.6" y="470.79" width="1.55" height="1.66"/><rect x="95.1" y="470.79" width="1.55" height="1.66"/><rect x="99.6" y="470.79" width="1.55" height="1.66"/><rect x="101.1" y="470.79" width="1.55" height="1.66"/><rect x="104.1" y="470.79" width="1.55" height="1.66"/><rect x="87.6" y="472.4" width="1.55" height="1.66"/><rect x="95.1" y="472.4" width="1.55" height="1.66"/><rect x="96.6" y="472.4" width="1.55" height="1.66"/><rect x="104.1" y="472.4" width="1.55" height="1.66"/><rect x="105.6" y="472.4" width="1.55" height="1.66"/><rect x="108.6" y="472.4" width="1.55" height="1.66"/><rect x="99.6" y="475.61" width="1.55" height="1.66"/><rect x="111.6" y="475.61" width="1.55" height="1.66"/><rect x="101.1" y="477.22" width="1.55" height="1.66"/><rect x="102.6" y="477.22" width="1.55" height="1.66"/><rect x="92.1" y="478.83" width="1.55" height="1.66"/><rect x="98.1" y="478.83" width="1.55" height="1.66"/><rect x="99.6" y="478.83" width="1.55" height="1.66"/><rect x="101.1" y="478.83" width="1.55" height="1.66"/><rect x="102.6" y="478.83" width="1.55" height="1.66"/><rect x="104.1" y="478.83" width="1.55" height="1.66"/><rect x="107.1" y="478.83" width="1.55" height="1.66"/><rect x="99.6" y="480.44" width="1.55" height="1.66"/><rect x="110.1" y="480.44" width="1.55" height="1.66"/><rect x="98.1" y="482.05" width="1.55" height="1.66"/><rect x="111.6" y="482.05" width="1.55" height="1.66"/><rect x="113.1" y="482.05" width="1.55" height="1.66"/><rect x="90.6" y="483.65" width="1.55" height="1.66"/><rect x="99.6" y="483.65" width="1.55" height="1.66"/><rect x="102.6" y="483.65" width="1.55" height="1.66"/><rect x="113.1" y="483.65" width="1.55" height="1.66"/><rect x="95.1" y="485.26" width="1.55" height="1.66"/><rect x="99.6" y="485.26" width="1.55" height="1.66"/><rect x="87.6" y="486.87" width="1.55" height="1.66"/><rect x="93.6" y="486.87" width="1.55" height="1.66"/><rect x="95.1" y="486.87" width="1.55" height="1.66"/><rect x="96.6" y="486.87" width="1.55" height="1.66"/><rect x="102.6" y="486.87" width="1.55" height="1.66"/><rect x="105.6" y="486.87" width="1.55" height="1.66"/><rect x="87.6" y="488.48" width="1.55" height="1.66"/><rect x="101.1" y="488.48" width="1.55" height="1.66"/><rect x="110.1" y="488.48" width="1.55" height="1.66"/><rect x="99.6" y="490.09" width="1.55" height="1.66"/><rect x="105.6" y="490.09" width="1.55" height="1.66"/><rect x="92.1" y="491.7" width="1.55" height="1.66"/><rect x="105.6" y="491.7" width="1.55" height="1.66"/><rect x="108.6" y="491.7" width="1.55" height="1.66"/><rect x="89.1" y="493.3" width="1.55" height="1.66"/><rect x="96.6" y="493.3" width="1.55" height="1.66"/><rect x="87.6" y="494.91" width="1.55" height="1.66"/><rect x="95.1" y="494.91" width="1.55" height="1.66"/><rect x="101.1" y="494.91" width="1.55" height="1.66"/><rect x="104.1" y="494.91" width="1.55" height="1.66"/><rect x="87.6" y="496.52" width="1.55" height="1.66"/><rect x="89.1" y="496.52" width="1.55" height="1.66"/><rect x="102.6" y="498.13" width="1.55" height="1.66"/><rect x="86.1" y="499.74" width="1.55" height="1.66"/><rect x="90.6" y="499.74" width="1.55" height="1.66"/><rect x="92.1" y="499.74" width="1.55" height="1.66"/><rect x="104.1" y="499.74" width="1.55" height="1.66"/><rect x="105.6" y="499.74" width="1.55" height="1.66"/><rect x="107.1" y="499.74" width="1.55" height="1.66"/><rect x="92.1" y="501.34" width="1.55" height="1.66"/><rect x="108.6" y="501.34" width="1.55" height="1.66"/><rect x="110.1" y="501.34" width="1.55" height="1.66"/><rect x="92.1" y="502.95" width="1.55" height="1.66"/><rect x="104.1" y="502.95" width="1.55" height="1.66"/><rect x="107.1" y="502.95" width="1.55" height="1.66"/><rect x="110.1" y="502.95" width="1.55" height="1.66"/><rect x="92.1" y="504.56" width="1.55" height="1.66"/><rect x="93.6" y="506.17" width="1.55" height="1.66"/><rect x="101.1" y="506.17" width="1.55" height="1.66"/><rect x="104.1" y="506.17" width="1.55" height="1.66"/><rect x="111.6" y="506.17" width="1.55" height="1.66"/><rect x="101.1" y="507.78" width="1.55" height="1.66"/><rect x="104.1" y="507.78" width="1.55" height="1.66"/><rect x="108.6" y="507.78" width="1.55" height="1.66"/><rect x="89.1" y="509.38" width="1.55" height="1.66"/><rect x="93.6" y="510.99" width="1.55" height="1.66"/><rect x="95.1" y="510.99" width="1.55" height="1.66"/><rect x="104.1" y="510.99" width="1.55" height="1.66"/><rect x="91" y="499.6" width="1.55" height="1.66"/><rect x="92.5" y="499.6" width="1.55" height="1.66"/><rect x="94" y="499.6" width="1.55" height="1.66"/><rect x="95.5" y="499.6" width="1.55" height="1.66"/><rect x="97" y="499.6" width="1.55" height="1.66"/><rect x="98.5" y="499.6" width="1.55" height="1.66"/><rect x="100" y="499.6" width="1.55" height="1.66"/><rect x="101.5" y="499.6" width="1.55" height="1.66"/><rect x="103" y="499.6" width="1.55" height="1.66"/><rect x="104.5" y="499.6" width="1.55" height="1.66"/><rect x="106" y="499.6" width="1.55" height="1.66"/><rect x="107.5" y="499.6" width="1.55" height="1.66"/></g>
<g fill="#b4b4de"><rect x="105.6" y="412.9" width="1.55" height="1.66"/><rect x="104.1" y="416.12" width="1.55" height="1.66"/><rect x="105.6" y="416.12" width="1.55" height="1.66"/><rect x="110.1" y="416.12" width="1.55" height="1.66"/><rect x="98.1" y="417.72" width="1.55" height="1.66"/><rect x="102.6" y="417.72" width="1.55" height="1.66"/><rect x="101.1" y="419.33" width="1.55" height="1.66"/><rect x="90.6" y="422.55" width="1.55" height="1.66"/><rect x="89.1" y="424.16" width="1.55" height="1.66"/><rect x="92.1" y="424.16" width="1.55" height="1.66"/><rect x="98.1" y="424.16" width="1.55" height="1.66"/><rect x="101.1" y="424.16" width="1.55" height="1.66"/><rect x="104.1" y="424.16" width="1.55" height="1.66"/><rect x="107.1" y="424.16" width="1.55" height="1.66"/><rect x="108.6" y="424.16" width="1.55" height="1.66"/><rect x="98.1" y="425.76" width="1.55" height="1.66"/><rect x="99.6" y="425.76" width="1.55" height="1.66"/><rect x="95.1" y="427.37" width="1.55" height="1.66"/><rect x="104.1" y="428.98" width="1.55" height="1.66"/><rect x="107.1" y="428.98" width="1.55" height="1.66"/><rect x="89.1" y="430.59" width="1.55" height="1.66"/><rect x="101.1" y="430.59" width="1.55" height="1.66"/><rect x="105.6" y="430.59" width="1.55" height="1.66"/><rect x="107.1" y="430.59" width="1.55" height="1.66"/><rect x="93.6" y="432.2" width="1.55" height="1.66"/><rect x="110.1" y="432.2" width="1.55" height="1.66"/><rect x="96.6" y="433.8" width="1.55" height="1.66"/><rect x="110.1" y="433.8" width="1.55" height="1.66"/><rect x="99.6" y="435.41" width="1.55" height="1.66"/><rect x="101.1" y="435.41" width="1.55" height="1.66"/><rect x="101.1" y="437.02" width="1.55" height="1.66"/><rect x="98.1" y="438.63" width="1.55" height="1.66"/><rect x="99.6" y="438.63" width="1.55" height="1.66"/><rect x="102.6" y="438.63" width="1.55" height="1.66"/><rect x="99.6" y="440.24" width="1.55" height="1.66"/><rect x="90.6" y="441.85" width="1.55" height="1.66"/><rect x="95.1" y="441.85" width="1.55" height="1.66"/><rect x="98.1" y="441.85" width="1.55" height="1.66"/><rect x="102.6" y="441.85" width="1.55" height="1.66"/><rect x="87.6" y="443.45" width="1.55" height="1.66"/><rect x="90.6" y="445.06" width="1.55" height="1.66"/><rect x="96.6" y="445.06" width="1.55" height="1.66"/><rect x="99.6" y="446.67" width="1.55" height="1.66"/><rect x="107.1" y="446.67" width="1.55" height="1.66"/><rect x="98.1" y="448.28" width="1.55" height="1.66"/><rect x="104.1" y="448.28" width="1.55" height="1.66"/><rect x="105.6" y="448.28" width="1.55" height="1.66"/><rect x="86.1" y="449.89" width="1.55" height="1.66"/><rect x="95.1" y="449.89" width="1.55" height="1.66"/><rect x="96.6" y="449.89" width="1.55" height="1.66"/><rect x="99.6" y="449.89" width="1.55" height="1.66"/><rect x="89.1" y="451.49" width="1.55" height="1.66"/><rect x="99.6" y="451.49" width="1.55" height="1.66"/><rect x="90.6" y="453.1" width="1.55" height="1.66"/><rect x="96.6" y="453.1" width="1.55" height="1.66"/><rect x="99.6" y="453.1" width="1.55" height="1.66"/><rect x="95.1" y="454.71" width="1.55" height="1.66"/><rect x="101.1" y="454.71" width="1.55" height="1.66"/><rect x="110.1" y="454.71" width="1.55" height="1.66"/><rect x="86.1" y="456.32" width="1.55" height="1.66"/><rect x="105.6" y="457.93" width="1.55" height="1.66"/><rect x="89.1" y="459.53" width="1.55" height="1.66"/><rect x="96.6" y="459.53" width="1.55" height="1.66"/><rect x="101.1" y="459.53" width="1.55" height="1.66"/><rect x="104.1" y="459.53" width="1.55" height="1.66"/><rect x="90.6" y="461.14" width="1.55" height="1.66"/><rect x="92.1" y="461.14" width="1.55" height="1.66"/><rect x="95.1" y="462.75" width="1.55" height="1.66"/><rect x="102.6" y="462.75" width="1.55" height="1.66"/><rect x="104.1" y="462.75" width="1.55" height="1.66"/><rect x="105.6" y="464.36" width="1.55" height="1.66"/><rect x="108.6" y="464.36" width="1.55" height="1.66"/><rect x="104.1" y="465.97" width="1.55" height="1.66"/><rect x="96.6" y="467.57" width="1.55" height="1.66"/><rect x="93.6" y="469.18" width="1.55" height="1.66"/><rect x="95.1" y="469.18" width="1.55" height="1.66"/><rect x="98.1" y="469.18" width="1.55" height="1.66"/><rect x="104.1" y="469.18" width="1.55" height="1.66"/><rect x="113.1" y="469.18" width="1.55" height="1.66"/><rect x="92.1" y="470.79" width="1.55" height="1.66"/><rect x="102.6" y="470.79" width="1.55" height="1.66"/><rect x="98.1" y="472.4" width="1.55" height="1.66"/><rect x="99.6" y="472.4" width="1.55" height="1.66"/><rect x="101.1" y="472.4" width="1.55" height="1.66"/><rect x="102.6" y="472.4" width="1.55" height="1.66"/><rect x="90.6" y="474.01" width="1.55" height="1.66"/><rect x="92.1" y="474.01" width="1.55" height="1.66"/><rect x="102.6" y="474.01" width="1.55" height="1.66"/><rect x="95.1" y="475.61" width="1.55" height="1.66"/><rect x="101.1" y="475.61" width="1.55" height="1.66"/><rect x="104.1" y="475.61" width="1.55" height="1.66"/><rect x="108.6" y="478.83" width="1.55" height="1.66"/><rect x="104.1" y="482.05" width="1.55" height="1.66"/><rect x="96.6" y="485.26" width="1.55" height="1.66"/><rect x="102.6" y="485.26" width="1.55" height="1.66"/><rect x="99.6" y="488.48" width="1.55" height="1.66"/><rect x="104.1" y="488.48" width="1.55" height="1.66"/><rect x="92.1" y="490.09" width="1.55" height="1.66"/><rect x="102.6" y="490.09" width="1.55" height="1.66"/><rect x="111.6" y="490.09" width="1.55" height="1.66"/><rect x="93.6" y="491.7" width="1.55" height="1.66"/><rect x="104.1" y="491.7" width="1.55" height="1.66"/><rect x="107.1" y="491.7" width="1.55" height="1.66"/><rect x="110.1" y="491.7" width="1.55" height="1.66"/><rect x="93.6" y="493.3" width="1.55" height="1.66"/><rect x="98.1" y="493.3" width="1.55" height="1.66"/><rect x="99.6" y="496.52" width="1.55" height="1.66"/><rect x="98.1" y="498.13" width="1.55" height="1.66"/><rect x="101.1" y="498.13" width="1.55" height="1.66"/><rect x="105.6" y="498.13" width="1.55" height="1.66"/><rect x="96.6" y="499.74" width="1.55" height="1.66"/><rect x="99.6" y="499.74" width="1.55" height="1.66"/><rect x="101.1" y="501.34" width="1.55" height="1.66"/><rect x="104.1" y="501.34" width="1.55" height="1.66"/><rect x="105.6" y="501.34" width="1.55" height="1.66"/><rect x="96.6" y="502.95" width="1.55" height="1.66"/><rect x="98.1" y="502.95" width="1.55" height="1.66"/><rect x="95.1" y="504.56" width="1.55" height="1.66"/><rect x="102.6" y="504.56" width="1.55" height="1.66"/><rect x="110.1" y="504.56" width="1.55" height="1.66"/><rect x="89.1" y="506.17" width="1.55" height="1.66"/><rect x="99.6" y="506.17" width="1.55" height="1.66"/><rect x="105.6" y="506.17" width="1.55" height="1.66"/><rect x="110.1" y="507.78" width="1.55" height="1.66"/><rect x="102.6" y="509.38" width="1.55" height="1.66"/><rect x="96.6" y="510.99" width="1.55" height="1.66"/><rect x="99.6" y="510.99" width="1.55" height="1.66"/><rect x="111" y="418.6" width="1.55" height="1.66"/><rect x="112.5" y="418.6" width="1.55" height="1.66"/></g>
<g fill="#7070ba"><rect x="98.1" y="412.9" width="1.55" height="1.66"/><rect x="101.1" y="412.9" width="1.55" height="1.66"/><rect x="99.6" y="416.12" width="1.55" height="1.66"/><rect x="101.1" y="416.12" width="1.55" height="1.66"/><rect x="99.6" y="420.94" width="1.55" height="1.66"/><rect x="99.6" y="424.16" width="1.55" height="1.66"/><rect x="102.6" y="424.16" width="1.55" height="1.66"/><rect x="101.1" y="425.76" width="1.55" height="1.66"/><rect x="105.6" y="425.76" width="1.55" height="1.66"/><rect x="102.6" y="427.37" width="1.55" height="1.66"/><rect x="95.1" y="430.59" width="1.55" height="1.66"/><rect x="96.6" y="432.2" width="1.55" height="1.66"/><rect x="101.1" y="432.2" width="1.55" height="1.66"/><rect x="102.6" y="440.24" width="1.55" height="1.66"/><rect x="101.1" y="443.45" width="1.55" height="1.66"/><rect x="98.1" y="446.67" width="1.55" height="1.66"/><rect x="96.6" y="448.28" width="1.55" height="1.66"/><rect x="98.1" y="449.89" width="1.55" height="1.66"/><rect x="96.6" y="451.49" width="1.55" height="1.66"/><rect x="98.1" y="451.49" width="1.55" height="1.66"/><rect x="98.1" y="453.1" width="1.55" height="1.66"/><rect x="99.6" y="456.32" width="1.55" height="1.66"/><rect x="89.1" y="457.93" width="1.55" height="1.66"/><rect x="102.6" y="459.53" width="1.55" height="1.66"/><rect x="105.6" y="461.14" width="1.55" height="1.66"/><rect x="93.6" y="462.75" width="1.55" height="1.66"/><rect x="101.1" y="462.75" width="1.55" height="1.66"/><rect x="105.6" y="462.75" width="1.55" height="1.66"/><rect x="102.6" y="465.97" width="1.55" height="1.66"/><rect x="102.6" y="469.18" width="1.55" height="1.66"/><rect x="98.1" y="470.79" width="1.55" height="1.66"/><rect x="99.6" y="474.01" width="1.55" height="1.66"/><rect x="101.1" y="474.01" width="1.55" height="1.66"/><rect x="102.6" y="480.44" width="1.55" height="1.66"/><rect x="104.1" y="480.44" width="1.55" height="1.66"/><rect x="101.1" y="482.05" width="1.55" height="1.66"/><rect x="101.1" y="485.26" width="1.55" height="1.66"/><rect x="99.6" y="486.87" width="1.55" height="1.66"/><rect x="101.1" y="486.87" width="1.55" height="1.66"/><rect x="96.6" y="488.48" width="1.55" height="1.66"/><rect x="102.6" y="488.48" width="1.55" height="1.66"/><rect x="99.6" y="491.7" width="1.55" height="1.66"/><rect x="101.1" y="491.7" width="1.55" height="1.66"/><rect x="99.6" y="493.3" width="1.55" height="1.66"/><rect x="101.1" y="493.3" width="1.55" height="1.66"/><rect x="96.6" y="496.52" width="1.55" height="1.66"/><rect x="98.1" y="501.34" width="1.55" height="1.66"/><rect x="102.6" y="502.95" width="1.55" height="1.66"/><rect x="99.6" y="504.56" width="1.55" height="1.66"/><rect x="98.1" y="506.17" width="1.55" height="1.66"/><rect x="99.6" y="507.78" width="1.55" height="1.66"/><rect x="90.6" y="509.38" width="1.55" height="1.66"/><rect x="98.1" y="510.99" width="1.55" height="1.66"/><rect x="86.1" y="452.4" width="1.55" height="1.66"/><rect x="87.6" y="452.4" width="1.55" height="1.66"/><rect x="89.1" y="452.4" width="1.55" height="1.66"/></g>
<g fill="#34349a"><rect x="101.1" y="414.51" width="1.55" height="1.66"/><rect x="102.6" y="416.12" width="1.55" height="1.66"/><rect x="101.1" y="417.72" width="1.55" height="1.66"/><rect x="105.6" y="417.72" width="1.55" height="1.66"/><rect x="99.6" y="422.55" width="1.55" height="1.66"/><rect x="101.1" y="422.55" width="1.55" height="1.66"/><rect x="101.1" y="427.37" width="1.55" height="1.66"/><rect x="98.1" y="428.98" width="1.55" height="1.66"/><rect x="99.6" y="430.59" width="1.55" height="1.66"/><rect x="101.1" y="438.63" width="1.55" height="1.66"/><rect x="101.1" y="440.24" width="1.55" height="1.66"/><rect x="99.6" y="441.85" width="1.55" height="1.66"/><rect x="99.6" y="443.45" width="1.55" height="1.66"/><rect x="96.6" y="446.67" width="1.55" height="1.66"/><rect x="98.1" y="454.71" width="1.55" height="1.66"/><rect x="99.6" y="459.53" width="1.55" height="1.66"/><rect x="98.1" y="461.14" width="1.55" height="1.66"/><rect x="99.6" y="461.14" width="1.55" height="1.66"/><rect x="101.1" y="461.14" width="1.55" height="1.66"/><rect x="99.6" y="464.36" width="1.55" height="1.66"/><rect x="101.1" y="467.57" width="1.55" height="1.66"/><rect x="101.1" y="469.18" width="1.55" height="1.66"/><rect x="98.1" y="474.01" width="1.55" height="1.66"/><rect x="101.1" y="483.65" width="1.55" height="1.66"/><rect x="98.1" y="490.09" width="1.55" height="1.66"/><rect x="98.1" y="491.7" width="1.55" height="1.66"/><rect x="96.6" y="494.91" width="1.55" height="1.66"/><rect x="98.1" y="494.91" width="1.55" height="1.66"/><rect x="99.6" y="494.91" width="1.55" height="1.66"/><rect x="98.1" y="496.52" width="1.55" height="1.66"/><rect x="99.6" y="498.13" width="1.55" height="1.66"/><rect x="98.1" y="504.56" width="1.55" height="1.66"/><rect x="101.1" y="504.56" width="1.55" height="1.66"/><rect x="98.1" y="507.78" width="1.55" height="1.66"/><rect x="99.6" y="509.38" width="1.55" height="1.66"/><rect x="101.1" y="509.38" width="1.55" height="1.66"/><rect x="86.1" y="426.6" width="1.55" height="1.66"/><rect x="87.6" y="426.6" width="1.55" height="1.66"/><rect x="89.1" y="426.6" width="1.55" height="1.66"/><rect x="86.1" y="499.6" width="1.55" height="1.66"/><rect x="87.6" y="499.6" width="1.55" height="1.66"/><rect x="89.1" y="499.6" width="1.55" height="1.66"/><rect x="109" y="499.6" width="1.55" height="1.66"/><rect x="110.5" y="499.6" width="1.55" height="1.66"/><rect x="112" y="499.6" width="1.55" height="1.66"/><rect x="113.5" y="499.6" width="1.55" height="1.66"/><rect x="86.1" y="511" width="1.55" height="1.66"/><rect x="87.6" y="511" width="1.55" height="1.66"/><rect x="89.1" y="511" width="1.55" height="1.66"/><rect x="90.6" y="511" width="1.55" height="1.66"/><rect x="92.1" y="511" width="1.55" height="1.66"/><rect x="93.6" y="511" width="1.55" height="1.66"/><rect x="95.1" y="511" width="1.55" height="1.66"/><rect x="96.6" y="511" width="1.55" height="1.66"/><rect x="98.1" y="511" width="1.55" height="1.66"/><rect x="99.6" y="511" width="1.55" height="1.66"/><rect x="101.1" y="511" width="1.55" height="1.66"/><rect x="102.6" y="511" width="1.55" height="1.66"/><rect x="104.1" y="511" width="1.55" height="1.66"/><rect x="105.6" y="511" width="1.55" height="1.66"/><rect x="107.1" y="511" width="1.55" height="1.66"/><rect x="108.6" y="511" width="1.55" height="1.66"/><rect x="110.1" y="511" width="1.55" height="1.66"/><rect x="111.6" y="511" width="1.55" height="1.66"/><rect x="113.1" y="511" width="1.55" height="1.66"/></g>
<rect x="117.6" y="412.9" width="28.9" height="99.7" fill="#fefbfc" />
<g fill="#f8dde9"><rect x="144.69" y="412.9" width="1.86" height="1.97"/><rect x="123.02" y="414.82" width="1.86" height="1.97"/><rect x="132.05" y="414.82" width="1.86" height="1.97"/><rect x="133.86" y="414.82" width="1.86" height="1.97"/><rect x="123.02" y="416.73" width="1.86" height="1.97"/><rect x="124.82" y="416.73" width="1.86" height="1.97"/><rect x="126.63" y="416.73" width="1.86" height="1.97"/><rect x="130.24" y="416.73" width="1.86" height="1.97"/><rect x="124.82" y="418.65" width="1.86" height="1.97"/><rect x="126.63" y="418.65" width="1.86" height="1.97"/><rect x="117.6" y="420.57" width="1.86" height="1.97"/><rect x="124.82" y="420.57" width="1.86" height="1.97"/><rect x="130.24" y="420.57" width="1.86" height="1.97"/><rect x="117.6" y="422.49" width="1.86" height="1.97"/><rect x="130.24" y="422.49" width="1.86" height="1.97"/><rect x="135.66" y="422.49" width="1.86" height="1.97"/><rect x="123.02" y="424.4" width="1.86" height="1.97"/><rect x="128.44" y="424.4" width="1.86" height="1.97"/><rect x="132.05" y="424.4" width="1.86" height="1.97"/><rect x="133.86" y="424.4" width="1.86" height="1.97"/><rect x="135.66" y="424.4" width="1.86" height="1.97"/><rect x="121.21" y="426.32" width="1.86" height="1.97"/><rect x="123.02" y="426.32" width="1.86" height="1.97"/><rect x="132.05" y="426.32" width="1.86" height="1.97"/><rect x="137.47" y="426.32" width="1.86" height="1.97"/><rect x="142.89" y="426.32" width="1.86" height="1.97"/><rect x="135.66" y="428.24" width="1.86" height="1.97"/><rect x="126.63" y="430.16" width="1.86" height="1.97"/><rect x="124.82" y="432.07" width="1.86" height="1.97"/><rect x="126.63" y="432.07" width="1.86" height="1.97"/><rect x="132.05" y="432.07" width="1.86" height="1.97"/><rect x="133.86" y="432.07" width="1.86" height="1.97"/><rect x="142.89" y="432.07" width="1.86" height="1.97"/><rect x="119.41" y="433.99" width="1.86" height="1.97"/><rect x="124.82" y="433.99" width="1.86" height="1.97"/><rect x="132.05" y="433.99" width="1.86" height="1.97"/><rect x="117.6" y="435.91" width="1.86" height="1.97"/><rect x="128.44" y="435.91" width="1.86" height="1.97"/><rect x="133.86" y="435.91" width="1.86" height="1.97"/><rect x="144.69" y="435.91" width="1.86" height="1.97"/><rect x="126.63" y="437.82" width="1.86" height="1.97"/><rect x="124.82" y="439.74" width="1.86" height="1.97"/><rect x="128.44" y="439.74" width="1.86" height="1.97"/><rect x="130.24" y="439.74" width="1.86" height="1.97"/><rect x="132.05" y="439.74" width="1.86" height="1.97"/><rect x="133.86" y="439.74" width="1.86" height="1.97"/><rect x="139.28" y="439.74" width="1.86" height="1.97"/><rect x="117.6" y="441.66" width="1.86" height="1.97"/><rect x="121.21" y="441.66" width="1.86" height="1.97"/><rect x="133.86" y="441.66" width="1.86" height="1.97"/><rect x="123.02" y="443.58" width="1.86" height="1.97"/><rect x="132.05" y="443.58" width="1.86" height="1.97"/><rect x="141.08" y="443.58" width="1.86" height="1.97"/><rect x="142.89" y="443.58" width="1.86" height="1.97"/><rect x="144.69" y="443.58" width="1.86" height="1.97"/><rect x="119.41" y="445.49" width="1.86" height="1.97"/><rect x="123.02" y="445.49" width="1.86" height="1.97"/><rect x="124.82" y="445.49" width="1.86" height="1.97"/><rect x="137.47" y="445.49" width="1.86" height="1.97"/><rect x="141.08" y="445.49" width="1.86" height="1.97"/><rect x="144.69" y="445.49" width="1.86" height="1.97"/><rect x="117.6" y="447.41" width="1.86" height="1.97"/><rect x="123.02" y="447.41" width="1.86" height="1.97"/><rect x="124.82" y="447.41" width="1.86" height="1.97"/><rect x="142.89" y="447.41" width="1.86" height="1.97"/><rect x="123.02" y="449.33" width="1.86" height="1.97"/><rect x="128.44" y="449.33" width="1.86" height="1.97"/><rect x="123.02" y="451.25" width="1.86" height="1.97"/><rect x="126.63" y="451.25" width="1.86" height="1.97"/><rect x="132.05" y="451.25" width="1.86" height="1.97"/><rect x="139.28" y="451.25" width="1.86" height="1.97"/><rect x="141.08" y="451.25" width="1.86" height="1.97"/><rect x="142.89" y="451.25" width="1.86" height="1.97"/><rect x="123.02" y="453.16" width="1.86" height="1.97"/><rect x="124.82" y="453.16" width="1.86" height="1.97"/><rect x="130.24" y="453.16" width="1.86" height="1.97"/><rect x="133.86" y="453.16" width="1.86" height="1.97"/><rect x="141.08" y="453.16" width="1.86" height="1.97"/><rect x="142.89" y="453.16" width="1.86" height="1.97"/><rect x="121.21" y="455.08" width="1.86" height="1.97"/><rect x="126.63" y="455.08" width="1.86" height="1.97"/><rect x="128.44" y="455.08" width="1.86" height="1.97"/><rect x="119.41" y="457" width="1.86" height="1.97"/><rect x="124.82" y="457" width="1.86" height="1.97"/><rect x="128.44" y="457" width="1.86" height="1.97"/><rect x="135.66" y="457" width="1.86" height="1.97"/><rect x="132.05" y="458.92" width="1.86" height="1.97"/><rect x="141.08" y="458.92" width="1.86" height="1.97"/><rect x="121.21" y="460.83" width="1.86" height="1.97"/><rect x="135.66" y="462.75" width="1.86" height="1.97"/><rect x="141.08" y="462.75" width="1.86" height="1.97"/><rect x="139.28" y="464.67" width="1.86" height="1.97"/><rect x="133.86" y="466.58" width="1.86" height="1.97"/><rect x="142.89" y="466.58" width="1.86" height="1.97"/><rect x="121.21" y="468.5" width="1.86" height="1.97"/><rect x="124.82" y="468.5" width="1.86" height="1.97"/><rect x="137.47" y="468.5" width="1.86" height="1.97"/><rect x="124.82" y="470.42" width="1.86" height="1.97"/><rect x="128.44" y="470.42" width="1.86" height="1.97"/><rect x="142.89" y="470.42" width="1.86" height="1.97"/><rect x="144.69" y="470.42" width="1.86" height="1.97"/><rect x="123.02" y="472.34" width="1.86" height="1.97"/><rect x="128.44" y="472.34" width="1.86" height="1.97"/><rect x="135.66" y="472.34" width="1.86" height="1.97"/><rect x="141.08" y="472.34" width="1.86" height="1.97"/><rect x="132.05" y="474.25" width="1.86" height="1.97"/><rect x="117.6" y="476.17" width="1.86" height="1.97"/><rect x="128.44" y="476.17" width="1.86" height="1.97"/><rect x="124.82" y="478.09" width="1.86" height="1.97"/><rect x="128.44" y="478.09" width="1.86" height="1.97"/><rect x="142.89" y="478.09" width="1.86" height="1.97"/><rect x="128.44" y="480.01" width="1.86" height="1.97"/><rect x="132.05" y="481.92" width="1.86" height="1.97"/><rect x="123.02" y="483.84" width="1.86" height="1.97"/><rect x="128.44" y="483.84" width="1.86" height="1.97"/><rect x="132.05" y="483.84" width="1.86" height="1.97"/><rect x="139.28" y="483.84" width="1.86" height="1.97"/><rect x="141.08" y="483.84" width="1.86" height="1.97"/><rect x="117.6" y="485.76" width="1.86" height="1.97"/><rect x="121.21" y="485.76" width="1.86" height="1.97"/><rect x="132.05" y="485.76" width="1.86" height="1.97"/><rect x="135.66" y="485.76" width="1.86" height="1.97"/><rect x="119.41" y="487.68" width="1.86" height="1.97"/><rect x="121.21" y="487.68" width="1.86" height="1.97"/><rect x="130.24" y="487.68" width="1.86" height="1.97"/><rect x="133.86" y="487.68" width="1.86" height="1.97"/><rect x="135.66" y="487.68" width="1.86" height="1.97"/><rect x="141.08" y="487.68" width="1.86" height="1.97"/><rect x="142.89" y="487.68" width="1.86" height="1.97"/><rect x="121.21" y="489.59" width="1.86" height="1.97"/><rect x="123.02" y="489.59" width="1.86" height="1.97"/><rect x="133.86" y="489.59" width="1.86" height="1.97"/><rect x="137.47" y="489.59" width="1.86" height="1.97"/><rect x="139.28" y="489.59" width="1.86" height="1.97"/><rect x="117.6" y="491.51" width="1.86" height="1.97"/><rect x="119.41" y="491.51" width="1.86" height="1.97"/><rect x="121.21" y="491.51" width="1.86" height="1.97"/><rect x="117.6" y="493.43" width="1.86" height="1.97"/><rect x="123.02" y="493.43" width="1.86" height="1.97"/><rect x="128.44" y="493.43" width="1.86" height="1.97"/><rect x="133.86" y="493.43" width="1.86" height="1.97"/><rect x="144.69" y="493.43" width="1.86" height="1.97"/><rect x="130.24" y="495.34" width="1.86" height="1.97"/><rect x="142.89" y="495.34" width="1.86" height="1.97"/><rect x="121.21" y="497.26" width="1.86" height="1.97"/><rect x="135.66" y="497.26" width="1.86" height="1.97"/><rect x="141.08" y="499.18" width="1.86" height="1.97"/><rect x="128.44" y="501.1" width="1.86" height="1.97"/><rect x="133.86" y="501.1" width="1.86" height="1.97"/><rect x="139.28" y="501.1" width="1.86" height="1.97"/><rect x="119.41" y="503.01" width="1.86" height="1.97"/><rect x="123.02" y="503.01" width="1.86" height="1.97"/><rect x="139.28" y="503.01" width="1.86" height="1.97"/><rect x="119.41" y="504.93" width="1.86" height="1.97"/><rect x="126.63" y="504.93" width="1.86" height="1.97"/><rect x="142.89" y="504.93" width="1.86" height="1.97"/><rect x="117.6" y="506.85" width="1.86" height="1.97"/><rect x="124.82" y="506.85" width="1.86" height="1.97"/><rect x="130.24" y="506.85" width="1.86" height="1.97"/><rect x="132.05" y="506.85" width="1.86" height="1.97"/><rect x="142.89" y="506.85" width="1.86" height="1.97"/><rect x="124.82" y="508.77" width="1.86" height="1.97"/><rect x="137.47" y="508.77" width="1.86" height="1.97"/><rect x="119.41" y="510.68" width="1.86" height="1.97"/><rect x="121.21" y="510.68" width="1.86" height="1.97"/><rect x="133.86" y="510.68" width="1.86" height="1.97"/><rect x="137.47" y="510.68" width="1.86" height="1.97"/></g>
<g fill="#f0b0d0"><rect x="123.02" y="412.9" width="1.86" height="1.97"/><rect x="132.05" y="412.9" width="1.86" height="1.97"/><rect x="141.08" y="412.9" width="1.86" height="1.97"/><rect x="130.24" y="414.82" width="1.86" height="1.97"/><rect x="121.21" y="416.73" width="1.86" height="1.97"/><rect x="128.44" y="416.73" width="1.86" height="1.97"/><rect x="137.47" y="416.73" width="1.86" height="1.97"/><rect x="117.6" y="418.65" width="1.86" height="1.97"/><rect x="133.86" y="418.65" width="1.86" height="1.97"/><rect x="126.63" y="420.57" width="1.86" height="1.97"/><rect x="133.86" y="420.57" width="1.86" height="1.97"/><rect x="141.08" y="420.57" width="1.86" height="1.97"/><rect x="121.21" y="424.4" width="1.86" height="1.97"/><rect x="130.24" y="424.4" width="1.86" height="1.97"/><rect x="137.47" y="424.4" width="1.86" height="1.97"/><rect x="141.08" y="424.4" width="1.86" height="1.97"/><rect x="144.69" y="424.4" width="1.86" height="1.97"/><rect x="135.66" y="426.32" width="1.86" height="1.97"/><rect x="117.6" y="428.24" width="1.86" height="1.97"/><rect x="123.02" y="428.24" width="1.86" height="1.97"/><rect x="128.44" y="428.24" width="1.86" height="1.97"/><rect x="130.24" y="428.24" width="1.86" height="1.97"/><rect x="137.47" y="428.24" width="1.86" height="1.97"/><rect x="121.21" y="430.16" width="1.86" height="1.97"/><rect x="135.66" y="430.16" width="1.86" height="1.97"/><rect x="123.02" y="432.07" width="1.86" height="1.97"/><rect x="128.44" y="432.07" width="1.86" height="1.97"/><rect x="135.66" y="432.07" width="1.86" height="1.97"/><rect x="137.47" y="435.91" width="1.86" height="1.97"/><rect x="121.21" y="439.74" width="1.86" height="1.97"/><rect x="135.66" y="439.74" width="1.86" height="1.97"/><rect x="126.63" y="441.66" width="1.86" height="1.97"/><rect x="130.24" y="443.58" width="1.86" height="1.97"/><rect x="128.44" y="445.49" width="1.86" height="1.97"/><rect x="130.24" y="445.49" width="1.86" height="1.97"/><rect x="135.66" y="447.41" width="1.86" height="1.97"/><rect x="139.28" y="447.41" width="1.86" height="1.97"/><rect x="124.82" y="449.33" width="1.86" height="1.97"/><rect x="117.6" y="451.25" width="1.86" height="1.97"/><rect x="121.21" y="453.16" width="1.86" height="1.97"/><rect x="128.44" y="453.16" width="1.86" height="1.97"/><rect x="132.05" y="453.16" width="1.86" height="1.97"/><rect x="123.02" y="455.08" width="1.86" height="1.97"/><rect x="132.05" y="455.08" width="1.86" height="1.97"/><rect x="123.02" y="457" width="1.86" height="1.97"/><rect x="126.63" y="457" width="1.86" height="1.97"/><rect x="139.28" y="457" width="1.86" height="1.97"/><rect x="137.47" y="458.92" width="1.86" height="1.97"/><rect x="132.05" y="460.83" width="1.86" height="1.97"/><rect x="121.21" y="462.75" width="1.86" height="1.97"/><rect x="123.02" y="462.75" width="1.86" height="1.97"/><rect x="124.82" y="462.75" width="1.86" height="1.97"/><rect x="126.63" y="462.75" width="1.86" height="1.97"/><rect x="133.86" y="464.67" width="1.86" height="1.97"/><rect x="121.21" y="466.58" width="1.86" height="1.97"/><rect x="124.82" y="466.58" width="1.86" height="1.97"/><rect x="128.44" y="466.58" width="1.86" height="1.97"/><rect x="130.24" y="466.58" width="1.86" height="1.97"/><rect x="139.28" y="466.58" width="1.86" height="1.97"/><rect x="123.02" y="468.5" width="1.86" height="1.97"/><rect x="144.69" y="468.5" width="1.86" height="1.97"/><rect x="133.86" y="470.42" width="1.86" height="1.97"/><rect x="137.47" y="470.42" width="1.86" height="1.97"/><rect x="139.28" y="470.42" width="1.86" height="1.97"/><rect x="141.08" y="470.42" width="1.86" height="1.97"/><rect x="132.05" y="472.34" width="1.86" height="1.97"/><rect x="133.86" y="472.34" width="1.86" height="1.97"/><rect x="137.47" y="472.34" width="1.86" height="1.97"/><rect x="126.63" y="474.25" width="1.86" height="1.97"/><rect x="135.66" y="474.25" width="1.86" height="1.97"/><rect x="137.47" y="474.25" width="1.86" height="1.97"/><rect x="121.21" y="476.17" width="1.86" height="1.97"/><rect x="126.63" y="476.17" width="1.86" height="1.97"/><rect x="126.63" y="480.01" width="1.86" height="1.97"/><rect x="137.47" y="480.01" width="1.86" height="1.97"/><rect x="130.24" y="481.92" width="1.86" height="1.97"/><rect x="133.86" y="481.92" width="1.86" height="1.97"/><rect x="139.28" y="481.92" width="1.86" height="1.97"/><rect x="123.02" y="485.76" width="1.86" height="1.97"/><rect x="128.44" y="485.76" width="1.86" height="1.97"/><rect x="137.47" y="485.76" width="1.86" height="1.97"/><rect x="132.05" y="487.68" width="1.86" height="1.97"/><rect x="137.47" y="487.68" width="1.86" height="1.97"/><rect x="126.63" y="489.59" width="1.86" height="1.97"/><rect x="133.86" y="491.51" width="1.86" height="1.97"/><rect x="124.82" y="493.43" width="1.86" height="1.97"/><rect x="124.82" y="495.34" width="1.86" height="1.97"/><rect x="133.86" y="495.34" width="1.86" height="1.97"/><rect x="128.44" y="497.26" width="1.86" height="1.97"/><rect x="119.41" y="499.18" width="1.86" height="1.97"/><rect x="132.05" y="499.18" width="1.86" height="1.97"/><rect x="119.41" y="501.1" width="1.86" height="1.97"/><rect x="126.63" y="501.1" width="1.86" height="1.97"/><rect x="142.89" y="501.1" width="1.86" height="1.97"/><rect x="121.21" y="503.01" width="1.86" height="1.97"/><rect x="135.66" y="504.93" width="1.86" height="1.97"/><rect x="123.02" y="508.77" width="1.86" height="1.97"/><rect x="132.05" y="508.77" width="1.86" height="1.97"/><rect x="133.86" y="508.77" width="1.86" height="1.97"/><rect x="124.82" y="510.68" width="1.86" height="1.97"/><rect x="130.24" y="510.68" width="1.86" height="1.97"/><rect x="132.05" y="510.68" width="1.86" height="1.97"/><rect x="135.66" y="510.68" width="1.86" height="1.97"/><rect x="141.08" y="510.68" width="1.86" height="1.97"/></g>
<g fill="#e274ae"><rect x="135.66" y="414.82" width="1.86" height="1.97"/><rect x="126.63" y="426.32" width="1.86" height="1.97"/><rect x="128.44" y="430.16" width="1.86" height="1.97"/><rect x="132.05" y="430.16" width="1.86" height="1.97"/><rect x="133.86" y="430.16" width="1.86" height="1.97"/><rect x="130.24" y="432.07" width="1.86" height="1.97"/><rect x="135.66" y="433.99" width="1.86" height="1.97"/><rect x="130.24" y="435.91" width="1.86" height="1.97"/><rect x="124.82" y="441.66" width="1.86" height="1.97"/><rect x="128.44" y="441.66" width="1.86" height="1.97"/><rect x="132.05" y="441.66" width="1.86" height="1.97"/><rect x="142.89" y="441.66" width="1.86" height="1.97"/><rect x="133.86" y="445.49" width="1.86" height="1.97"/><rect x="128.44" y="447.41" width="1.86" height="1.97"/><rect x="130.24" y="451.25" width="1.86" height="1.97"/><rect x="130.24" y="455.08" width="1.86" height="1.97"/><rect x="135.66" y="455.08" width="1.86" height="1.97"/><rect x="141.08" y="455.08" width="1.86" height="1.97"/><rect x="133.86" y="457" width="1.86" height="1.97"/><rect x="128.44" y="460.83" width="1.86" height="1.97"/><rect x="132.05" y="464.67" width="1.86" height="1.97"/><rect x="137.47" y="466.58" width="1.86" height="1.97"/><rect x="130.24" y="468.5" width="1.86" height="1.97"/><rect x="132.05" y="468.5" width="1.86" height="1.97"/><rect x="132.05" y="470.42" width="1.86" height="1.97"/><rect x="130.24" y="472.34" width="1.86" height="1.97"/><rect x="137.47" y="476.17" width="1.86" height="1.97"/><rect x="139.28" y="478.09" width="1.86" height="1.97"/><rect x="135.66" y="480.01" width="1.86" height="1.97"/><rect x="126.63" y="483.84" width="1.86" height="1.97"/><rect x="135.66" y="483.84" width="1.86" height="1.97"/><rect x="137.47" y="483.84" width="1.86" height="1.97"/><rect x="130.24" y="485.76" width="1.86" height="1.97"/><rect x="130.24" y="489.59" width="1.86" height="1.97"/><rect x="135.66" y="489.59" width="1.86" height="1.97"/><rect x="132.05" y="495.34" width="1.86" height="1.97"/><rect x="135.66" y="495.34" width="1.86" height="1.97"/><rect x="132.05" y="497.26" width="1.86" height="1.97"/><rect x="128.44" y="499.18" width="1.86" height="1.97"/><rect x="130.24" y="499.18" width="1.86" height="1.97"/><rect x="133.86" y="499.18" width="1.86" height="1.97"/><rect x="130.24" y="503.01" width="1.86" height="1.97"/><rect x="132.05" y="503.01" width="1.86" height="1.97"/><rect x="128.44" y="504.93" width="1.86" height="1.97"/><rect x="132.05" y="504.93" width="1.86" height="1.97"/><rect x="133.86" y="504.93" width="1.86" height="1.97"/></g>
<g fill="#cc2a86"><rect x="130.24" y="412.9" width="1.86" height="1.97"/><rect x="135.66" y="412.9" width="1.86" height="1.97"/><rect x="132.05" y="416.73" width="1.86" height="1.97"/><rect x="133.86" y="422.49" width="1.86" height="1.97"/><rect x="128.44" y="426.32" width="1.86" height="1.97"/><rect x="130.24" y="426.32" width="1.86" height="1.97"/><rect x="133.86" y="426.32" width="1.86" height="1.97"/><rect x="132.05" y="428.24" width="1.86" height="1.97"/><rect x="130.24" y="430.16" width="1.86" height="1.97"/><rect x="130.24" y="433.99" width="1.86" height="1.97"/><rect x="126.63" y="435.91" width="1.86" height="1.97"/><rect x="130.24" y="437.82" width="1.86" height="1.97"/><rect x="130.24" y="441.66" width="1.86" height="1.97"/><rect x="126.63" y="443.58" width="1.86" height="1.97"/><rect x="128.44" y="443.58" width="1.86" height="1.97"/><rect x="132.05" y="445.49" width="1.86" height="1.97"/><rect x="130.24" y="447.41" width="1.86" height="1.97"/><rect x="130.24" y="457" width="1.86" height="1.97"/><rect x="132.05" y="457" width="1.86" height="1.97"/><rect x="130.24" y="462.75" width="1.86" height="1.97"/><rect x="132.05" y="462.75" width="1.86" height="1.97"/><rect x="132.05" y="466.58" width="1.86" height="1.97"/><rect x="133.86" y="468.5" width="1.86" height="1.97"/><rect x="135.66" y="468.5" width="1.86" height="1.97"/><rect x="130.24" y="470.42" width="1.86" height="1.97"/><rect x="130.24" y="478.09" width="1.86" height="1.97"/><rect x="133.86" y="480.01" width="1.86" height="1.97"/><rect x="133.86" y="483.84" width="1.86" height="1.97"/><rect x="126.63" y="487.68" width="1.86" height="1.97"/><rect x="130.24" y="491.51" width="1.86" height="1.97"/><rect x="130.24" y="493.43" width="1.86" height="1.97"/><rect x="132.05" y="493.43" width="1.86" height="1.97"/><rect x="130.24" y="497.26" width="1.86" height="1.97"/><rect x="126.63" y="499.18" width="1.86" height="1.97"/><rect x="130.24" y="508.77" width="1.86" height="1.97"/><rect x="126.63" y="510.68" width="1.86" height="1.97"/><rect x="128.44" y="510.68" width="1.86" height="1.97"/></g>
<rect x="55" y="412.5" width="29.5" height="100.5" fill="none" stroke="#111" stroke-width="1.15"/>
<rect x="85.9" y="412.5" width="29.1" height="100.5" fill="none" stroke="#111" stroke-width="1.15"/>
<rect x="117.2" y="412.5" width="29.7" height="100.5" fill="none" stroke="#111" stroke-width="1.15"/>
<defs><linearGradient id="cbar" x1="0" x2="1"><stop offset="0" stop-color="#d23f4e"/><stop offset="0.17" stop-color="#d44855"/><stop offset="0.2" stop-color="#d46a78"/><stop offset="0.34" stop-color="#d6788a"/><stop offset="0.37" stop-color="#e4b6dc"/><stop offset="0.47" stop-color="#e2c4ea"/><stop offset="0.5" stop-color="#cacaf0"/><stop offset="0.7" stop-color="#c0c0ec"/><stop offset="0.74" stop-color="#8282c8"/><stop offset="0.79" stop-color="#7070c0"/><stop offset="0.82" stop-color="#4646a2"/><stop offset="1" stop-color="#36369a"/></linearGradient></defs>
<line x1="227.76" y1="416.4" x2="227.76" y2="475.6" stroke="#efefef" stroke-width="0.6" />
<line x1="252.92" y1="416.4" x2="252.92" y2="475.6" stroke="#efefef" stroke-width="0.6" />
<line x1="278.08" y1="416.4" x2="278.08" y2="475.6" stroke="#efefef" stroke-width="0.6" />
<line x1="303.24" y1="416.4" x2="303.24" y2="475.6" stroke="#efefef" stroke-width="0.6" />
<line x1="202.6" y1="432.3" x2="328.4" y2="432.3" stroke="#f0f0f0" stroke-width="0.6" />
<line x1="202.6" y1="441.1" x2="328.4" y2="441.1" stroke="#f0f0f0" stroke-width="0.6" />
<line x1="202.6" y1="449.6" x2="328.4" y2="449.6" stroke="#f0f0f0" stroke-width="0.6" />
<line x1="202.6" y1="458.3" x2="328.4" y2="458.3" stroke="#f0f0f0" stroke-width="0.6" />
<line x1="202.6" y1="466.8" x2="328.4" y2="466.8" stroke="#f0f0f0" stroke-width="0.6" />
<line x1="202.6" y1="424.2" x2="328.4" y2="424.2" stroke="#d0d0d0" stroke-width="0.8" />
<rect x="203.4" y="475.6" width="1" height="19.2" fill="#808080"/><rect x="205.98" y="475.6" width="2.2" height="19.2" fill="#666"/><rect x="209.33" y="475.6" width="1" height="19.2" fill="#e0e0e0"/><rect x="211.46" y="475.6" width="1.8" height="19.2" fill="#333"/><rect x="214.43" y="475.6" width="1" height="19.2" fill="#e0e0e0"/><rect x="215.65" y="475.6" width="1.2" height="19.2" fill="#b3b3b3"/><rect x="217.85" y="475.6" width="1" height="19.2" fill="#e0e0e0"/><rect x="220.45" y="475.6" width="1" height="19.2" fill="#ccc"/><rect x="221.73" y="475.6" width="2.2" height="19.2" fill="#e0e0e0"/><rect x="225.72" y="475.6" width="1.8" height="19.2" fill="#999"/><rect x="227.78" y="475.6" width="1.2" height="19.2" fill="#999"/><rect x="230.05" y="475.6" width="0.8" height="19.2" fill="#b3b3b3"/><rect x="232.71" y="475.6" width="1.2" height="19.2" fill="#000"/><rect x="234.36" y="475.6" width="2.6" height="19.2" fill="#1a1a1a"/><rect x="237.37" y="475.6" width="0.8" height="19.2" fill="#999"/><rect x="238.62" y="475.6" width="2.2" height="19.2" fill="#808080"/><rect x="241.68" y="475.6" width="1" height="19.2" fill="#333"/><rect x="243.96" y="475.6" width="1.5" height="19.2" fill="#4d4d4d"/><rect x="245.76" y="475.6" width="1" height="19.2" fill="#4d4d4d"/><rect x="248.02" y="475.6" width="2.6" height="19.2" fill="#b3b3b3"/><rect x="252" y="475.6" width="2.6" height="19.2" fill="#b3b3b3"/><rect x="256.31" y="475.6" width="0.8" height="19.2" fill="#1a1a1a"/><rect x="258.13" y="475.6" width="1.8" height="19.2" fill="#808080"/><rect x="260.4" y="475.6" width="1" height="19.2" fill="#999"/><rect x="262.17" y="475.6" width="1.2" height="19.2" fill="#999"/><rect x="264.27" y="475.6" width="1.2" height="19.2" fill="#999"/><rect x="266.19" y="475.6" width="0.8" height="19.2" fill="#1a1a1a"/><rect x="267.38" y="475.6" width="2.2" height="19.2" fill="#999"/><rect x="269.74" y="475.6" width="0.8" height="19.2" fill="#999"/><rect x="271.54" y="475.6" width="1.8" height="19.2" fill="#4d4d4d"/><rect x="274.29" y="475.6" width="1.2" height="19.2" fill="#999"/><rect x="276.98" y="475.6" width="0.8" height="19.2" fill="#333"/><rect x="278.82" y="475.6" width="2.2" height="19.2" fill="#808080"/><rect x="282.28" y="475.6" width="1.2" height="19.2" fill="#808080"/><rect x="284.61" y="475.6" width="1.2" height="19.2" fill="#4d4d4d"/><rect x="286.08" y="475.6" width="0.8" height="19.2" fill="#333"/><rect x="288" y="475.6" width="1.2" height="19.2" fill="#333"/><rect x="290.19" y="475.6" width="2.2" height="19.2" fill="#999"/><rect x="293.63" y="475.6" width="1" height="19.2" fill="#808080"/><rect x="295.87" y="475.6" width="1" height="19.2" fill="#ccc"/><rect x="297.69" y="475.6" width="1.2" height="19.2" fill="#999"/><rect x="299.61" y="475.6" width="2.2" height="19.2" fill="#4d4d4d"/><rect x="303.01" y="475.6" width="1" height="19.2" fill="#333"/><rect x="304.77" y="475.6" width="1.5" height="19.2" fill="#e0e0e0"/><rect x="306.84" y="475.6" width="2.2" height="19.2" fill="#999"/><rect x="309.22" y="475.6" width="1.2" height="19.2" fill="#000"/><rect x="311.45" y="475.6" width="2.2" height="19.2" fill="#4d4d4d"/><rect x="313.8" y="475.6" width="1" height="19.2" fill="#1a1a1a"/><rect x="315.32" y="475.6" width="2.6" height="19.2" fill="#666"/><rect x="318.68" y="475.6" width="1" height="19.2" fill="#1a1a1a"/><rect x="320.53" y="475.6" width="1.5" height="19.2" fill="#000"/><rect x="322.38" y="475.6" width="2.2" height="19.2" fill="#999"/><rect x="324.71" y="475.6" width="1" height="19.2" fill="#666"/><rect x="326.56" y="475.6" width="1.04" height="19.2" fill="#808080"/>
<rect x="202.6" y="494.8" width="125.8" height="4.5" fill="url(#cbar)" />
<path d="M203.5 419.03 L205.25 419.68 L207 419.71 L208.6 420.37 L210.2 420.3 L211.55 420.7 L212.9 421.54 L214.25 421.43 L215.6 422.41 L216.94 422.42 L218.29 423.03 L219.63 423.68 L220.97 423.92 L222.31 424.12 L223.66 424.69 L225 424.37 L226.34 425.39 L227.69 426.44 L229.03 427 L230.37 427.38 L231.71 427.84 L233.06 428.61 L234.4 429.34 L235.77 429.59 L237.13 430.86 L238.5 431.13 L239.75 431.78 L241.01 432.22 L242.26 433.1 L243.51 433.93 L244.77 434.45 L246.02 435.37 L247.27 436.15 L248.53 437.24 L249.78 438.15 L251.03 438.09 L252.29 438.96 L253.54 440.36 L254.79 440.35 L256.05 441.33 L257.3 442.36 L258.53 443.07 L259.75 443.52 L260.98 444.74 L262.21 445.44 L263.44 445.54 L264.66 446.91 L265.89 447.34 L267.12 448.18 L268.35 449 L269.57 449.8 L270.8 450.67 L272.02 450.85 L273.24 451.59 L274.45 452.34 L275.67 453.06 L276.89 454.34 L278.11 455.14 L279.33 455.43 L280.55 456.46 L281.76 457.29 L282.98 458.09 L284.2 458.74 L285.4 459.37 L286.6 460.37 L287.8 460.74 L289 461.78 L290.2 462.29 L291.4 463.21 L292.6 463.99 L293.8 464.9 L295 465.25 L296.35 466.01 L297.7 466.43 L299.05 467.17 L300.4 467.36 L301.75 467.22 L303.1 467.8 L304.45 468.45 L305.8 468.16 L307.15 469.18 L308.5 468.76 L309.85 469.64 L311.2 469.86 L312.53 470.48 L313.87 470.22 L315.2 470.43 L316.53 470.58 L317.87 470.93 L319.2 471.24 L320.57 471.2 L321.93 470.67 L323.3 470.6 L324.6 466.5 L326 450.4 L327.3 424.8 L327.9 419.8" fill="none" stroke="#6cb42c" stroke-width="1.3" stroke-linejoin="round"/>
<rect x="202.6" y="416.4" width="125.8" height="82.9" fill="none" stroke="#111" stroke-width="1.3"/>
<text x="199.6" y="426.4" text-anchor="end" stroke="#231f20" stroke-width="0.2" font-size="8.8">0</text>
<text x="199.6" y="435.2" text-anchor="end" stroke="#231f20" stroke-width="0.2" font-size="8.8">-0.1</text>
<text x="199.6" y="444" text-anchor="end" stroke="#231f20" stroke-width="0.2" font-size="8.8">-0.2</text>
<text x="199.6" y="452.5" text-anchor="end" stroke="#231f20" stroke-width="0.2" font-size="8.8">-0.3</text>
<text x="199.6" y="461.2" text-anchor="end" stroke="#231f20" stroke-width="0.2" font-size="8.8">-0.4</text>
<text x="199.6" y="469.7" text-anchor="end" stroke="#231f20" stroke-width="0.2" font-size="8.8">-0.5</text>
<text transform="translate(180.3 475.2) rotate(-90)" stroke="#231f20" stroke-width="0.2" textLength="59.5" lengthAdjust="spacingAndGlyphs" font-size="10">Enrichment score</text>
<text x="178.7" y="398.8" stroke="#231f20" stroke-width="0.2" textLength="37.4" lengthAdjust="spacingAndGlyphs" font-size="9">MOLM-13</text>
<text x="221.3" y="411" stroke="#231f20" stroke-width="0.2" textLength="88.6" lengthAdjust="spacingAndGlyphs" font-size="9.8">Genes down in <tspan font-style="italic">SIK3</tspan> KO</text>
<text x="262.4" y="423.4" fill="#d4298c" stroke="#d4298c" stroke-width="0.2" textLength="36.7" lengthAdjust="spacingAndGlyphs" font-size="8.6">NES: -2.48</text>
<text x="262.4" y="432.4" stroke="#231f20" stroke-width="0.2" textLength="56.9" lengthAdjust="spacingAndGlyphs" font-size="8.4">FWER <tspan font-style="italic">p</tspan>-value: 0</text>
<text x="198.5" y="510.9" stroke="#231f20" stroke-width="0.2" textLength="10.3" lengthAdjust="spacingAndGlyphs" font-size="9.2">Up</text>
<text x="317.6" y="510.9" stroke="#231f20" stroke-width="0.2" textLength="21" lengthAdjust="spacingAndGlyphs" font-size="9.2">Down</text>
<text x="223.8" y="523.8" stroke="#231f20" stroke-width="0.2" textLength="83.7" lengthAdjust="spacingAndGlyphs" font-size="10.8">In YKL-05-099 treatment</text>
<line x1="401.72" y1="416.3" x2="401.72" y2="475.8" stroke="#efefef" stroke-width="0.6" />
<line x1="426.54" y1="416.3" x2="426.54" y2="475.8" stroke="#efefef" stroke-width="0.6" />
<line x1="451.36" y1="416.3" x2="451.36" y2="475.8" stroke="#efefef" stroke-width="0.6" />
<line x1="476.18" y1="416.3" x2="476.18" y2="475.8" stroke="#efefef" stroke-width="0.6" />
<line x1="376.9" y1="435.2" x2="501" y2="435.2" stroke="#f0f0f0" stroke-width="0.6" />
<line x1="376.9" y1="444.6" x2="501" y2="444.6" stroke="#f0f0f0" stroke-width="0.6" />
<line x1="376.9" y1="454.1" x2="501" y2="454.1" stroke="#f0f0f0" stroke-width="0.6" />
<line x1="376.9" y1="463.8" x2="501" y2="463.8" stroke="#f0f0f0" stroke-width="0.6" />
<line x1="376.9" y1="472.9" x2="501" y2="472.9" stroke="#f0f0f0" stroke-width="0.6" />
<line x1="376.9" y1="425" x2="501" y2="425" stroke="#d0d0d0" stroke-width="0.8" />
<rect x="377.7" y="475.8" width="1" height="18.8" fill="#4d4d4d"/><rect x="378.97" y="475.8" width="1.5" height="18.8" fill="#333"/><rect x="382.06" y="475.8" width="2.2" height="18.8" fill="#b3b3b3"/><rect x="386.18" y="475.8" width="2.6" height="18.8" fill="#1a1a1a"/><rect x="389.43" y="475.8" width="0.8" height="18.8" fill="#808080"/><rect x="392.26" y="475.8" width="1" height="18.8" fill="#999"/><rect x="394.73" y="475.8" width="1.5" height="18.8" fill="#ccc"/><rect x="398.05" y="475.8" width="1.8" height="18.8" fill="#000"/><rect x="401.11" y="475.8" width="1.2" height="18.8" fill="#808080"/><rect x="402.84" y="475.8" width="2.6" height="18.8" fill="#1a1a1a"/><rect x="406.66" y="475.8" width="2.2" height="18.8" fill="#e0e0e0"/><rect x="410.74" y="475.8" width="1.8" height="18.8" fill="#000"/><rect x="413.9" y="475.8" width="1.8" height="18.8" fill="#808080"/><rect x="416.32" y="475.8" width="1.5" height="18.8" fill="#666"/><rect x="419.47" y="475.8" width="2.6" height="18.8" fill="#b3b3b3"/><rect x="423.08" y="475.8" width="1.2" height="18.8" fill="#666"/><rect x="425.51" y="475.8" width="1" height="18.8" fill="#808080"/><rect x="426.76" y="475.8" width="1.8" height="18.8" fill="#000"/><rect x="429.38" y="475.8" width="1.2" height="18.8" fill="#999"/><rect x="431.18" y="475.8" width="1.5" height="18.8" fill="#808080"/><rect x="433.85" y="475.8" width="1" height="18.8" fill="#666"/><rect x="435.85" y="475.8" width="1.5" height="18.8" fill="#b3b3b3"/><rect x="437.55" y="475.8" width="1.8" height="18.8" fill="#b3b3b3"/><rect x="440.32" y="475.8" width="1.8" height="18.8" fill="#808080"/><rect x="443.36" y="475.8" width="1.8" height="18.8" fill="#808080"/><rect x="445.44" y="475.8" width="1.5" height="18.8" fill="#808080"/><rect x="447.23" y="475.8" width="2.6" height="18.8" fill="#808080"/><rect x="450.06" y="475.8" width="2.6" height="18.8" fill="#4d4d4d"/><rect x="453.5" y="475.8" width="1.5" height="18.8" fill="#000"/><rect x="455.27" y="475.8" width="1" height="18.8" fill="#333"/><rect x="456.46" y="475.8" width="1.5" height="18.8" fill="#808080"/><rect x="458.33" y="475.8" width="1.2" height="18.8" fill="#b3b3b3"/><rect x="459.91" y="475.8" width="0.8" height="18.8" fill="#1a1a1a"/><rect x="461.53" y="475.8" width="2.6" height="18.8" fill="#e0e0e0"/><rect x="465.07" y="475.8" width="1" height="18.8" fill="#b3b3b3"/><rect x="467.05" y="475.8" width="0.8" height="18.8" fill="#4d4d4d"/><rect x="468.47" y="475.8" width="2.6" height="18.8" fill="#333"/><rect x="472.29" y="475.8" width="1.5" height="18.8" fill="#000"/><rect x="474.89" y="475.8" width="1.5" height="18.8" fill="#ccc"/><rect x="477.11" y="475.8" width="1.8" height="18.8" fill="#666"/><rect x="480.13" y="475.8" width="2.2" height="18.8" fill="#999"/><rect x="482.97" y="475.8" width="0.8" height="18.8" fill="#666"/><rect x="484.89" y="475.8" width="0.8" height="18.8" fill="#4d4d4d"/><rect x="486.79" y="475.8" width="0.8" height="18.8" fill="#1a1a1a"/><rect x="488.21" y="475.8" width="2.2" height="18.8" fill="#000"/><rect x="490.87" y="475.8" width="1" height="18.8" fill="#808080"/><rect x="492.67" y="475.8" width="1" height="18.8" fill="#000"/><rect x="493.85" y="475.8" width="1" height="18.8" fill="#666"/><rect x="495.61" y="475.8" width="1" height="18.8" fill="#4d4d4d"/><rect x="497.18" y="475.8" width="0.8" height="18.8" fill="#1a1a1a"/><rect x="498.11" y="475.8" width="2.09" height="18.8" fill="#000"/>
<rect x="376.9" y="494.6" width="124.1" height="5.4" fill="url(#cbar)" />
<path d="M377.2 420.11 L378.4 420.31 L379.6 420.17 L380.8 420.86 L382 420.81 L383.36 420.91 L384.72 420.72 L386.08 421.14 L387.44 421.13 L388.8 421.08 L390.04 420.8 L391.29 421.27 L392.53 421.89 L393.77 421.68 L395.01 421.68 L396.26 422.06 L397.5 421.78 L398.76 422.31 L400.02 423.08 L401.29 423.16 L402.55 423.45 L403.81 424.34 L405.08 424.29 L406.34 424.59 L407.6 424.62 L408.86 425.91 L410.12 426.64 L411.39 427.28 L412.65 428.69 L413.91 429.24 L415.18 429.99 L416.44 431.1 L417.7 431.51 L418.9 433 L420.1 433.7 L421.3 434.39 L422.5 435.43 L423.7 436.85 L424.9 437.5 L426.1 437.93 L427.3 439.65 L428.5 440.22 L429.7 441.09 L430.9 442.22 L432.1 442.93 L433.41 444.27 L434.72 445.14 L436.03 445.92 L437.34 446.86 L438.65 447.64 L439.95 448.88 L441.26 449.93 L442.57 450.14 L443.88 451.58 L445.19 452.66 L446.5 453.74 L447.71 454.27 L448.92 455.14 L450.12 455.57 L451.33 456.48 L452.54 457.1 L453.75 457.38 L454.96 458.51 L456.17 459.14 L457.38 459.78 L458.58 460.23 L459.79 461.58 L461 462.18 L462.28 462.8 L463.56 462.96 L464.83 463.54 L466.11 464.19 L467.39 465.01 L468.67 465.62 L469.94 466.63 L471.22 466.96 L472.5 468.15 L473.73 467.91 L474.96 468.84 L476.19 469.88 L477.41 470.16 L478.64 470.93 L479.87 471.7 L481.1 472.12 L482.33 471.45 L483.55 471.1 L484.77 471.68 L486 470.92 L487.27 470.38 L488.53 469.38 L489.8 469.1 L491.25 467.89 L492.7 466.65 L494.15 466.04 L495.6 464.96 L497 462 L498.4 459 L499.9 450.4 L500.6 427.3 L500.8 420" fill="none" stroke="#6cb42c" stroke-width="1.3" stroke-linejoin="round"/>
<rect x="376.9" y="416.3" width="124.1" height="83.7" fill="none" stroke="#111" stroke-width="1.3"/>
<text x="373.9" y="427.9" text-anchor="end" stroke="#231f20" stroke-width="0.2" font-size="8.8">0</text>
<text x="373.9" y="438.1" text-anchor="end" stroke="#231f20" stroke-width="0.2" font-size="8.8">-0.1</text>
<text x="373.9" y="447.5" text-anchor="end" stroke="#231f20" stroke-width="0.2" font-size="8.8">-0.2</text>
<text x="373.9" y="457" text-anchor="end" stroke="#231f20" stroke-width="0.2" font-size="8.8">-0.3</text>
<text x="373.9" y="466.7" text-anchor="end" stroke="#231f20" stroke-width="0.2" font-size="8.8">-0.4</text>
<text x="373.9" y="475.8" text-anchor="end" stroke="#231f20" stroke-width="0.2" font-size="8.8">-0.5</text>
<text transform="translate(355.6 479.1) rotate(-90)" stroke="#231f20" stroke-width="0.2" textLength="60.3" lengthAdjust="spacingAndGlyphs" font-size="10">Enrichment score</text>
<text x="388.5" y="411" stroke="#231f20" stroke-width="0.2" textLength="99.3" lengthAdjust="spacingAndGlyphs" font-size="9.8">Genes down in <tspan font-style="italic">MEF2C</tspan> KO</text>
<text x="424.9" y="424.2" fill="#d4298c" stroke="#d4298c" stroke-width="0.2" textLength="36.6" lengthAdjust="spacingAndGlyphs" font-size="8.6">NES: -2.16</text>
<text x="424.9" y="433.1" stroke="#231f20" stroke-width="0.2" textLength="71.5" lengthAdjust="spacingAndGlyphs" font-size="8.4">FWER <tspan font-style="italic">p</tspan>-value: 0.027</text>
<text x="370.9" y="510.9" stroke="#231f20" stroke-width="0.2" textLength="10.3" lengthAdjust="spacingAndGlyphs" font-size="9.2">Up</text>
<text x="490.8" y="510.9" stroke="#231f20" stroke-width="0.2" textLength="20.8" lengthAdjust="spacingAndGlyphs" font-size="9.2">Down</text>
<text x="395.8" y="523.8" stroke="#231f20" stroke-width="0.2" textLength="84.7" lengthAdjust="spacingAndGlyphs" font-size="10.8">In YKL-05-099 treatment</text>
<line x1="90.46" y1="560.6" x2="90.46" y2="619.8" stroke="#efefef" stroke-width="0.6" />
<line x1="115.12" y1="560.6" x2="115.12" y2="619.8" stroke="#efefef" stroke-width="0.6" />
<line x1="139.78" y1="560.6" x2="139.78" y2="619.8" stroke="#efefef" stroke-width="0.6" />
<line x1="164.44" y1="560.6" x2="164.44" y2="619.8" stroke="#efefef" stroke-width="0.6" />
<line x1="65.8" y1="579.6" x2="189.1" y2="579.6" stroke="#f0f0f0" stroke-width="0.6" />
<line x1="65.8" y1="594.6" x2="189.1" y2="594.6" stroke="#f0f0f0" stroke-width="0.6" />
<line x1="65.8" y1="609.4" x2="189.1" y2="609.4" stroke="#f0f0f0" stroke-width="0.6" />
<line x1="65.8" y1="564.2" x2="189.1" y2="564.2" stroke="#d0d0d0" stroke-width="0.8" />
<rect x="66.6" y="619.8" width="2.6" height="19.1" fill="#666"/><rect x="71.18" y="619.8" width="0.8" height="19.1" fill="#000"/><rect x="73.34" y="619.8" width="1.5" height="19.1" fill="#808080"/><rect x="76.07" y="619.8" width="1" height="19.1" fill="#ccc"/><rect x="77.64" y="619.8" width="1.5" height="19.1" fill="#000"/><rect x="79.76" y="619.8" width="1.5" height="19.1" fill="#000"/><rect x="81.67" y="619.8" width="2.2" height="19.1" fill="#999"/><rect x="84.85" y="619.8" width="1.8" height="19.1" fill="#b3b3b3"/><rect x="88.18" y="619.8" width="1.2" height="19.1" fill="#e0e0e0"/><rect x="89.68" y="619.8" width="2.6" height="19.1" fill="#000"/><rect x="93.52" y="619.8" width="2.2" height="19.1" fill="#333"/><rect x="96.99" y="619.8" width="2.2" height="19.1" fill="#808080"/><rect x="100.35" y="619.8" width="2.6" height="19.1" fill="#808080"/><rect x="104.76" y="619.8" width="1.2" height="19.1" fill="#b3b3b3"/><rect x="107.74" y="619.8" width="1.8" height="19.1" fill="#1a1a1a"/><rect x="111.03" y="619.8" width="1" height="19.1" fill="#ccc"/><rect x="112.97" y="619.8" width="2.6" height="19.1" fill="#999"/><rect x="116.8" y="619.8" width="1" height="19.1" fill="#333"/><rect x="119.2" y="619.8" width="1.8" height="19.1" fill="#808080"/><rect x="122.18" y="619.8" width="1.8" height="19.1" fill="#4d4d4d"/><rect x="125.01" y="619.8" width="0.8" height="19.1" fill="#1a1a1a"/><rect x="126.6" y="619.8" width="1.8" height="19.1" fill="#666"/><rect x="129.92" y="619.8" width="1.2" height="19.1" fill="#b3b3b3"/><rect x="131.75" y="619.8" width="1.2" height="19.1" fill="#666"/><rect x="133.86" y="619.8" width="2.6" height="19.1" fill="#999"/><rect x="137.38" y="619.8" width="1.2" height="19.1" fill="#333"/><rect x="138.87" y="619.8" width="2.6" height="19.1" fill="#1a1a1a"/><rect x="142.57" y="619.8" width="2.6" height="19.1" fill="#999"/><rect x="145.63" y="619.8" width="1.8" height="19.1" fill="#333"/><rect x="148.75" y="619.8" width="1.8" height="19.1" fill="#1a1a1a"/><rect x="151.87" y="619.8" width="1" height="19.1" fill="#999"/><rect x="154.2" y="619.8" width="0.8" height="19.1" fill="#b3b3b3"/><rect x="155.64" y="619.8" width="0.8" height="19.1" fill="#333"/><rect x="157.54" y="619.8" width="2.2" height="19.1" fill="#000"/><rect x="161.01" y="619.8" width="2.6" height="19.1" fill="#ccc"/><rect x="164.83" y="619.8" width="1.8" height="19.1" fill="#999"/><rect x="167.58" y="619.8" width="1.2" height="19.1" fill="#000"/><rect x="169.97" y="619.8" width="1.5" height="19.1" fill="#999"/><rect x="171.79" y="619.8" width="0.8" height="19.1" fill="#4d4d4d"/><rect x="173.2" y="619.8" width="1" height="19.1" fill="#999"/><rect x="175.3" y="619.8" width="1" height="19.1" fill="#000"/><rect x="176.52" y="619.8" width="1.8" height="19.1" fill="#1a1a1a"/><rect x="179.13" y="619.8" width="1.8" height="19.1" fill="#333"/><rect x="181.29" y="619.8" width="1.5" height="19.1" fill="#1a1a1a"/><rect x="183.77" y="619.8" width="1.5" height="19.1" fill="#666"/><rect x="186" y="619.8" width="1.5" height="19.1" fill="#1a1a1a"/>
<rect x="65.8" y="638.9" width="123.3" height="4.7" fill="url(#cbar)" />
<path d="M66.3 562.1 L67.53 562.46 L68.77 563.08 L70 563.15 L71.47 564.69 L72.93 564.75 L74.4 566.03 L75.63 566.46 L76.86 567.55 L78.09 567.54 L79.31 568.31 L80.54 568.92 L81.77 569.46 L83 569.85 L84.45 570.74 L85.9 570.93 L87.35 571.89 L88.8 571.91 L90.04 572.79 L91.29 573.57 L92.53 574.64 L93.77 574.56 L95.01 575.26 L96.26 576.5 L97.5 576.47 L98.78 578.04 L100.06 578.5 L101.33 578.99 L102.61 580.27 L103.89 580.98 L105.17 581.36 L106.44 582.54 L107.72 582.77 L109 583.9 L110.21 584.62 L111.42 585.68 L112.62 586.03 L113.83 586.91 L115.04 588.04 L116.25 588.61 L117.46 589.57 L118.67 590.32 L119.88 591.15 L121.08 592.15 L122.29 592.59 L123.5 593.55 L124.7 594 L125.9 594.41 L127.1 595.78 L128.3 595.98 L129.5 597.27 L130.7 598.07 L131.9 598.56 L133.1 598.84 L134.3 599.7 L135.5 600.47 L136.7 600.9 L137.9 601.96 L139.1 602.62 L140.3 602.95 L141.5 603.37 L142.7 603.83 L143.9 604.87 L145.1 604.86 L146.3 605.72 L147.5 606.16 L148.7 606.98 L149.9 607.7 L151.1 608.42 L152.3 608.72 L153.58 609.59 L154.86 610.11 L156.13 610.35 L157.41 610.54 L158.69 611.31 L159.97 611.58 L161.24 612.85 L162.52 612.91 L163.8 613.73 L165.09 613.41 L166.38 613.82 L167.67 614.19 L168.96 614.57 L170.24 614.98 L171.53 615.23 L172.82 615.7 L174.11 616.01 L175.4 616.05 L176.82 615.81 L178.25 615.87 L179.68 615.43 L181.1 615.54 L182.57 613.99 L184.03 613.3 L185.5 612.1 L187.5 603.5 L188.4 566 L188.7 562" fill="none" stroke="#6cb42c" stroke-width="1.3" stroke-linejoin="round"/>
<rect x="65.8" y="560.6" width="123.3" height="83" fill="none" stroke="#111" stroke-width="1.3"/>
<text x="62.4" y="567.1" text-anchor="end" stroke="#231f20" stroke-width="0.2" font-size="8.8">0</text>
<text x="62.4" y="582.5" text-anchor="end" stroke="#231f20" stroke-width="0.2" font-size="8.8">-0.2</text>
<text x="62.4" y="597.5" text-anchor="end" stroke="#231f20" stroke-width="0.2" font-size="8.8">-0.4</text>
<text x="62.4" y="612.3" text-anchor="end" stroke="#231f20" stroke-width="0.2" font-size="8.8">-0.6</text>
<text transform="translate(43.6 617.1) rotate(-90)" stroke="#231f20" stroke-width="0.2" textLength="59.6" lengthAdjust="spacingAndGlyphs" font-size="10">Enrichment score</text>
<text x="41.3" y="543.5" stroke="#231f20" stroke-width="0.2" textLength="16.2" lengthAdjust="spacingAndGlyphs" font-size="9">RN2</text>
<text x="83.5" y="555.6" stroke="#231f20" stroke-width="0.2" textLength="87.1" lengthAdjust="spacingAndGlyphs" font-size="9.6">Genes down in Sik3 KO</text>
<text x="126.7" y="571.2" fill="#d4298c" stroke="#d4298c" stroke-width="0.2" textLength="36.7" lengthAdjust="spacingAndGlyphs" font-size="8.6">NES: -2.72</text>
<text x="126.7" y="579.8" stroke="#231f20" stroke-width="0.2" textLength="57.7" lengthAdjust="spacingAndGlyphs" font-size="8.4">FWER <tspan font-style="italic">p</tspan>-value: 0</text>
<text x="60.8" y="655" stroke="#231f20" stroke-width="0.2" textLength="10.9" lengthAdjust="spacingAndGlyphs" font-size="9.6">Up</text>
<text x="180.5" y="655" stroke="#231f20" stroke-width="0.2" textLength="21.6" lengthAdjust="spacingAndGlyphs" font-size="9.6">Down</text>
<text x="85.3" y="668.3" stroke="#231f20" stroke-width="0.2" textLength="84.5" lengthAdjust="spacingAndGlyphs" font-size="11">In YKL-05-099 treatment</text>
<line x1="264.82" y1="560.6" x2="264.82" y2="620.3" stroke="#efefef" stroke-width="0.6" />
<line x1="289.64" y1="560.6" x2="289.64" y2="620.3" stroke="#efefef" stroke-width="0.6" />
<line x1="314.46" y1="560.6" x2="314.46" y2="620.3" stroke="#efefef" stroke-width="0.6" />
<line x1="339.28" y1="560.6" x2="339.28" y2="620.3" stroke="#efefef" stroke-width="0.6" />
<line x1="240" y1="581.5" x2="364.1" y2="581.5" stroke="#f0f0f0" stroke-width="0.6" />
<line x1="240" y1="597.3" x2="364.1" y2="597.3" stroke="#f0f0f0" stroke-width="0.6" />
<line x1="240" y1="613.3" x2="364.1" y2="613.3" stroke="#f0f0f0" stroke-width="0.6" />
<line x1="240" y1="565.2" x2="364.1" y2="565.2" stroke="#d0d0d0" stroke-width="0.8" />
<rect x="240.8" y="620.3" width="2.2" height="18.7" fill="#808080"/><rect x="244.88" y="620.3" width="1" height="18.7" fill="#4d4d4d"/><rect x="248.03" y="620.3" width="1" height="18.7" fill="#333"/><rect x="250.52" y="620.3" width="0.8" height="18.7" fill="#ccc"/><rect x="252.96" y="620.3" width="1" height="18.7" fill="#e0e0e0"/><rect x="255.49" y="620.3" width="2.2" height="18.7" fill="#e0e0e0"/><rect x="257.92" y="620.3" width="1.5" height="18.7" fill="#ccc"/><rect x="261.42" y="620.3" width="0.8" height="18.7" fill="#000"/><rect x="263.35" y="620.3" width="1.5" height="18.7" fill="#ccc"/><rect x="266.55" y="620.3" width="2.2" height="18.7" fill="#666"/><rect x="269.81" y="620.3" width="0.8" height="18.7" fill="#b3b3b3"/><rect x="272.11" y="620.3" width="2.6" height="18.7" fill="#b3b3b3"/><rect x="275.17" y="620.3" width="1.2" height="18.7" fill="#666"/><rect x="276.68" y="620.3" width="2.2" height="18.7" fill="#808080"/><rect x="280.16" y="620.3" width="0.8" height="18.7" fill="#4d4d4d"/><rect x="281.66" y="620.3" width="2.2" height="18.7" fill="#1a1a1a"/><rect x="284.54" y="620.3" width="1" height="18.7" fill="#b3b3b3"/><rect x="286.67" y="620.3" width="1" height="18.7" fill="#999"/><rect x="289.2" y="620.3" width="1.2" height="18.7" fill="#999"/><rect x="291.72" y="620.3" width="1" height="18.7" fill="#1a1a1a"/><rect x="293.77" y="620.3" width="2.6" height="18.7" fill="#333"/><rect x="297.53" y="620.3" width="1.2" height="18.7" fill="#999"/><rect x="299.19" y="620.3" width="1.8" height="18.7" fill="#e0e0e0"/><rect x="301.34" y="620.3" width="1.8" height="18.7" fill="#666"/><rect x="304.74" y="620.3" width="2.6" height="18.7" fill="#4d4d4d"/><rect x="308.26" y="620.3" width="1" height="18.7" fill="#1a1a1a"/><rect x="310.28" y="620.3" width="1.2" height="18.7" fill="#808080"/><rect x="312.52" y="620.3" width="2.2" height="18.7" fill="#4d4d4d"/><rect x="315.4" y="620.3" width="2.6" height="18.7" fill="#666"/><rect x="318.68" y="620.3" width="1.5" height="18.7" fill="#808080"/><rect x="321.4" y="620.3" width="1.2" height="18.7" fill="#e0e0e0"/><rect x="322.97" y="620.3" width="1.8" height="18.7" fill="#808080"/><rect x="325.34" y="620.3" width="1" height="18.7" fill="#808080"/><rect x="326.52" y="620.3" width="2.6" height="18.7" fill="#999"/><rect x="330.12" y="620.3" width="1.5" height="18.7" fill="#999"/><rect x="332.7" y="620.3" width="0.8" height="18.7" fill="#000"/><rect x="333.72" y="620.3" width="1.2" height="18.7" fill="#ccc"/><rect x="335.53" y="620.3" width="1.5" height="18.7" fill="#999"/><rect x="337.73" y="620.3" width="1.8" height="18.7" fill="#808080"/><rect x="340.61" y="620.3" width="2.6" height="18.7" fill="#4d4d4d"/><rect x="343.65" y="620.3" width="1.2" height="18.7" fill="#666"/><rect x="345.12" y="620.3" width="2.2" height="18.7" fill="#1a1a1a"/><rect x="348.29" y="620.3" width="2.2" height="18.7" fill="#000"/><rect x="351.55" y="620.3" width="1.8" height="18.7" fill="#000"/><rect x="354.16" y="620.3" width="1.5" height="18.7" fill="#808080"/><rect x="356.4" y="620.3" width="1.2" height="18.7" fill="#4d4d4d"/><rect x="358.14" y="620.3" width="2.2" height="18.7" fill="#666"/><rect x="360.75" y="620.3" width="2.2" height="18.7" fill="#000"/>
<rect x="240" y="639" width="124.1" height="4.6" fill="url(#cbar)" />
<path d="M240.4 563.71 L242.2 563.49 L244 563.31 L245.36 564.2 L246.72 563.88 L248.08 564.4 L249.44 563.9 L250.8 564.2 L252.07 565.35 L253.34 565.64 L254.61 565.36 L255.88 566.2 L257.15 566.58 L258.42 566.84 L259.69 567.15 L260.96 567.77 L262.23 568.05 L263.5 568.52 L264.74 569.8 L265.98 570.01 L267.22 570.63 L268.46 571.39 L269.71 571.8 L270.95 573.18 L272.19 573.51 L273.43 574.31 L274.67 575.27 L275.91 575.16 L277.15 576.24 L278.39 576.83 L279.64 577.76 L280.88 578.28 L282.12 578.81 L283.36 579.2 L284.6 580.23 L285.85 581.21 L287.09 582.1 L288.34 582.4 L289.59 583.2 L290.84 584.21 L292.08 584.64 L293.33 585.34 L294.58 586.39 L295.82 587.27 L297.07 587.91 L298.32 588.81 L299.56 588.87 L300.81 589.94 L302.06 590.26 L303.31 591.8 L304.55 591.91 L305.8 592.92 L307.04 593.7 L308.28 594.12 L309.52 594.75 L310.76 595.37 L312.01 596.09 L313.25 596.77 L314.49 597.47 L315.73 597.86 L316.97 598.42 L318.21 598.83 L319.45 599.33 L320.69 600.21 L321.94 601.41 L323.18 601.6 L324.42 601.94 L325.66 602.85 L326.9 603.71 L328.11 604.34 L329.31 604.47 L330.52 605.23 L331.73 605.27 L332.94 606.52 L334.14 606.66 L335.35 606.95 L336.56 607.58 L337.76 608.67 L338.97 609.28 L340.18 609.2 L341.39 610.43 L342.59 610.31 L343.8 610.71 L345.12 611.3 L346.45 612.05 L347.77 613.17 L349.1 613.66 L350.43 614.6 L351.75 614.59 L353.07 615.18 L354.4 616.42 L355.77 615.26 L357.15 614.42 L358.52 613.86 L359.9 612.35 L362 607.7 L363.4 575 L363.7 562" fill="none" stroke="#6cb42c" stroke-width="1.3" stroke-linejoin="round"/>
<rect x="240" y="560.6" width="124.1" height="83" fill="none" stroke="#111" stroke-width="1.3"/>
<text x="236.8" y="568.1" text-anchor="end" stroke="#231f20" stroke-width="0.2" font-size="8.8">0</text>
<text x="236.8" y="584.4" text-anchor="end" stroke="#231f20" stroke-width="0.2" font-size="8.8">-0.2</text>
<text x="236.8" y="600.2" text-anchor="end" stroke="#231f20" stroke-width="0.2" font-size="8.8">-0.4</text>
<text x="236.8" y="616.2" text-anchor="end" stroke="#231f20" stroke-width="0.2" font-size="8.8">-0.6</text>
<text transform="translate(218 619) rotate(-90)" stroke="#231f20" stroke-width="0.2" textLength="58.6" lengthAdjust="spacingAndGlyphs" font-size="10">Enrichment score</text>
<text x="254.1" y="555.6" stroke="#231f20" stroke-width="0.2" textLength="96.1" lengthAdjust="spacingAndGlyphs" font-size="9.6">Genes down in <tspan font-style="italic">Mef2c</tspan> KO</text>
<text x="300.7" y="572.8" fill="#d4298c" stroke="#d4298c" stroke-width="0.2" textLength="36.8" lengthAdjust="spacingAndGlyphs" font-size="8.6">NES: -2.53</text>
<text x="300.7" y="583.2" stroke="#231f20" stroke-width="0.2" textLength="57.9" lengthAdjust="spacingAndGlyphs" font-size="8.4">FWER <tspan font-style="italic">p</tspan>-value: 0</text>
<text x="235.1" y="655.3" stroke="#231f20" stroke-width="0.2" textLength="11.2" lengthAdjust="spacingAndGlyphs" font-size="9.6">Up</text>
<text x="354.4" y="655.3" stroke="#231f20" stroke-width="0.2" textLength="22.2" lengthAdjust="spacingAndGlyphs" font-size="9.6">Down</text>
<text x="260" y="668.6" stroke="#231f20" stroke-width="0.2" textLength="84.7" lengthAdjust="spacingAndGlyphs" font-size="11">In YKL-05-099 treatment</text>
<rect x="0.5" y="0.5" width="519" height="677" fill="none" stroke="#000" stroke-width="1.2"/>
</svg></body></html>
